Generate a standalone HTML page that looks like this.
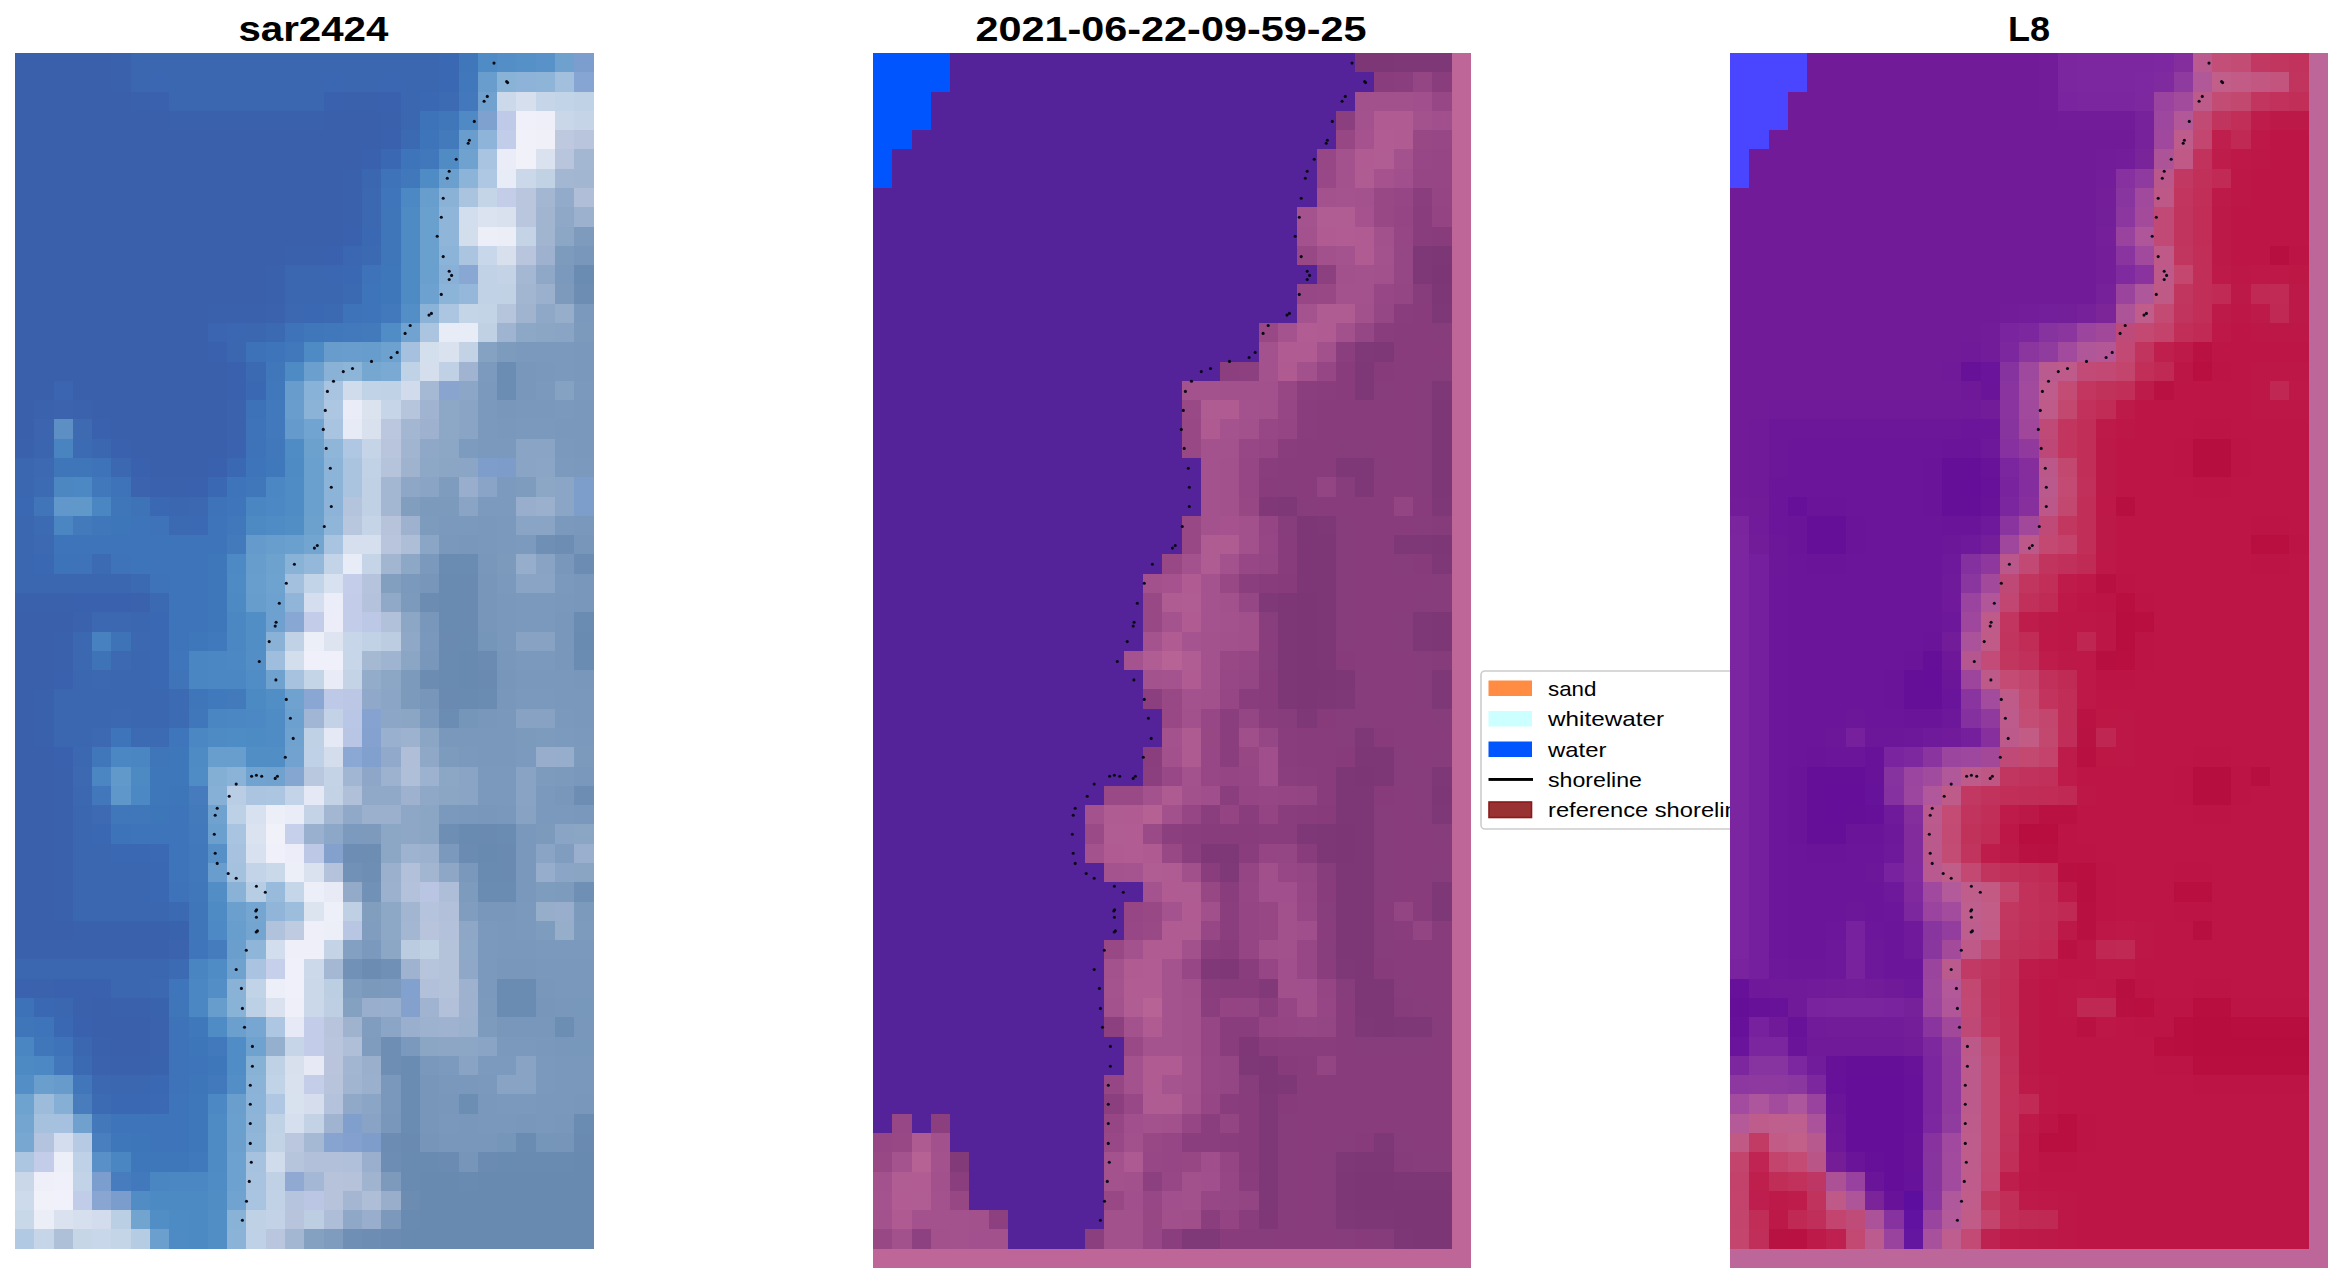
<!DOCTYPE html>
<html><head><meta charset="utf-8"><title>shoreline comparison</title>
<style>
html,body{margin:0;padding:0;background:#fff;}
body{width:2343px;height:1283px;position:relative;overflow:hidden;font-family:"Liberation Sans",sans-serif;}
</style></head><body>
<svg width="2343" height="1283" viewBox="0 0 2343 1283" style="position:absolute;left:0;top:0">
<g shape-rendering="crispEdges">
<!-- panel 1: sar2424 RGB -->
<rect x="15" y="53" width="96" height="19" fill="#3A60AC"/>
<rect x="111" y="53" width="20" height="19" fill="#3A61AC"/>
<rect x="131" y="53" width="19" height="19" fill="#3B66B0"/>
<rect x="150" y="53" width="289" height="19" fill="#3B67B1"/>
<rect x="439" y="53" width="20" height="19" fill="#3B68B2"/>
<rect x="459" y="53" width="19" height="19" fill="#4076BA"/>
<rect x="478" y="53" width="19" height="19" fill="#4F8BC4"/>
<rect x="497" y="53" width="19" height="19" fill="#538FC6"/>
<rect x="516" y="53" width="20" height="19" fill="#5590C7"/>
<rect x="536" y="53" width="19" height="19" fill="#5892C8"/>
<rect x="555" y="53" width="19" height="19" fill="#6FA1CF"/>
<rect x="574" y="53" width="20" height="19" fill="#7C9ECF"/>
<rect x="15" y="72" width="96" height="20" fill="#3A60AC"/>
<rect x="111" y="72" width="20" height="20" fill="#3A61AC"/>
<rect x="131" y="72" width="19" height="20" fill="#3B66B0"/>
<rect x="150" y="72" width="19" height="20" fill="#3B66B1"/>
<rect x="169" y="72" width="155" height="20" fill="#3B67B1"/>
<rect x="324" y="72" width="19" height="20" fill="#3B66B1"/>
<rect x="343" y="72" width="38" height="20" fill="#3B66B0"/>
<rect x="381" y="72" width="20" height="20" fill="#3B66B1"/>
<rect x="401" y="72" width="38" height="20" fill="#3B67B1"/>
<rect x="439" y="72" width="20" height="20" fill="#3B68B2"/>
<rect x="459" y="72" width="19" height="20" fill="#4177BB"/>
<rect x="478" y="72" width="19" height="20" fill="#689DCD"/>
<rect x="497" y="72" width="19" height="20" fill="#89B2D7"/>
<rect x="516" y="72" width="20" height="20" fill="#8DB4D8"/>
<rect x="536" y="72" width="19" height="20" fill="#8EB5D8"/>
<rect x="555" y="72" width="19" height="20" fill="#A2BFDD"/>
<rect x="574" y="72" width="20" height="20" fill="#86A5D2"/>
<rect x="15" y="92" width="116" height="19" fill="#3A60AC"/>
<rect x="131" y="92" width="19" height="19" fill="#3A61AC"/>
<rect x="150" y="92" width="19" height="19" fill="#3A61AD"/>
<rect x="169" y="92" width="155" height="19" fill="#3B66B0"/>
<rect x="324" y="92" width="19" height="19" fill="#3A61AD"/>
<rect x="343" y="92" width="38" height="19" fill="#3A61AC"/>
<rect x="381" y="92" width="20" height="19" fill="#3A61AD"/>
<rect x="401" y="92" width="19" height="19" fill="#3B67B1"/>
<rect x="420" y="92" width="19" height="19" fill="#3B68B2"/>
<rect x="439" y="92" width="20" height="19" fill="#3C6AB3"/>
<rect x="459" y="92" width="19" height="19" fill="#4379BC"/>
<rect x="478" y="92" width="19" height="19" fill="#70A1CF"/>
<rect x="497" y="92" width="19" height="19" fill="#CBD9EB"/>
<rect x="516" y="92" width="20" height="19" fill="#D5DFEE"/>
<rect x="536" y="92" width="19" height="19" fill="#C6D6E8"/>
<rect x="555" y="92" width="19" height="19" fill="#C2D4E7"/>
<rect x="574" y="92" width="20" height="19" fill="#C0D2E6"/>
<rect x="15" y="111" width="154" height="19" fill="#3A60AC"/>
<rect x="169" y="111" width="155" height="19" fill="#3A61AC"/>
<rect x="324" y="111" width="57" height="19" fill="#3A60AC"/>
<rect x="381" y="111" width="20" height="19" fill="#3A61AC"/>
<rect x="401" y="111" width="19" height="19" fill="#3B67B1"/>
<rect x="420" y="111" width="19" height="19" fill="#3D73B8"/>
<rect x="439" y="111" width="20" height="19" fill="#4076BA"/>
<rect x="459" y="111" width="19" height="19" fill="#508AC4"/>
<rect x="478" y="111" width="19" height="19" fill="#7FA1D0"/>
<rect x="497" y="111" width="19" height="19" fill="#BECAE8"/>
<rect x="516" y="111" width="20" height="19" fill="#EFF0F9"/>
<rect x="536" y="111" width="19" height="19" fill="#EEEFF8"/>
<rect x="555" y="111" width="19" height="19" fill="#C9D7E9"/>
<rect x="574" y="111" width="20" height="19" fill="#C5D4E7"/>
<rect x="15" y="130" width="366" height="19" fill="#3A60AC"/>
<rect x="381" y="130" width="20" height="19" fill="#3A61AD"/>
<rect x="401" y="130" width="19" height="19" fill="#3B69B2"/>
<rect x="420" y="130" width="19" height="19" fill="#3E74BA"/>
<rect x="439" y="130" width="20" height="19" fill="#427ABC"/>
<rect x="459" y="130" width="19" height="19" fill="#689DCD"/>
<rect x="478" y="130" width="19" height="19" fill="#8FB4D9"/>
<rect x="497" y="130" width="19" height="19" fill="#C2CDE9"/>
<rect x="516" y="130" width="20" height="19" fill="#F1F1FA"/>
<rect x="536" y="130" width="19" height="19" fill="#EFF0F8"/>
<rect x="555" y="130" width="19" height="19" fill="#BEC9E0"/>
<rect x="574" y="130" width="20" height="19" fill="#B8C5DC"/>
<rect x="15" y="149" width="347" height="20" fill="#3A60AC"/>
<rect x="362" y="149" width="19" height="20" fill="#3A61AD"/>
<rect x="381" y="149" width="20" height="20" fill="#3B68B2"/>
<rect x="401" y="149" width="19" height="20" fill="#3E74B9"/>
<rect x="420" y="149" width="19" height="20" fill="#4078BB"/>
<rect x="439" y="149" width="20" height="20" fill="#508BC4"/>
<rect x="459" y="149" width="19" height="20" fill="#6FA2CF"/>
<rect x="478" y="149" width="19" height="20" fill="#A9C4E0"/>
<rect x="497" y="149" width="19" height="20" fill="#EAEDF8"/>
<rect x="516" y="149" width="20" height="20" fill="#F0F1F9"/>
<rect x="536" y="149" width="19" height="20" fill="#DAE1EF"/>
<rect x="555" y="149" width="19" height="20" fill="#B9C5DD"/>
<rect x="574" y="149" width="20" height="20" fill="#A4B7D2"/>
<rect x="15" y="169" width="328" height="19" fill="#3A60AC"/>
<rect x="343" y="169" width="19" height="19" fill="#3A61AC"/>
<rect x="362" y="169" width="19" height="19" fill="#3B67B1"/>
<rect x="381" y="169" width="20" height="19" fill="#3E73B9"/>
<rect x="401" y="169" width="19" height="19" fill="#4078BB"/>
<rect x="420" y="169" width="19" height="19" fill="#4F8BC4"/>
<rect x="439" y="169" width="20" height="19" fill="#6BA0CE"/>
<rect x="459" y="169" width="19" height="19" fill="#8CB4D8"/>
<rect x="478" y="169" width="19" height="19" fill="#AEC7E2"/>
<rect x="497" y="169" width="19" height="19" fill="#E8ECF7"/>
<rect x="516" y="169" width="20" height="19" fill="#CBD8EA"/>
<rect x="536" y="169" width="19" height="19" fill="#C2D2E5"/>
<rect x="555" y="169" width="19" height="19" fill="#A4B7D2"/>
<rect x="574" y="169" width="20" height="19" fill="#A2B5D1"/>
<rect x="15" y="188" width="328" height="19" fill="#3A60AC"/>
<rect x="343" y="188" width="19" height="19" fill="#3A61AC"/>
<rect x="362" y="188" width="19" height="19" fill="#3B68B1"/>
<rect x="381" y="188" width="20" height="19" fill="#3F75BA"/>
<rect x="401" y="188" width="19" height="19" fill="#4C88C3"/>
<rect x="420" y="188" width="19" height="19" fill="#689ECD"/>
<rect x="439" y="188" width="20" height="19" fill="#8AB2D7"/>
<rect x="459" y="188" width="19" height="19" fill="#AAC4E0"/>
<rect x="478" y="188" width="19" height="19" fill="#C5D5E8"/>
<rect x="497" y="188" width="19" height="19" fill="#C3CDE8"/>
<rect x="516" y="188" width="20" height="19" fill="#BAC6DE"/>
<rect x="536" y="188" width="19" height="19" fill="#A3B7D2"/>
<rect x="555" y="188" width="19" height="19" fill="#93ABCA"/>
<rect x="574" y="188" width="20" height="19" fill="#B0BED8"/>
<rect x="15" y="207" width="328" height="20" fill="#3A60AC"/>
<rect x="343" y="207" width="19" height="20" fill="#3A61AC"/>
<rect x="362" y="207" width="19" height="20" fill="#3B68B1"/>
<rect x="381" y="207" width="20" height="20" fill="#3F76BA"/>
<rect x="401" y="207" width="19" height="20" fill="#4E8AC4"/>
<rect x="420" y="207" width="19" height="20" fill="#6AA0CE"/>
<rect x="439" y="207" width="20" height="20" fill="#8FB6D9"/>
<rect x="459" y="207" width="19" height="20" fill="#D2DEED"/>
<rect x="478" y="207" width="19" height="20" fill="#DCE3F0"/>
<rect x="497" y="207" width="19" height="20" fill="#D9E1EF"/>
<rect x="516" y="207" width="20" height="20" fill="#BAC6DE"/>
<rect x="536" y="207" width="19" height="20" fill="#A1B5D0"/>
<rect x="555" y="207" width="19" height="20" fill="#90A8C8"/>
<rect x="574" y="207" width="20" height="20" fill="#9CB1CE"/>
<rect x="15" y="227" width="328" height="19" fill="#3A60AC"/>
<rect x="343" y="227" width="19" height="19" fill="#3A61AD"/>
<rect x="362" y="227" width="19" height="19" fill="#3B68B2"/>
<rect x="381" y="227" width="20" height="19" fill="#3F76BA"/>
<rect x="401" y="227" width="19" height="19" fill="#4E8AC4"/>
<rect x="420" y="227" width="19" height="19" fill="#6AA0CE"/>
<rect x="439" y="227" width="20" height="19" fill="#8FB6D9"/>
<rect x="459" y="227" width="19" height="19" fill="#D3DEED"/>
<rect x="478" y="227" width="19" height="19" fill="#EDEFF8"/>
<rect x="497" y="227" width="19" height="19" fill="#ECEEF7"/>
<rect x="516" y="227" width="20" height="19" fill="#C4D3E6"/>
<rect x="536" y="227" width="19" height="19" fill="#A1B5D1"/>
<rect x="555" y="227" width="19" height="19" fill="#8CA6C6"/>
<rect x="574" y="227" width="20" height="19" fill="#7E9BBE"/>
<rect x="15" y="246" width="270" height="19" fill="#3A60AC"/>
<rect x="285" y="246" width="39" height="19" fill="#3A61AC"/>
<rect x="324" y="246" width="19" height="19" fill="#3A61AD"/>
<rect x="343" y="246" width="19" height="19" fill="#3B66B1"/>
<rect x="362" y="246" width="19" height="19" fill="#3B69B2"/>
<rect x="381" y="246" width="20" height="19" fill="#3F76BA"/>
<rect x="401" y="246" width="19" height="19" fill="#4E8AC4"/>
<rect x="420" y="246" width="19" height="19" fill="#6AA0CE"/>
<rect x="439" y="246" width="20" height="19" fill="#8CB3D8"/>
<rect x="459" y="246" width="19" height="19" fill="#ABC5E0"/>
<rect x="478" y="246" width="19" height="19" fill="#C8D7E9"/>
<rect x="497" y="246" width="19" height="19" fill="#D8E0EE"/>
<rect x="516" y="246" width="20" height="19" fill="#B8C5DD"/>
<rect x="536" y="246" width="19" height="19" fill="#9EB2CF"/>
<rect x="555" y="246" width="19" height="19" fill="#7D9BBD"/>
<rect x="574" y="246" width="20" height="19" fill="#7897BB"/>
<rect x="15" y="265" width="251" height="19" fill="#3A60AC"/>
<rect x="266" y="265" width="19" height="19" fill="#3A61AC"/>
<rect x="285" y="265" width="39" height="19" fill="#3B66B0"/>
<rect x="324" y="265" width="19" height="19" fill="#3B66B1"/>
<rect x="343" y="265" width="19" height="19" fill="#3B68B2"/>
<rect x="362" y="265" width="19" height="19" fill="#3E73B9"/>
<rect x="381" y="265" width="20" height="19" fill="#3F77BB"/>
<rect x="401" y="265" width="19" height="19" fill="#4E8AC4"/>
<rect x="420" y="265" width="19" height="19" fill="#6AA0CE"/>
<rect x="439" y="265" width="20" height="19" fill="#89B1D7"/>
<rect x="459" y="265" width="19" height="19" fill="#88A7D3"/>
<rect x="478" y="265" width="19" height="19" fill="#C1D2E6"/>
<rect x="497" y="265" width="19" height="19" fill="#C4D4E6"/>
<rect x="516" y="265" width="20" height="19" fill="#A5B8D3"/>
<rect x="536" y="265" width="19" height="19" fill="#8FA8C7"/>
<rect x="555" y="265" width="19" height="19" fill="#7B99BC"/>
<rect x="574" y="265" width="20" height="19" fill="#6B8CB2"/>
<rect x="15" y="284" width="251" height="20" fill="#3A60AC"/>
<rect x="266" y="284" width="19" height="20" fill="#3A61AC"/>
<rect x="285" y="284" width="19" height="20" fill="#3B66B0"/>
<rect x="304" y="284" width="39" height="20" fill="#3B67B1"/>
<rect x="343" y="284" width="19" height="20" fill="#3B69B2"/>
<rect x="362" y="284" width="19" height="20" fill="#3E74B9"/>
<rect x="381" y="284" width="20" height="20" fill="#3F77BB"/>
<rect x="401" y="284" width="19" height="20" fill="#4E8BC4"/>
<rect x="420" y="284" width="19" height="20" fill="#6DA1CF"/>
<rect x="439" y="284" width="20" height="20" fill="#8CB4D8"/>
<rect x="459" y="284" width="19" height="20" fill="#95B8DA"/>
<rect x="478" y="284" width="19" height="20" fill="#C1D2E6"/>
<rect x="497" y="284" width="19" height="20" fill="#C2D2E5"/>
<rect x="516" y="284" width="20" height="20" fill="#A2B6D2"/>
<rect x="536" y="284" width="19" height="20" fill="#9BB0CD"/>
<rect x="555" y="284" width="19" height="20" fill="#7D9ABD"/>
<rect x="574" y="284" width="20" height="20" fill="#6D8DB3"/>
<rect x="15" y="304" width="193" height="19" fill="#3A60AC"/>
<rect x="208" y="304" width="58" height="19" fill="#3A61AC"/>
<rect x="266" y="304" width="19" height="19" fill="#3A62AD"/>
<rect x="285" y="304" width="19" height="19" fill="#3B68B1"/>
<rect x="304" y="304" width="20" height="19" fill="#3B68B2"/>
<rect x="324" y="304" width="19" height="19" fill="#3B69B2"/>
<rect x="343" y="304" width="19" height="19" fill="#3E73B9"/>
<rect x="362" y="304" width="19" height="19" fill="#3E75BA"/>
<rect x="381" y="304" width="20" height="19" fill="#4179BC"/>
<rect x="401" y="304" width="19" height="19" fill="#538EC6"/>
<rect x="420" y="304" width="19" height="19" fill="#8AB3D7"/>
<rect x="439" y="304" width="20" height="19" fill="#ACC6E1"/>
<rect x="459" y="304" width="19" height="19" fill="#C4D5E8"/>
<rect x="478" y="304" width="19" height="19" fill="#C4D4E7"/>
<rect x="497" y="304" width="19" height="19" fill="#B6C4DC"/>
<rect x="516" y="304" width="20" height="19" fill="#A0B4D0"/>
<rect x="536" y="304" width="19" height="19" fill="#8FA8C7"/>
<rect x="555" y="304" width="19" height="19" fill="#97AECB"/>
<rect x="574" y="304" width="20" height="19" fill="#7B99BC"/>
<rect x="15" y="323" width="193" height="19" fill="#3A60AC"/>
<rect x="208" y="323" width="19" height="19" fill="#3B65B0"/>
<rect x="227" y="323" width="19" height="19" fill="#3B66B1"/>
<rect x="246" y="323" width="20" height="19" fill="#3B67B1"/>
<rect x="266" y="323" width="19" height="19" fill="#3B69B2"/>
<rect x="285" y="323" width="19" height="19" fill="#3E73B9"/>
<rect x="304" y="323" width="20" height="19" fill="#4076BA"/>
<rect x="324" y="323" width="19" height="19" fill="#4178BB"/>
<rect x="343" y="323" width="19" height="19" fill="#4279BC"/>
<rect x="362" y="323" width="19" height="19" fill="#437ABC"/>
<rect x="381" y="323" width="20" height="19" fill="#508CC5"/>
<rect x="401" y="323" width="19" height="19" fill="#70A3CF"/>
<rect x="420" y="323" width="19" height="19" fill="#ABC5E1"/>
<rect x="439" y="323" width="20" height="19" fill="#E7ECF6"/>
<rect x="459" y="323" width="19" height="19" fill="#E8ECF6"/>
<rect x="478" y="323" width="19" height="19" fill="#C0D1E4"/>
<rect x="497" y="323" width="19" height="19" fill="#9FB4D0"/>
<rect x="516" y="323" width="20" height="19" fill="#8DA7C6"/>
<rect x="536" y="323" width="19" height="19" fill="#8BA5C5"/>
<rect x="555" y="323" width="19" height="19" fill="#8AA4C5"/>
<rect x="574" y="323" width="20" height="19" fill="#7C9ABC"/>
<rect x="15" y="342" width="193" height="20" fill="#3A60AC"/>
<rect x="208" y="342" width="19" height="20" fill="#3A61AD"/>
<rect x="227" y="342" width="19" height="20" fill="#3B67B1"/>
<rect x="246" y="342" width="20" height="20" fill="#3D72B8"/>
<rect x="266" y="342" width="19" height="20" fill="#3E74B9"/>
<rect x="285" y="342" width="19" height="20" fill="#4078BB"/>
<rect x="304" y="342" width="20" height="20" fill="#4E8AC4"/>
<rect x="324" y="342" width="19" height="20" fill="#679CCC"/>
<rect x="343" y="342" width="19" height="20" fill="#689DCD"/>
<rect x="362" y="342" width="19" height="20" fill="#679DCC"/>
<rect x="381" y="342" width="20" height="20" fill="#6DA1CF"/>
<rect x="401" y="342" width="19" height="20" fill="#A5C1DF"/>
<rect x="420" y="342" width="19" height="20" fill="#D4DFED"/>
<rect x="439" y="342" width="20" height="20" fill="#DAE2EF"/>
<rect x="459" y="342" width="19" height="20" fill="#C3D3E5"/>
<rect x="478" y="342" width="19" height="20" fill="#85A2C2"/>
<rect x="497" y="342" width="19" height="20" fill="#7C9BBD"/>
<rect x="516" y="342" width="39" height="20" fill="#7B99BC"/>
<rect x="555" y="342" width="19" height="20" fill="#7A99BC"/>
<rect x="574" y="342" width="20" height="20" fill="#7A98BB"/>
<rect x="15" y="362" width="212" height="19" fill="#3A60AC"/>
<rect x="227" y="362" width="19" height="19" fill="#3A61AD"/>
<rect x="246" y="362" width="20" height="19" fill="#3B69B2"/>
<rect x="266" y="362" width="19" height="19" fill="#4076BA"/>
<rect x="285" y="362" width="19" height="19" fill="#4E8AC4"/>
<rect x="304" y="362" width="20" height="19" fill="#6BA0CE"/>
<rect x="324" y="362" width="19" height="19" fill="#8AB2D7"/>
<rect x="343" y="362" width="19" height="19" fill="#8DB5D8"/>
<rect x="362" y="362" width="19" height="19" fill="#75A7D1"/>
<rect x="381" y="362" width="20" height="19" fill="#7AA9D3"/>
<rect x="401" y="362" width="19" height="19" fill="#C0D2E6"/>
<rect x="420" y="362" width="19" height="19" fill="#D4DEEC"/>
<rect x="439" y="362" width="20" height="19" fill="#C1D1E5"/>
<rect x="459" y="362" width="19" height="19" fill="#A0B4D1"/>
<rect x="478" y="362" width="19" height="19" fill="#7C9ABD"/>
<rect x="497" y="362" width="19" height="19" fill="#6C8DB3"/>
<rect x="516" y="362" width="20" height="19" fill="#7897BA"/>
<rect x="536" y="362" width="19" height="19" fill="#7998BB"/>
<rect x="555" y="362" width="19" height="19" fill="#7A99BC"/>
<rect x="574" y="362" width="20" height="19" fill="#7A98BB"/>
<rect x="15" y="381" width="39" height="19" fill="#3A60AC"/>
<rect x="54" y="381" width="19" height="19" fill="#3B65B0"/>
<rect x="73" y="381" width="154" height="19" fill="#3A60AC"/>
<rect x="227" y="381" width="19" height="19" fill="#3A61AD"/>
<rect x="246" y="381" width="20" height="19" fill="#3B68B2"/>
<rect x="266" y="381" width="19" height="19" fill="#4178BB"/>
<rect x="285" y="381" width="19" height="19" fill="#679CCC"/>
<rect x="304" y="381" width="20" height="19" fill="#88B2D7"/>
<rect x="324" y="381" width="19" height="19" fill="#A8C4E0"/>
<rect x="343" y="381" width="19" height="19" fill="#D0DCEC"/>
<rect x="362" y="381" width="19" height="19" fill="#C1D3E7"/>
<rect x="381" y="381" width="20" height="19" fill="#C0D3E6"/>
<rect x="401" y="381" width="19" height="19" fill="#D1DBEB"/>
<rect x="420" y="381" width="19" height="19" fill="#A6B9D4"/>
<rect x="439" y="381" width="20" height="19" fill="#88A4CF"/>
<rect x="459" y="381" width="19" height="19" fill="#8CA6C7"/>
<rect x="478" y="381" width="19" height="19" fill="#7A99BC"/>
<rect x="497" y="381" width="19" height="19" fill="#6C8DB3"/>
<rect x="516" y="381" width="20" height="19" fill="#7897BA"/>
<rect x="536" y="381" width="19" height="19" fill="#7A99BC"/>
<rect x="555" y="381" width="19" height="19" fill="#86A2C3"/>
<rect x="574" y="381" width="20" height="19" fill="#7A99BC"/>
<rect x="15" y="400" width="19" height="19" fill="#3A60AC"/>
<rect x="34" y="400" width="20" height="19" fill="#3B62AD"/>
<rect x="54" y="400" width="19" height="19" fill="#3C64AE"/>
<rect x="73" y="400" width="19" height="19" fill="#3B62AD"/>
<rect x="92" y="400" width="135" height="19" fill="#3A60AC"/>
<rect x="227" y="400" width="19" height="19" fill="#3A62AD"/>
<rect x="246" y="400" width="20" height="19" fill="#3D72B8"/>
<rect x="266" y="400" width="19" height="19" fill="#4279BC"/>
<rect x="285" y="400" width="19" height="19" fill="#689DCD"/>
<rect x="304" y="400" width="20" height="19" fill="#8AB3D7"/>
<rect x="324" y="400" width="19" height="19" fill="#ADC6E1"/>
<rect x="343" y="400" width="19" height="19" fill="#EAEDF7"/>
<rect x="362" y="400" width="19" height="19" fill="#DBE3EF"/>
<rect x="381" y="400" width="20" height="19" fill="#C6D5E7"/>
<rect x="401" y="400" width="19" height="19" fill="#B7C5DC"/>
<rect x="420" y="400" width="19" height="19" fill="#A0B4D1"/>
<rect x="439" y="400" width="20" height="19" fill="#8DA7C7"/>
<rect x="459" y="400" width="19" height="19" fill="#8AA4C5"/>
<rect x="478" y="400" width="19" height="19" fill="#7A99BC"/>
<rect x="497" y="400" width="19" height="19" fill="#7897BA"/>
<rect x="516" y="400" width="39" height="19" fill="#7998BB"/>
<rect x="555" y="400" width="19" height="19" fill="#7A99BC"/>
<rect x="574" y="400" width="20" height="19" fill="#7A98BB"/>
<rect x="15" y="419" width="19" height="20" fill="#3A60AC"/>
<rect x="34" y="419" width="20" height="20" fill="#3D64AE"/>
<rect x="54" y="419" width="19" height="20" fill="#5D8FC5"/>
<rect x="73" y="419" width="19" height="20" fill="#3E6AB2"/>
<rect x="92" y="419" width="19" height="20" fill="#3A61AD"/>
<rect x="111" y="419" width="116" height="20" fill="#3A60AC"/>
<rect x="227" y="419" width="19" height="20" fill="#3A62AD"/>
<rect x="246" y="419" width="20" height="20" fill="#3E73B9"/>
<rect x="266" y="419" width="19" height="20" fill="#4279BC"/>
<rect x="285" y="419" width="19" height="20" fill="#659BCC"/>
<rect x="304" y="419" width="20" height="20" fill="#71A4D0"/>
<rect x="324" y="419" width="19" height="20" fill="#A9C4E0"/>
<rect x="343" y="419" width="19" height="20" fill="#E7EBF6"/>
<rect x="362" y="419" width="19" height="20" fill="#D9E1EE"/>
<rect x="381" y="419" width="20" height="20" fill="#BAC7DE"/>
<rect x="401" y="419" width="19" height="20" fill="#A3B6D2"/>
<rect x="420" y="419" width="19" height="20" fill="#9EB2CF"/>
<rect x="439" y="419" width="20" height="20" fill="#8DA7C6"/>
<rect x="459" y="419" width="19" height="20" fill="#89A4C4"/>
<rect x="478" y="419" width="19" height="20" fill="#7A99BC"/>
<rect x="497" y="419" width="19" height="20" fill="#7998BB"/>
<rect x="516" y="419" width="39" height="20" fill="#7A99BC"/>
<rect x="555" y="419" width="39" height="20" fill="#7998BB"/>
<rect x="15" y="439" width="19" height="19" fill="#3A61AC"/>
<rect x="34" y="439" width="20" height="19" fill="#3C65AF"/>
<rect x="54" y="439" width="19" height="19" fill="#4983C0"/>
<rect x="73" y="439" width="19" height="19" fill="#3D6BB3"/>
<rect x="92" y="439" width="19" height="19" fill="#3B67B1"/>
<rect x="111" y="439" width="20" height="19" fill="#3A61AD"/>
<rect x="131" y="439" width="96" height="19" fill="#3A60AC"/>
<rect x="227" y="439" width="19" height="19" fill="#3A62AE"/>
<rect x="246" y="439" width="20" height="19" fill="#3E73B9"/>
<rect x="266" y="439" width="19" height="19" fill="#4078BB"/>
<rect x="285" y="439" width="19" height="19" fill="#4F8BC4"/>
<rect x="304" y="439" width="20" height="19" fill="#6CA1CE"/>
<rect x="324" y="439" width="19" height="19" fill="#8FB6D9"/>
<rect x="343" y="439" width="19" height="19" fill="#AFC7E2"/>
<rect x="362" y="439" width="19" height="19" fill="#C5D4E7"/>
<rect x="381" y="439" width="20" height="19" fill="#B8C5DC"/>
<rect x="401" y="439" width="19" height="19" fill="#A1B5D0"/>
<rect x="420" y="439" width="19" height="19" fill="#8FA8C8"/>
<rect x="439" y="439" width="20" height="19" fill="#8CA6C6"/>
<rect x="459" y="439" width="19" height="19" fill="#7D9BBE"/>
<rect x="478" y="439" width="19" height="19" fill="#7A99BD"/>
<rect x="497" y="439" width="19" height="19" fill="#7B99BD"/>
<rect x="516" y="439" width="20" height="19" fill="#89A4C5"/>
<rect x="536" y="439" width="19" height="19" fill="#89A4C4"/>
<rect x="555" y="439" width="19" height="19" fill="#7A99BC"/>
<rect x="574" y="439" width="20" height="19" fill="#7998BB"/>
<rect x="15" y="458" width="19" height="19" fill="#3B66B0"/>
<rect x="34" y="458" width="20" height="19" fill="#3C69B2"/>
<rect x="54" y="458" width="38" height="19" fill="#3F76BA"/>
<rect x="92" y="458" width="19" height="19" fill="#3E73B9"/>
<rect x="111" y="458" width="20" height="19" fill="#3B68B1"/>
<rect x="131" y="458" width="19" height="19" fill="#3A61AD"/>
<rect x="150" y="458" width="58" height="19" fill="#3A60AC"/>
<rect x="208" y="458" width="19" height="19" fill="#3A61AD"/>
<rect x="227" y="458" width="19" height="19" fill="#3B68B2"/>
<rect x="246" y="458" width="20" height="19" fill="#3E74B9"/>
<rect x="266" y="458" width="19" height="19" fill="#4078BC"/>
<rect x="285" y="458" width="19" height="19" fill="#4E8BC4"/>
<rect x="304" y="458" width="20" height="19" fill="#6AA0CE"/>
<rect x="324" y="458" width="19" height="19" fill="#8CB4D8"/>
<rect x="343" y="458" width="19" height="19" fill="#AAC4E0"/>
<rect x="362" y="458" width="19" height="19" fill="#C1D2E6"/>
<rect x="381" y="458" width="20" height="19" fill="#B5C3DB"/>
<rect x="401" y="458" width="19" height="19" fill="#9FB3CF"/>
<rect x="420" y="458" width="19" height="19" fill="#8DA7C6"/>
<rect x="439" y="458" width="20" height="19" fill="#8BA5C5"/>
<rect x="459" y="458" width="19" height="19" fill="#8AA5C6"/>
<rect x="478" y="458" width="19" height="19" fill="#7E9DCB"/>
<rect x="497" y="458" width="19" height="19" fill="#7D9CCA"/>
<rect x="516" y="458" width="20" height="19" fill="#89A4C5"/>
<rect x="536" y="458" width="19" height="19" fill="#8AA5C5"/>
<rect x="555" y="458" width="19" height="19" fill="#7C9ABD"/>
<rect x="574" y="458" width="20" height="19" fill="#7A99BD"/>
<rect x="15" y="477" width="19" height="20" fill="#3B67B1"/>
<rect x="34" y="477" width="20" height="20" fill="#3D6BB3"/>
<rect x="54" y="477" width="19" height="20" fill="#4C87C2"/>
<rect x="73" y="477" width="19" height="20" fill="#4C88C3"/>
<rect x="92" y="477" width="19" height="20" fill="#4078BB"/>
<rect x="111" y="477" width="20" height="20" fill="#3E73B9"/>
<rect x="131" y="477" width="19" height="20" fill="#3B63AE"/>
<rect x="150" y="477" width="19" height="20" fill="#3A61AD"/>
<rect x="169" y="477" width="20" height="20" fill="#3A61AC"/>
<rect x="189" y="477" width="19" height="20" fill="#3A61AD"/>
<rect x="208" y="477" width="19" height="20" fill="#3B68B2"/>
<rect x="227" y="477" width="19" height="20" fill="#3E74B9"/>
<rect x="246" y="477" width="20" height="20" fill="#4077BB"/>
<rect x="266" y="477" width="19" height="20" fill="#4A87C3"/>
<rect x="285" y="477" width="19" height="20" fill="#4F8CC5"/>
<rect x="304" y="477" width="20" height="20" fill="#6AA0CE"/>
<rect x="324" y="477" width="19" height="20" fill="#8CB4D8"/>
<rect x="343" y="477" width="19" height="20" fill="#AAC4E0"/>
<rect x="362" y="477" width="19" height="20" fill="#C0D1E5"/>
<rect x="381" y="477" width="20" height="20" fill="#A3B7D2"/>
<rect x="401" y="477" width="19" height="20" fill="#8EA7C7"/>
<rect x="420" y="477" width="19" height="20" fill="#8AA4C5"/>
<rect x="439" y="477" width="20" height="20" fill="#7E9CBE"/>
<rect x="459" y="477" width="19" height="20" fill="#98AECC"/>
<rect x="478" y="477" width="19" height="20" fill="#89A4C6"/>
<rect x="497" y="477" width="19" height="20" fill="#7C9ABE"/>
<rect x="516" y="477" width="20" height="20" fill="#7E9CBE"/>
<rect x="536" y="477" width="19" height="20" fill="#8CA6C6"/>
<rect x="555" y="477" width="19" height="20" fill="#8AA5C6"/>
<rect x="574" y="477" width="20" height="20" fill="#7D9DCB"/>
<rect x="15" y="497" width="19" height="19" fill="#3B68B2"/>
<rect x="34" y="497" width="20" height="19" fill="#4075BA"/>
<rect x="54" y="497" width="19" height="19" fill="#6197CA"/>
<rect x="73" y="497" width="19" height="19" fill="#6198CA"/>
<rect x="92" y="497" width="19" height="19" fill="#4A86C2"/>
<rect x="111" y="497" width="20" height="19" fill="#3F76BA"/>
<rect x="131" y="497" width="19" height="19" fill="#3E73B8"/>
<rect x="150" y="497" width="19" height="19" fill="#3B68B2"/>
<rect x="169" y="497" width="20" height="19" fill="#3B67B1"/>
<rect x="189" y="497" width="19" height="19" fill="#3B68B1"/>
<rect x="208" y="497" width="19" height="19" fill="#3E73B9"/>
<rect x="227" y="497" width="19" height="19" fill="#3F76BB"/>
<rect x="246" y="497" width="20" height="19" fill="#4A87C2"/>
<rect x="266" y="497" width="19" height="19" fill="#4C89C4"/>
<rect x="285" y="497" width="19" height="19" fill="#4F8CC5"/>
<rect x="304" y="497" width="20" height="19" fill="#6AA0CE"/>
<rect x="324" y="497" width="19" height="19" fill="#8DB4D8"/>
<rect x="343" y="497" width="19" height="19" fill="#B4C4DD"/>
<rect x="362" y="497" width="19" height="19" fill="#C1D1E5"/>
<rect x="381" y="497" width="20" height="19" fill="#A3B6D2"/>
<rect x="401" y="497" width="19" height="19" fill="#819EBF"/>
<rect x="420" y="497" width="39" height="19" fill="#7B9ABC"/>
<rect x="459" y="497" width="19" height="19" fill="#89A4C4"/>
<rect x="478" y="497" width="38" height="19" fill="#7C9ABD"/>
<rect x="516" y="497" width="20" height="19" fill="#98AECC"/>
<rect x="536" y="497" width="19" height="19" fill="#9AB0CD"/>
<rect x="555" y="497" width="19" height="19" fill="#8AA5C6"/>
<rect x="574" y="497" width="20" height="19" fill="#7D9DCB"/>
<rect x="15" y="516" width="19" height="19" fill="#3B67B1"/>
<rect x="34" y="516" width="20" height="19" fill="#3D6BB3"/>
<rect x="54" y="516" width="19" height="19" fill="#4B86C2"/>
<rect x="73" y="516" width="19" height="19" fill="#427ABC"/>
<rect x="92" y="516" width="19" height="19" fill="#4077BB"/>
<rect x="111" y="516" width="20" height="19" fill="#3E76BA"/>
<rect x="131" y="516" width="19" height="19" fill="#3E75BA"/>
<rect x="150" y="516" width="19" height="19" fill="#3E73B9"/>
<rect x="169" y="516" width="20" height="19" fill="#3B69B2"/>
<rect x="189" y="516" width="19" height="19" fill="#3C69B3"/>
<rect x="208" y="516" width="19" height="19" fill="#3E74B9"/>
<rect x="227" y="516" width="19" height="19" fill="#4078BB"/>
<rect x="246" y="516" width="20" height="19" fill="#4D8AC4"/>
<rect x="266" y="516" width="19" height="19" fill="#4F8CC5"/>
<rect x="285" y="516" width="19" height="19" fill="#518EC6"/>
<rect x="304" y="516" width="20" height="19" fill="#6CA1CE"/>
<rect x="324" y="516" width="19" height="19" fill="#8FB5D8"/>
<rect x="343" y="516" width="19" height="19" fill="#B8C7DE"/>
<rect x="362" y="516" width="19" height="19" fill="#C5D4E6"/>
<rect x="381" y="516" width="20" height="19" fill="#B6C3DB"/>
<rect x="401" y="516" width="19" height="19" fill="#9EB2CF"/>
<rect x="420" y="516" width="19" height="19" fill="#7D9BBD"/>
<rect x="439" y="516" width="39" height="19" fill="#7A99BC"/>
<rect x="478" y="516" width="19" height="19" fill="#7998BB"/>
<rect x="497" y="516" width="19" height="19" fill="#7B99BC"/>
<rect x="516" y="516" width="20" height="19" fill="#8AA4C5"/>
<rect x="536" y="516" width="19" height="19" fill="#89A4C4"/>
<rect x="555" y="516" width="19" height="19" fill="#7B99BC"/>
<rect x="574" y="516" width="20" height="19" fill="#7998BC"/>
<rect x="15" y="535" width="19" height="19" fill="#3B67B1"/>
<rect x="34" y="535" width="20" height="19" fill="#3C69B2"/>
<rect x="54" y="535" width="38" height="19" fill="#3E75BA"/>
<rect x="92" y="535" width="19" height="19" fill="#3E74BA"/>
<rect x="111" y="535" width="58" height="19" fill="#3E75BA"/>
<rect x="169" y="535" width="39" height="19" fill="#3E74B9"/>
<rect x="208" y="535" width="19" height="19" fill="#3E75BA"/>
<rect x="227" y="535" width="19" height="19" fill="#427ABC"/>
<rect x="246" y="535" width="20" height="19" fill="#649BCC"/>
<rect x="266" y="535" width="19" height="19" fill="#689ECD"/>
<rect x="285" y="535" width="19" height="19" fill="#6AA0CE"/>
<rect x="304" y="535" width="20" height="19" fill="#72A5D0"/>
<rect x="324" y="535" width="19" height="19" fill="#A9C4E0"/>
<rect x="343" y="535" width="19" height="19" fill="#D6DFEE"/>
<rect x="362" y="535" width="19" height="19" fill="#D6DFED"/>
<rect x="381" y="535" width="20" height="19" fill="#B8C5DC"/>
<rect x="401" y="535" width="19" height="19" fill="#AFBED7"/>
<rect x="420" y="535" width="19" height="19" fill="#8AA5C5"/>
<rect x="439" y="535" width="20" height="19" fill="#7998BB"/>
<rect x="459" y="535" width="19" height="19" fill="#7897BA"/>
<rect x="478" y="535" width="19" height="19" fill="#7998BB"/>
<rect x="497" y="535" width="19" height="19" fill="#7A99BC"/>
<rect x="516" y="535" width="20" height="19" fill="#7C9ABD"/>
<rect x="536" y="535" width="19" height="19" fill="#708FB5"/>
<rect x="555" y="535" width="19" height="19" fill="#6D8DB3"/>
<rect x="574" y="535" width="20" height="19" fill="#7796BA"/>
<rect x="15" y="554" width="19" height="20" fill="#3B67B1"/>
<rect x="34" y="554" width="20" height="20" fill="#3B68B2"/>
<rect x="54" y="554" width="19" height="20" fill="#3D73B8"/>
<rect x="73" y="554" width="19" height="20" fill="#3E73B9"/>
<rect x="92" y="554" width="19" height="20" fill="#3C6AB3"/>
<rect x="111" y="554" width="20" height="20" fill="#3E73B9"/>
<rect x="131" y="554" width="19" height="20" fill="#3E74B9"/>
<rect x="150" y="554" width="58" height="20" fill="#3E75BA"/>
<rect x="208" y="554" width="19" height="20" fill="#3F77BB"/>
<rect x="227" y="554" width="19" height="20" fill="#4D89C4"/>
<rect x="246" y="554" width="20" height="20" fill="#679DCD"/>
<rect x="266" y="554" width="19" height="20" fill="#6DA2CF"/>
<rect x="285" y="554" width="19" height="20" fill="#89B2D7"/>
<rect x="304" y="554" width="20" height="20" fill="#93B8DA"/>
<rect x="324" y="554" width="19" height="20" fill="#C3D4E8"/>
<rect x="343" y="554" width="19" height="20" fill="#E8ECF6"/>
<rect x="362" y="554" width="19" height="20" fill="#C5D4E6"/>
<rect x="381" y="554" width="20" height="20" fill="#A2B6D1"/>
<rect x="401" y="554" width="19" height="20" fill="#8DA7C6"/>
<rect x="420" y="554" width="19" height="20" fill="#7B99BC"/>
<rect x="439" y="554" width="39" height="20" fill="#6B8CB2"/>
<rect x="478" y="554" width="19" height="20" fill="#7897BA"/>
<rect x="497" y="554" width="19" height="20" fill="#7B9ABC"/>
<rect x="516" y="554" width="20" height="20" fill="#96ADCB"/>
<rect x="536" y="554" width="19" height="20" fill="#88A3C4"/>
<rect x="555" y="554" width="19" height="20" fill="#7897BA"/>
<rect x="574" y="554" width="20" height="20" fill="#6C8CB3"/>
<rect x="15" y="574" width="19" height="19" fill="#3B66B0"/>
<rect x="34" y="574" width="97" height="19" fill="#3B67B1"/>
<rect x="131" y="574" width="19" height="19" fill="#3B69B2"/>
<rect x="150" y="574" width="19" height="19" fill="#3E73B9"/>
<rect x="169" y="574" width="39" height="19" fill="#3E75BA"/>
<rect x="208" y="574" width="19" height="19" fill="#3F77BB"/>
<rect x="227" y="574" width="19" height="19" fill="#4E8AC4"/>
<rect x="246" y="574" width="20" height="19" fill="#679ECD"/>
<rect x="266" y="574" width="19" height="19" fill="#6FA3CF"/>
<rect x="285" y="574" width="19" height="19" fill="#A3C0DE"/>
<rect x="304" y="574" width="20" height="19" fill="#C2D4E7"/>
<rect x="324" y="574" width="19" height="19" fill="#D8E1EF"/>
<rect x="343" y="574" width="19" height="19" fill="#C4CDE9"/>
<rect x="362" y="574" width="19" height="19" fill="#B6C3DC"/>
<rect x="381" y="574" width="20" height="19" fill="#839FC0"/>
<rect x="401" y="574" width="19" height="19" fill="#7B99BC"/>
<rect x="420" y="574" width="19" height="19" fill="#7796BA"/>
<rect x="439" y="574" width="20" height="19" fill="#698AB1"/>
<rect x="459" y="574" width="19" height="19" fill="#6A8AB1"/>
<rect x="478" y="574" width="19" height="19" fill="#7796BA"/>
<rect x="497" y="574" width="19" height="19" fill="#7B99BC"/>
<rect x="516" y="574" width="20" height="19" fill="#8AA4C5"/>
<rect x="536" y="574" width="19" height="19" fill="#89A4C4"/>
<rect x="555" y="574" width="19" height="19" fill="#7A99BC"/>
<rect x="574" y="574" width="20" height="19" fill="#7897BA"/>
<rect x="15" y="593" width="58" height="19" fill="#3A61AC"/>
<rect x="73" y="593" width="58" height="19" fill="#3A61AD"/>
<rect x="131" y="593" width="19" height="19" fill="#3A62AD"/>
<rect x="150" y="593" width="19" height="19" fill="#3B69B2"/>
<rect x="169" y="593" width="20" height="19" fill="#3E74B9"/>
<rect x="189" y="593" width="19" height="19" fill="#3E75BA"/>
<rect x="208" y="593" width="19" height="19" fill="#3F77BB"/>
<rect x="227" y="593" width="19" height="19" fill="#4D8AC4"/>
<rect x="246" y="593" width="20" height="19" fill="#669DCC"/>
<rect x="266" y="593" width="19" height="19" fill="#6DA1CF"/>
<rect x="285" y="593" width="19" height="19" fill="#90B5D9"/>
<rect x="304" y="593" width="20" height="19" fill="#D4DEEE"/>
<rect x="324" y="593" width="19" height="19" fill="#EBEDF8"/>
<rect x="343" y="593" width="19" height="19" fill="#C3CCE9"/>
<rect x="362" y="593" width="19" height="19" fill="#B5C2DC"/>
<rect x="381" y="593" width="20" height="19" fill="#90A9C8"/>
<rect x="401" y="593" width="19" height="19" fill="#7C9ABC"/>
<rect x="420" y="593" width="19" height="19" fill="#6C8CB2"/>
<rect x="439" y="593" width="20" height="19" fill="#698AB1"/>
<rect x="459" y="593" width="19" height="19" fill="#6A8AB1"/>
<rect x="478" y="593" width="19" height="19" fill="#7796BA"/>
<rect x="497" y="593" width="19" height="19" fill="#7998BB"/>
<rect x="516" y="593" width="39" height="19" fill="#7A99BC"/>
<rect x="555" y="593" width="19" height="19" fill="#7998BB"/>
<rect x="574" y="593" width="20" height="19" fill="#7897BA"/>
<rect x="15" y="612" width="58" height="20" fill="#3A60AC"/>
<rect x="73" y="612" width="19" height="20" fill="#3B62AD"/>
<rect x="92" y="612" width="19" height="20" fill="#3C68B1"/>
<rect x="111" y="612" width="20" height="20" fill="#3B68B1"/>
<rect x="131" y="612" width="19" height="20" fill="#3B67B1"/>
<rect x="150" y="612" width="19" height="20" fill="#3B68B2"/>
<rect x="169" y="612" width="20" height="20" fill="#3E74B9"/>
<rect x="189" y="612" width="19" height="20" fill="#3E75BA"/>
<rect x="208" y="612" width="19" height="20" fill="#3F77BB"/>
<rect x="227" y="612" width="19" height="20" fill="#4B88C3"/>
<rect x="246" y="612" width="20" height="20" fill="#518EC6"/>
<rect x="266" y="612" width="19" height="20" fill="#6EA1CF"/>
<rect x="285" y="612" width="19" height="20" fill="#88A7D3"/>
<rect x="304" y="612" width="20" height="20" fill="#C3CDE9"/>
<rect x="324" y="612" width="19" height="20" fill="#ECEDF8"/>
<rect x="343" y="612" width="19" height="20" fill="#C3CDE9"/>
<rect x="362" y="612" width="19" height="20" fill="#BDC8E6"/>
<rect x="381" y="612" width="20" height="20" fill="#B2C1DA"/>
<rect x="401" y="612" width="19" height="20" fill="#8CA6C6"/>
<rect x="420" y="612" width="19" height="20" fill="#7897BA"/>
<rect x="439" y="612" width="20" height="20" fill="#698AB1"/>
<rect x="459" y="612" width="19" height="20" fill="#6A8AB1"/>
<rect x="478" y="612" width="19" height="20" fill="#7796BA"/>
<rect x="497" y="612" width="19" height="20" fill="#7998BB"/>
<rect x="516" y="612" width="39" height="20" fill="#7A99BC"/>
<rect x="555" y="612" width="19" height="20" fill="#7897BA"/>
<rect x="574" y="612" width="20" height="20" fill="#6B8CB2"/>
<rect x="15" y="632" width="39" height="19" fill="#3A60AC"/>
<rect x="54" y="632" width="19" height="19" fill="#3A61AC"/>
<rect x="73" y="632" width="19" height="19" fill="#3C68B1"/>
<rect x="92" y="632" width="19" height="19" fill="#4781BF"/>
<rect x="111" y="632" width="20" height="19" fill="#3E73B8"/>
<rect x="131" y="632" width="19" height="19" fill="#3B68B1"/>
<rect x="150" y="632" width="19" height="19" fill="#3B68B2"/>
<rect x="169" y="632" width="20" height="19" fill="#3E74B9"/>
<rect x="189" y="632" width="19" height="19" fill="#3F77BB"/>
<rect x="208" y="632" width="19" height="19" fill="#4079BC"/>
<rect x="227" y="632" width="19" height="19" fill="#4B88C3"/>
<rect x="246" y="632" width="20" height="19" fill="#528EC6"/>
<rect x="266" y="632" width="19" height="19" fill="#8AB2D7"/>
<rect x="285" y="632" width="19" height="19" fill="#C1D2E7"/>
<rect x="304" y="632" width="20" height="19" fill="#ECEEF8"/>
<rect x="324" y="632" width="19" height="19" fill="#DEE5F1"/>
<rect x="343" y="632" width="19" height="19" fill="#C8D6E9"/>
<rect x="362" y="632" width="19" height="19" fill="#C2D2E6"/>
<rect x="381" y="632" width="20" height="19" fill="#BCCDE2"/>
<rect x="401" y="632" width="19" height="19" fill="#8FA8C7"/>
<rect x="420" y="632" width="19" height="19" fill="#7998BB"/>
<rect x="439" y="632" width="20" height="19" fill="#6A8AB1"/>
<rect x="459" y="632" width="19" height="19" fill="#698AB1"/>
<rect x="478" y="632" width="19" height="19" fill="#7696B9"/>
<rect x="497" y="632" width="19" height="19" fill="#7A98BB"/>
<rect x="516" y="632" width="39" height="19" fill="#87A2C3"/>
<rect x="555" y="632" width="19" height="19" fill="#7897BA"/>
<rect x="574" y="632" width="20" height="19" fill="#6A8BB1"/>
<rect x="15" y="651" width="39" height="19" fill="#3A60AC"/>
<rect x="54" y="651" width="19" height="19" fill="#3A61AC"/>
<rect x="73" y="651" width="19" height="19" fill="#3B68B1"/>
<rect x="92" y="651" width="19" height="19" fill="#3E73B8"/>
<rect x="111" y="651" width="20" height="19" fill="#3C69B2"/>
<rect x="131" y="651" width="19" height="19" fill="#3B67B1"/>
<rect x="150" y="651" width="19" height="19" fill="#3B68B2"/>
<rect x="169" y="651" width="20" height="19" fill="#3F75BA"/>
<rect x="189" y="651" width="19" height="19" fill="#4A86C2"/>
<rect x="208" y="651" width="19" height="19" fill="#4B88C3"/>
<rect x="227" y="651" width="19" height="19" fill="#4C89C4"/>
<rect x="246" y="651" width="20" height="19" fill="#538EC6"/>
<rect x="266" y="651" width="19" height="19" fill="#9FBEDD"/>
<rect x="285" y="651" width="19" height="19" fill="#D3DEED"/>
<rect x="304" y="651" width="39" height="19" fill="#EFF0F9"/>
<rect x="343" y="651" width="19" height="19" fill="#C7D6E8"/>
<rect x="362" y="651" width="19" height="19" fill="#A5B9D3"/>
<rect x="381" y="651" width="20" height="19" fill="#9FB4D0"/>
<rect x="401" y="651" width="19" height="19" fill="#8BA5C5"/>
<rect x="420" y="651" width="19" height="19" fill="#7897BA"/>
<rect x="439" y="651" width="20" height="19" fill="#698AB1"/>
<rect x="459" y="651" width="19" height="19" fill="#6889B0"/>
<rect x="478" y="651" width="19" height="19" fill="#6B8BB2"/>
<rect x="497" y="651" width="19" height="19" fill="#7897BA"/>
<rect x="516" y="651" width="39" height="19" fill="#7A99BC"/>
<rect x="555" y="651" width="19" height="19" fill="#7897BA"/>
<rect x="574" y="651" width="20" height="19" fill="#6B8CB2"/>
<rect x="15" y="670" width="39" height="19" fill="#3A60AC"/>
<rect x="54" y="670" width="19" height="19" fill="#3A61AD"/>
<rect x="73" y="670" width="19" height="19" fill="#3B67B1"/>
<rect x="92" y="670" width="19" height="19" fill="#3B68B1"/>
<rect x="111" y="670" width="39" height="19" fill="#3B67B1"/>
<rect x="150" y="670" width="19" height="19" fill="#3B68B2"/>
<rect x="169" y="670" width="20" height="19" fill="#3F74B9"/>
<rect x="189" y="670" width="19" height="19" fill="#4986C2"/>
<rect x="208" y="670" width="38" height="19" fill="#4B88C3"/>
<rect x="246" y="670" width="20" height="19" fill="#508CC5"/>
<rect x="266" y="670" width="19" height="19" fill="#6FA2CF"/>
<rect x="285" y="670" width="19" height="19" fill="#A6C2DF"/>
<rect x="304" y="670" width="20" height="19" fill="#C5D5E8"/>
<rect x="324" y="670" width="19" height="19" fill="#E9ECF7"/>
<rect x="343" y="670" width="19" height="19" fill="#C4D3E6"/>
<rect x="362" y="670" width="19" height="19" fill="#93ACCA"/>
<rect x="381" y="670" width="20" height="19" fill="#8CA6C6"/>
<rect x="401" y="670" width="19" height="19" fill="#7C9ABC"/>
<rect x="420" y="670" width="19" height="19" fill="#6C8CB2"/>
<rect x="439" y="670" width="20" height="19" fill="#698AB1"/>
<rect x="459" y="670" width="19" height="19" fill="#6889B0"/>
<rect x="478" y="670" width="19" height="19" fill="#6A8AB1"/>
<rect x="497" y="670" width="19" height="19" fill="#7796BA"/>
<rect x="516" y="670" width="58" height="19" fill="#7998BB"/>
<rect x="574" y="670" width="20" height="19" fill="#7897BA"/>
<rect x="15" y="689" width="19" height="20" fill="#3A60AC"/>
<rect x="34" y="689" width="20" height="20" fill="#3A61AC"/>
<rect x="54" y="689" width="19" height="20" fill="#3B66B0"/>
<rect x="73" y="689" width="96" height="20" fill="#3B67B1"/>
<rect x="169" y="689" width="20" height="20" fill="#3C6AB3"/>
<rect x="189" y="689" width="19" height="20" fill="#3F76BA"/>
<rect x="208" y="689" width="19" height="20" fill="#4079BC"/>
<rect x="227" y="689" width="19" height="20" fill="#427ABC"/>
<rect x="246" y="689" width="20" height="20" fill="#4C8AC4"/>
<rect x="266" y="689" width="19" height="20" fill="#528EC6"/>
<rect x="285" y="689" width="19" height="20" fill="#70A2CF"/>
<rect x="304" y="689" width="20" height="20" fill="#8AA7D3"/>
<rect x="324" y="689" width="19" height="20" fill="#BEC9E7"/>
<rect x="343" y="689" width="19" height="20" fill="#BBC7E5"/>
<rect x="362" y="689" width="19" height="20" fill="#90A9CA"/>
<rect x="381" y="689" width="20" height="20" fill="#8AA5C5"/>
<rect x="401" y="689" width="19" height="20" fill="#7B9ABC"/>
<rect x="420" y="689" width="19" height="20" fill="#7796BA"/>
<rect x="439" y="689" width="20" height="20" fill="#6A8AB1"/>
<rect x="459" y="689" width="19" height="20" fill="#698AB1"/>
<rect x="478" y="689" width="19" height="20" fill="#6B8CB2"/>
<rect x="497" y="689" width="19" height="20" fill="#7897BA"/>
<rect x="516" y="689" width="39" height="20" fill="#7A99BC"/>
<rect x="555" y="689" width="39" height="20" fill="#7998BB"/>
<rect x="15" y="709" width="19" height="19" fill="#3A60AC"/>
<rect x="34" y="709" width="20" height="19" fill="#3A61AC"/>
<rect x="54" y="709" width="19" height="19" fill="#3B66B0"/>
<rect x="73" y="709" width="38" height="19" fill="#3B67B1"/>
<rect x="111" y="709" width="20" height="19" fill="#3B68B1"/>
<rect x="131" y="709" width="38" height="19" fill="#3B67B1"/>
<rect x="169" y="709" width="20" height="19" fill="#3C6AB3"/>
<rect x="189" y="709" width="19" height="19" fill="#4077BB"/>
<rect x="208" y="709" width="19" height="19" fill="#4A87C2"/>
<rect x="227" y="709" width="19" height="19" fill="#4B88C3"/>
<rect x="246" y="709" width="20" height="19" fill="#4C89C4"/>
<rect x="266" y="709" width="19" height="19" fill="#4F8CC5"/>
<rect x="285" y="709" width="19" height="19" fill="#6CA0CE"/>
<rect x="304" y="709" width="20" height="19" fill="#A0B6D4"/>
<rect x="324" y="709" width="19" height="19" fill="#C3D2E7"/>
<rect x="343" y="709" width="19" height="19" fill="#BAC6E6"/>
<rect x="362" y="709" width="19" height="19" fill="#86A2D0"/>
<rect x="381" y="709" width="20" height="19" fill="#8CA6C7"/>
<rect x="401" y="709" width="19" height="19" fill="#8BA5C5"/>
<rect x="420" y="709" width="19" height="19" fill="#7B99BC"/>
<rect x="439" y="709" width="20" height="19" fill="#6C8DB3"/>
<rect x="459" y="709" width="19" height="19" fill="#7696B9"/>
<rect x="478" y="709" width="19" height="19" fill="#7897BA"/>
<rect x="497" y="709" width="19" height="19" fill="#7A98BB"/>
<rect x="516" y="709" width="39" height="19" fill="#87A2C3"/>
<rect x="555" y="709" width="19" height="19" fill="#7A99BC"/>
<rect x="574" y="709" width="20" height="19" fill="#7998BB"/>
<rect x="15" y="728" width="19" height="19" fill="#3A60AC"/>
<rect x="34" y="728" width="20" height="19" fill="#3A61AC"/>
<rect x="54" y="728" width="19" height="19" fill="#3B66B0"/>
<rect x="73" y="728" width="19" height="19" fill="#3B67B1"/>
<rect x="92" y="728" width="19" height="19" fill="#3C69B2"/>
<rect x="111" y="728" width="20" height="19" fill="#3E74B9"/>
<rect x="131" y="728" width="19" height="19" fill="#3C6BB3"/>
<rect x="150" y="728" width="19" height="19" fill="#3C6AB3"/>
<rect x="169" y="728" width="20" height="19" fill="#3F75BA"/>
<rect x="189" y="728" width="19" height="19" fill="#4B87C3"/>
<rect x="208" y="728" width="19" height="19" fill="#4E8BC4"/>
<rect x="227" y="728" width="19" height="19" fill="#4E8CC5"/>
<rect x="246" y="728" width="20" height="19" fill="#4D8BC4"/>
<rect x="266" y="728" width="19" height="19" fill="#4F8CC5"/>
<rect x="285" y="728" width="19" height="19" fill="#6FA2CF"/>
<rect x="304" y="728" width="20" height="19" fill="#BED1E5"/>
<rect x="324" y="728" width="19" height="19" fill="#E5E9F5"/>
<rect x="343" y="728" width="19" height="19" fill="#B8C5E5"/>
<rect x="362" y="728" width="19" height="19" fill="#84A1D0"/>
<rect x="381" y="728" width="20" height="19" fill="#9AB0CF"/>
<rect x="401" y="728" width="19" height="19" fill="#9DB2CE"/>
<rect x="420" y="728" width="19" height="19" fill="#8BA5C5"/>
<rect x="439" y="728" width="20" height="19" fill="#7A98BB"/>
<rect x="459" y="728" width="57" height="19" fill="#7998BB"/>
<rect x="516" y="728" width="20" height="19" fill="#7B9ABC"/>
<rect x="536" y="728" width="19" height="19" fill="#7D9BBD"/>
<rect x="555" y="728" width="19" height="19" fill="#7C9ABD"/>
<rect x="574" y="728" width="20" height="19" fill="#7A99BC"/>
<rect x="15" y="747" width="39" height="20" fill="#3A60AC"/>
<rect x="54" y="747" width="19" height="20" fill="#3A61AD"/>
<rect x="73" y="747" width="19" height="20" fill="#3C68B2"/>
<rect x="92" y="747" width="19" height="20" fill="#4076BA"/>
<rect x="111" y="747" width="20" height="20" fill="#4B87C3"/>
<rect x="131" y="747" width="19" height="20" fill="#4A86C2"/>
<rect x="150" y="747" width="19" height="20" fill="#3F76BA"/>
<rect x="169" y="747" width="20" height="20" fill="#3F77BB"/>
<rect x="189" y="747" width="19" height="20" fill="#4E8AC4"/>
<rect x="208" y="747" width="19" height="20" fill="#679ECD"/>
<rect x="227" y="747" width="19" height="20" fill="#689ECD"/>
<rect x="246" y="747" width="20" height="20" fill="#518EC6"/>
<rect x="266" y="747" width="19" height="20" fill="#528EC6"/>
<rect x="285" y="747" width="19" height="20" fill="#72A3D0"/>
<rect x="304" y="747" width="20" height="20" fill="#BFD1E6"/>
<rect x="324" y="747" width="19" height="20" fill="#D3DDEC"/>
<rect x="343" y="747" width="19" height="20" fill="#8BA7D3"/>
<rect x="362" y="747" width="19" height="20" fill="#82A0CE"/>
<rect x="381" y="747" width="20" height="20" fill="#91A9CA"/>
<rect x="401" y="747" width="19" height="20" fill="#B0BED8"/>
<rect x="420" y="747" width="19" height="20" fill="#8FA8C8"/>
<rect x="439" y="747" width="20" height="20" fill="#7D9BBD"/>
<rect x="459" y="747" width="19" height="20" fill="#7A99BC"/>
<rect x="478" y="747" width="38" height="20" fill="#7998BB"/>
<rect x="516" y="747" width="20" height="20" fill="#7C9ABD"/>
<rect x="536" y="747" width="19" height="20" fill="#97ADCB"/>
<rect x="555" y="747" width="19" height="20" fill="#96ADCB"/>
<rect x="574" y="747" width="20" height="20" fill="#7C9ABC"/>
<rect x="15" y="767" width="39" height="19" fill="#3A60AC"/>
<rect x="54" y="767" width="19" height="19" fill="#3A61AC"/>
<rect x="73" y="767" width="19" height="19" fill="#3C69B2"/>
<rect x="92" y="767" width="19" height="19" fill="#4B86C2"/>
<rect x="111" y="767" width="20" height="19" fill="#6299CB"/>
<rect x="131" y="767" width="19" height="19" fill="#4D8AC4"/>
<rect x="150" y="767" width="39" height="19" fill="#3F77BB"/>
<rect x="189" y="767" width="19" height="19" fill="#4F8BC4"/>
<rect x="208" y="767" width="19" height="19" fill="#84AFD5"/>
<rect x="227" y="767" width="19" height="19" fill="#8AB3D7"/>
<rect x="246" y="767" width="20" height="19" fill="#71A3D0"/>
<rect x="266" y="767" width="19" height="19" fill="#70A2CF"/>
<rect x="285" y="767" width="19" height="19" fill="#86A6D2"/>
<rect x="304" y="767" width="20" height="19" fill="#B9C7DF"/>
<rect x="324" y="767" width="19" height="19" fill="#C4D3E6"/>
<rect x="343" y="767" width="19" height="19" fill="#A1B6D2"/>
<rect x="362" y="767" width="19" height="19" fill="#8EA7C8"/>
<rect x="381" y="767" width="20" height="19" fill="#9DB2CF"/>
<rect x="401" y="767" width="19" height="19" fill="#B0BFD8"/>
<rect x="420" y="767" width="19" height="19" fill="#9DB2CF"/>
<rect x="439" y="767" width="20" height="19" fill="#8CA6C6"/>
<rect x="459" y="767" width="19" height="19" fill="#89A4C4"/>
<rect x="478" y="767" width="38" height="19" fill="#7A99BC"/>
<rect x="516" y="767" width="20" height="19" fill="#88A3C4"/>
<rect x="536" y="767" width="19" height="19" fill="#7D9BBD"/>
<rect x="555" y="767" width="19" height="19" fill="#7C9ABC"/>
<rect x="574" y="767" width="20" height="19" fill="#7998BB"/>
<rect x="15" y="786" width="39" height="19" fill="#3A60AC"/>
<rect x="54" y="786" width="19" height="19" fill="#3A61AC"/>
<rect x="73" y="786" width="19" height="19" fill="#3B68B1"/>
<rect x="92" y="786" width="19" height="19" fill="#4277BB"/>
<rect x="111" y="786" width="20" height="19" fill="#6097CA"/>
<rect x="131" y="786" width="19" height="19" fill="#4C88C3"/>
<rect x="150" y="786" width="19" height="19" fill="#3F77BB"/>
<rect x="169" y="786" width="20" height="19" fill="#3E76BA"/>
<rect x="189" y="786" width="19" height="19" fill="#467CBD"/>
<rect x="208" y="786" width="19" height="19" fill="#87B0D6"/>
<rect x="227" y="786" width="19" height="19" fill="#B9CEE4"/>
<rect x="246" y="786" width="20" height="19" fill="#ABC5E1"/>
<rect x="266" y="786" width="19" height="19" fill="#ACC6E1"/>
<rect x="285" y="786" width="19" height="19" fill="#C4D4E8"/>
<rect x="304" y="786" width="20" height="19" fill="#E5E9F5"/>
<rect x="324" y="786" width="19" height="19" fill="#C3D2E5"/>
<rect x="343" y="786" width="19" height="19" fill="#B1C0D9"/>
<rect x="362" y="786" width="39" height="19" fill="#91A9C8"/>
<rect x="401" y="786" width="19" height="19" fill="#9EB2CF"/>
<rect x="420" y="786" width="19" height="19" fill="#8FA8C7"/>
<rect x="439" y="786" width="20" height="19" fill="#8BA5C5"/>
<rect x="459" y="786" width="19" height="19" fill="#89A4C4"/>
<rect x="478" y="786" width="19" height="19" fill="#7A99BC"/>
<rect x="497" y="786" width="19" height="19" fill="#7B99BC"/>
<rect x="516" y="786" width="20" height="19" fill="#88A3C4"/>
<rect x="536" y="786" width="19" height="19" fill="#7B99BC"/>
<rect x="555" y="786" width="19" height="19" fill="#7897BA"/>
<rect x="574" y="786" width="20" height="19" fill="#6D8DB3"/>
<rect x="15" y="805" width="39" height="19" fill="#3A60AC"/>
<rect x="54" y="805" width="19" height="19" fill="#3A61AC"/>
<rect x="73" y="805" width="19" height="19" fill="#3B67B1"/>
<rect x="92" y="805" width="19" height="19" fill="#3D6AB3"/>
<rect x="111" y="805" width="39" height="19" fill="#4077BB"/>
<rect x="150" y="805" width="19" height="19" fill="#3E76BA"/>
<rect x="169" y="805" width="20" height="19" fill="#3E75BA"/>
<rect x="189" y="805" width="19" height="19" fill="#437ABC"/>
<rect x="208" y="805" width="19" height="19" fill="#70A2CF"/>
<rect x="227" y="805" width="19" height="19" fill="#BDD1E6"/>
<rect x="246" y="805" width="20" height="19" fill="#D8E1EF"/>
<rect x="266" y="805" width="19" height="19" fill="#ECEEF8"/>
<rect x="285" y="805" width="19" height="19" fill="#EAECF7"/>
<rect x="304" y="805" width="20" height="19" fill="#C4D3E6"/>
<rect x="324" y="805" width="19" height="19" fill="#A3B7D2"/>
<rect x="343" y="805" width="19" height="19" fill="#90A9C8"/>
<rect x="362" y="805" width="39" height="19" fill="#9BB0CD"/>
<rect x="401" y="805" width="19" height="19" fill="#8EA7C7"/>
<rect x="420" y="805" width="19" height="19" fill="#8BA5C5"/>
<rect x="439" y="805" width="20" height="19" fill="#7B99BC"/>
<rect x="459" y="805" width="19" height="19" fill="#7998BB"/>
<rect x="478" y="805" width="19" height="19" fill="#7897BA"/>
<rect x="497" y="805" width="19" height="19" fill="#7998BB"/>
<rect x="516" y="805" width="20" height="19" fill="#87A2C3"/>
<rect x="536" y="805" width="19" height="19" fill="#7B99BC"/>
<rect x="555" y="805" width="19" height="19" fill="#7A99BC"/>
<rect x="574" y="805" width="20" height="19" fill="#7A98BB"/>
<rect x="15" y="824" width="39" height="20" fill="#3A60AC"/>
<rect x="54" y="824" width="19" height="20" fill="#3A61AC"/>
<rect x="73" y="824" width="19" height="20" fill="#3B66B0"/>
<rect x="92" y="824" width="19" height="20" fill="#3B68B2"/>
<rect x="111" y="824" width="20" height="20" fill="#3D73B8"/>
<rect x="131" y="824" width="38" height="20" fill="#3E74B9"/>
<rect x="169" y="824" width="20" height="20" fill="#3E75BA"/>
<rect x="189" y="824" width="19" height="20" fill="#4279BC"/>
<rect x="208" y="824" width="19" height="20" fill="#6B9FCE"/>
<rect x="227" y="824" width="19" height="20" fill="#A9C4E0"/>
<rect x="246" y="824" width="20" height="20" fill="#DBE3F0"/>
<rect x="266" y="824" width="19" height="20" fill="#F1F1FA"/>
<rect x="285" y="824" width="19" height="20" fill="#C7D0EA"/>
<rect x="304" y="824" width="20" height="20" fill="#99B0CE"/>
<rect x="324" y="824" width="19" height="20" fill="#8DA7C8"/>
<rect x="343" y="824" width="19" height="20" fill="#7C9ABD"/>
<rect x="362" y="824" width="19" height="20" fill="#7D9ABD"/>
<rect x="381" y="824" width="20" height="20" fill="#8CA6C6"/>
<rect x="401" y="824" width="19" height="20" fill="#8EA7C7"/>
<rect x="420" y="824" width="19" height="20" fill="#8BA5C5"/>
<rect x="439" y="824" width="20" height="20" fill="#6E8EB4"/>
<rect x="459" y="824" width="19" height="20" fill="#6A8BB1"/>
<rect x="478" y="824" width="19" height="20" fill="#6A8AB1"/>
<rect x="497" y="824" width="19" height="20" fill="#6B8CB2"/>
<rect x="516" y="824" width="20" height="20" fill="#7998BB"/>
<rect x="536" y="824" width="19" height="20" fill="#7B9ABC"/>
<rect x="555" y="824" width="19" height="20" fill="#89A4C4"/>
<rect x="574" y="824" width="20" height="20" fill="#8BA5C5"/>
<rect x="15" y="844" width="39" height="19" fill="#3A60AC"/>
<rect x="54" y="844" width="19" height="19" fill="#3A61AC"/>
<rect x="73" y="844" width="19" height="19" fill="#3B66B0"/>
<rect x="92" y="844" width="19" height="19" fill="#3B67B1"/>
<rect x="111" y="844" width="39" height="19" fill="#3B68B2"/>
<rect x="150" y="844" width="19" height="19" fill="#3C69B3"/>
<rect x="169" y="844" width="20" height="19" fill="#3E74B9"/>
<rect x="189" y="844" width="19" height="19" fill="#4178BC"/>
<rect x="208" y="844" width="19" height="19" fill="#5790C7"/>
<rect x="227" y="844" width="19" height="19" fill="#A7C2DF"/>
<rect x="246" y="844" width="20" height="19" fill="#D8E1EF"/>
<rect x="266" y="844" width="19" height="19" fill="#EFF0F9"/>
<rect x="285" y="844" width="19" height="19" fill="#ECEDF8"/>
<rect x="304" y="844" width="20" height="19" fill="#BDC8E6"/>
<rect x="324" y="844" width="19" height="19" fill="#84A1CE"/>
<rect x="343" y="844" width="19" height="19" fill="#6D8DB4"/>
<rect x="362" y="844" width="19" height="19" fill="#6D8DB3"/>
<rect x="381" y="844" width="20" height="19" fill="#8CA6C6"/>
<rect x="401" y="844" width="19" height="19" fill="#9EB3CF"/>
<rect x="420" y="844" width="19" height="19" fill="#9BB1CD"/>
<rect x="439" y="844" width="20" height="19" fill="#7B99BC"/>
<rect x="459" y="844" width="19" height="19" fill="#6B8BB2"/>
<rect x="478" y="844" width="19" height="19" fill="#6889B0"/>
<rect x="497" y="844" width="19" height="19" fill="#6A8AB1"/>
<rect x="516" y="844" width="20" height="19" fill="#7998BB"/>
<rect x="536" y="844" width="19" height="19" fill="#89A4C4"/>
<rect x="555" y="844" width="19" height="19" fill="#809DBF"/>
<rect x="574" y="844" width="20" height="19" fill="#99AFCD"/>
<rect x="15" y="863" width="39" height="19" fill="#3A60AC"/>
<rect x="54" y="863" width="19" height="19" fill="#3A61AC"/>
<rect x="73" y="863" width="19" height="19" fill="#3B66B0"/>
<rect x="92" y="863" width="58" height="19" fill="#3B67B1"/>
<rect x="150" y="863" width="19" height="19" fill="#3B68B2"/>
<rect x="169" y="863" width="20" height="19" fill="#3E74B9"/>
<rect x="189" y="863" width="19" height="19" fill="#4178BC"/>
<rect x="208" y="863" width="19" height="19" fill="#689DCD"/>
<rect x="227" y="863" width="19" height="19" fill="#A4C1DE"/>
<rect x="246" y="863" width="20" height="19" fill="#C3D4E8"/>
<rect x="266" y="863" width="19" height="19" fill="#CAD9EA"/>
<rect x="285" y="863" width="19" height="19" fill="#ECEEF8"/>
<rect x="304" y="863" width="20" height="19" fill="#DAE1EF"/>
<rect x="324" y="863" width="19" height="19" fill="#B5C2DB"/>
<rect x="343" y="863" width="19" height="19" fill="#7291B6"/>
<rect x="362" y="863" width="19" height="19" fill="#6E8EB4"/>
<rect x="381" y="863" width="20" height="19" fill="#9BB0CD"/>
<rect x="401" y="863" width="19" height="19" fill="#B2C0D9"/>
<rect x="420" y="863" width="19" height="19" fill="#A2B5D1"/>
<rect x="439" y="863" width="20" height="19" fill="#8EA7C7"/>
<rect x="459" y="863" width="19" height="19" fill="#7998BB"/>
<rect x="478" y="863" width="19" height="19" fill="#698AB1"/>
<rect x="497" y="863" width="19" height="19" fill="#6A8AB1"/>
<rect x="516" y="863" width="20" height="19" fill="#7A98BB"/>
<rect x="536" y="863" width="19" height="19" fill="#96ADCB"/>
<rect x="555" y="863" width="19" height="19" fill="#8AA5C5"/>
<rect x="574" y="863" width="20" height="19" fill="#8AA4C4"/>
<rect x="15" y="882" width="39" height="20" fill="#3A60AC"/>
<rect x="54" y="882" width="19" height="20" fill="#3A61AC"/>
<rect x="73" y="882" width="19" height="20" fill="#3B66B0"/>
<rect x="92" y="882" width="58" height="20" fill="#3B67B1"/>
<rect x="150" y="882" width="19" height="20" fill="#3B68B2"/>
<rect x="169" y="882" width="20" height="20" fill="#3E73B9"/>
<rect x="189" y="882" width="19" height="20" fill="#4077BB"/>
<rect x="208" y="882" width="19" height="20" fill="#528DC5"/>
<rect x="227" y="882" width="19" height="20" fill="#8AB2D7"/>
<rect x="246" y="882" width="20" height="20" fill="#B7CDE4"/>
<rect x="266" y="882" width="19" height="20" fill="#98BBDB"/>
<rect x="285" y="882" width="19" height="20" fill="#C5D6E8"/>
<rect x="304" y="882" width="20" height="20" fill="#EDEFF8"/>
<rect x="324" y="882" width="19" height="20" fill="#E8EAF5"/>
<rect x="343" y="882" width="19" height="20" fill="#93ABC9"/>
<rect x="362" y="882" width="19" height="20" fill="#7291B6"/>
<rect x="381" y="882" width="20" height="20" fill="#9CB1CD"/>
<rect x="401" y="882" width="19" height="20" fill="#B4C1DA"/>
<rect x="420" y="882" width="19" height="20" fill="#B9C5E3"/>
<rect x="439" y="882" width="20" height="20" fill="#AFBED8"/>
<rect x="459" y="882" width="19" height="20" fill="#7D9BBD"/>
<rect x="478" y="882" width="38" height="20" fill="#6B8CB2"/>
<rect x="516" y="882" width="20" height="20" fill="#7A98BB"/>
<rect x="536" y="882" width="19" height="20" fill="#7E9CBE"/>
<rect x="555" y="882" width="19" height="20" fill="#7D9BBD"/>
<rect x="574" y="882" width="20" height="20" fill="#708FB5"/>
<rect x="15" y="902" width="39" height="19" fill="#3A60AC"/>
<rect x="54" y="902" width="19" height="19" fill="#3A61AC"/>
<rect x="73" y="902" width="77" height="19" fill="#3B66B0"/>
<rect x="150" y="902" width="19" height="19" fill="#3B67B1"/>
<rect x="169" y="902" width="20" height="19" fill="#3B69B2"/>
<rect x="189" y="902" width="19" height="19" fill="#3F76BA"/>
<rect x="208" y="902" width="19" height="19" fill="#4E8BC4"/>
<rect x="227" y="902" width="19" height="19" fill="#6BA0CE"/>
<rect x="246" y="902" width="20" height="19" fill="#74A6D1"/>
<rect x="266" y="902" width="19" height="19" fill="#90B5D8"/>
<rect x="285" y="902" width="19" height="19" fill="#9CBDDC"/>
<rect x="304" y="902" width="20" height="19" fill="#DCE4F0"/>
<rect x="324" y="902" width="19" height="19" fill="#EEF0F9"/>
<rect x="343" y="902" width="19" height="19" fill="#BFCFE4"/>
<rect x="362" y="902" width="19" height="19" fill="#819EBF"/>
<rect x="381" y="902" width="20" height="19" fill="#8DA7C6"/>
<rect x="401" y="902" width="19" height="19" fill="#A2B5D1"/>
<rect x="420" y="902" width="19" height="19" fill="#B6C3DC"/>
<rect x="439" y="902" width="20" height="19" fill="#B2C0D9"/>
<rect x="459" y="902" width="19" height="19" fill="#809DBF"/>
<rect x="478" y="902" width="38" height="19" fill="#7897BA"/>
<rect x="516" y="902" width="20" height="19" fill="#7B99BC"/>
<rect x="536" y="902" width="19" height="19" fill="#97AECB"/>
<rect x="555" y="902" width="19" height="19" fill="#98AECC"/>
<rect x="574" y="902" width="20" height="19" fill="#7C9ABC"/>
<rect x="15" y="921" width="58" height="19" fill="#3A60AC"/>
<rect x="73" y="921" width="96" height="19" fill="#3A61AC"/>
<rect x="169" y="921" width="20" height="19" fill="#3A63AE"/>
<rect x="189" y="921" width="19" height="19" fill="#3F75B9"/>
<rect x="208" y="921" width="19" height="19" fill="#4D89C4"/>
<rect x="227" y="921" width="19" height="19" fill="#689ECD"/>
<rect x="246" y="921" width="20" height="19" fill="#73A5D0"/>
<rect x="266" y="921" width="19" height="19" fill="#B1C3DC"/>
<rect x="285" y="921" width="19" height="19" fill="#BECBE1"/>
<rect x="304" y="921" width="20" height="19" fill="#EEEFF8"/>
<rect x="324" y="921" width="19" height="19" fill="#ECEEF8"/>
<rect x="343" y="921" width="19" height="19" fill="#B8C5E3"/>
<rect x="362" y="921" width="19" height="19" fill="#809DBF"/>
<rect x="381" y="921" width="20" height="19" fill="#8DA7C6"/>
<rect x="401" y="921" width="19" height="19" fill="#A3B6D2"/>
<rect x="420" y="921" width="19" height="19" fill="#B7C4DC"/>
<rect x="439" y="921" width="20" height="19" fill="#B3C1DA"/>
<rect x="459" y="921" width="19" height="19" fill="#8EA7C7"/>
<rect x="478" y="921" width="19" height="19" fill="#7A99BC"/>
<rect x="497" y="921" width="19" height="19" fill="#7998BB"/>
<rect x="516" y="921" width="20" height="19" fill="#7A99BC"/>
<rect x="536" y="921" width="19" height="19" fill="#7E9CBE"/>
<rect x="555" y="921" width="19" height="19" fill="#97AECB"/>
<rect x="574" y="921" width="20" height="19" fill="#7D9BBD"/>
<rect x="15" y="940" width="154" height="19" fill="#3A61AC"/>
<rect x="169" y="940" width="20" height="19" fill="#3B63AE"/>
<rect x="189" y="940" width="19" height="19" fill="#3F75BA"/>
<rect x="208" y="940" width="19" height="19" fill="#447CBD"/>
<rect x="227" y="940" width="19" height="19" fill="#6A9FCD"/>
<rect x="246" y="940" width="20" height="19" fill="#8FB5D9"/>
<rect x="266" y="940" width="19" height="19" fill="#D2DDED"/>
<rect x="285" y="940" width="39" height="19" fill="#EEEFF8"/>
<rect x="324" y="940" width="19" height="19" fill="#C4D3E6"/>
<rect x="343" y="940" width="19" height="19" fill="#839FC1"/>
<rect x="362" y="940" width="19" height="19" fill="#7A99BC"/>
<rect x="381" y="940" width="20" height="19" fill="#8CA6C6"/>
<rect x="401" y="940" width="19" height="19" fill="#BBCCE1"/>
<rect x="420" y="940" width="19" height="19" fill="#C1D1E4"/>
<rect x="439" y="940" width="20" height="19" fill="#B4C2DA"/>
<rect x="459" y="940" width="19" height="19" fill="#8EA8C7"/>
<rect x="478" y="940" width="19" height="19" fill="#7B99BC"/>
<rect x="497" y="940" width="39" height="19" fill="#7998BB"/>
<rect x="536" y="940" width="19" height="19" fill="#7A99BC"/>
<rect x="555" y="940" width="19" height="19" fill="#7B99BC"/>
<rect x="574" y="940" width="20" height="19" fill="#7A99BC"/>
<rect x="15" y="959" width="135" height="20" fill="#3B66B0"/>
<rect x="150" y="959" width="19" height="20" fill="#3B67B1"/>
<rect x="169" y="959" width="20" height="20" fill="#3C6AB3"/>
<rect x="189" y="959" width="19" height="20" fill="#4985C1"/>
<rect x="208" y="959" width="19" height="20" fill="#4F8BC4"/>
<rect x="227" y="959" width="19" height="20" fill="#6FA2CF"/>
<rect x="246" y="959" width="20" height="20" fill="#A9C3E0"/>
<rect x="266" y="959" width="19" height="20" fill="#C6D0EB"/>
<rect x="285" y="959" width="19" height="20" fill="#EFF0F9"/>
<rect x="304" y="959" width="20" height="20" fill="#CBD9EA"/>
<rect x="324" y="959" width="19" height="20" fill="#A4B8D3"/>
<rect x="343" y="959" width="19" height="20" fill="#7291B6"/>
<rect x="362" y="959" width="19" height="20" fill="#6C8CB2"/>
<rect x="381" y="959" width="20" height="20" fill="#7190B6"/>
<rect x="401" y="959" width="19" height="20" fill="#9FB3D0"/>
<rect x="420" y="959" width="19" height="20" fill="#B6C4DC"/>
<rect x="439" y="959" width="20" height="20" fill="#B4C2DA"/>
<rect x="459" y="959" width="19" height="20" fill="#90A8C8"/>
<rect x="478" y="959" width="19" height="20" fill="#7B99BC"/>
<rect x="497" y="959" width="39" height="20" fill="#7897BA"/>
<rect x="536" y="959" width="58" height="20" fill="#7998BB"/>
<rect x="15" y="979" width="19" height="19" fill="#3A62AE"/>
<rect x="34" y="979" width="20" height="19" fill="#3A62AD"/>
<rect x="54" y="979" width="57" height="19" fill="#3A61AD"/>
<rect x="111" y="979" width="39" height="19" fill="#3B66B0"/>
<rect x="150" y="979" width="19" height="19" fill="#3B68B1"/>
<rect x="169" y="979" width="20" height="19" fill="#3F75BA"/>
<rect x="189" y="979" width="19" height="19" fill="#4B88C3"/>
<rect x="208" y="979" width="19" height="19" fill="#538FC6"/>
<rect x="227" y="979" width="19" height="19" fill="#8AB2D7"/>
<rect x="246" y="979" width="20" height="19" fill="#C1D3E7"/>
<rect x="266" y="979" width="19" height="19" fill="#ECEEF8"/>
<rect x="285" y="979" width="19" height="19" fill="#EFF0F9"/>
<rect x="304" y="979" width="20" height="19" fill="#CAD8E9"/>
<rect x="324" y="979" width="19" height="19" fill="#BCCEE2"/>
<rect x="343" y="979" width="19" height="19" fill="#7F9DBF"/>
<rect x="362" y="979" width="19" height="19" fill="#7A99BB"/>
<rect x="381" y="979" width="20" height="19" fill="#7C9ABE"/>
<rect x="401" y="979" width="19" height="19" fill="#83A1CE"/>
<rect x="420" y="979" width="19" height="19" fill="#B2C0DA"/>
<rect x="439" y="979" width="20" height="19" fill="#B4C2DA"/>
<rect x="459" y="979" width="19" height="19" fill="#9EB2CF"/>
<rect x="478" y="979" width="19" height="19" fill="#7B99BC"/>
<rect x="497" y="979" width="39" height="19" fill="#6B8CB2"/>
<rect x="536" y="979" width="19" height="19" fill="#7897BA"/>
<rect x="555" y="979" width="39" height="19" fill="#7998BB"/>
<rect x="15" y="998" width="19" height="19" fill="#3D72B8"/>
<rect x="34" y="998" width="20" height="19" fill="#3B68B2"/>
<rect x="54" y="998" width="19" height="19" fill="#3B66B0"/>
<rect x="73" y="998" width="19" height="19" fill="#3A61AC"/>
<rect x="92" y="998" width="19" height="19" fill="#3A60AC"/>
<rect x="111" y="998" width="39" height="19" fill="#3A61AC"/>
<rect x="150" y="998" width="19" height="19" fill="#3A63AE"/>
<rect x="169" y="998" width="20" height="19" fill="#3F75B9"/>
<rect x="189" y="998" width="19" height="19" fill="#4B88C3"/>
<rect x="208" y="998" width="19" height="19" fill="#669DCC"/>
<rect x="227" y="998" width="19" height="19" fill="#89B2D7"/>
<rect x="246" y="998" width="20" height="19" fill="#BCD0E6"/>
<rect x="266" y="998" width="19" height="19" fill="#DAE2F0"/>
<rect x="285" y="998" width="19" height="19" fill="#EEEFF9"/>
<rect x="304" y="998" width="20" height="19" fill="#CAD8EA"/>
<rect x="324" y="998" width="19" height="19" fill="#BECFE3"/>
<rect x="343" y="998" width="19" height="19" fill="#84A1C1"/>
<rect x="362" y="998" width="19" height="19" fill="#98AECC"/>
<rect x="381" y="998" width="20" height="19" fill="#98AFCD"/>
<rect x="401" y="998" width="19" height="19" fill="#84A1CE"/>
<rect x="420" y="998" width="19" height="19" fill="#A0B4D1"/>
<rect x="439" y="998" width="20" height="19" fill="#B3C0D9"/>
<rect x="459" y="998" width="19" height="19" fill="#9EB2CF"/>
<rect x="478" y="998" width="19" height="19" fill="#7C9ABC"/>
<rect x="497" y="998" width="39" height="19" fill="#6B8CB2"/>
<rect x="536" y="998" width="19" height="19" fill="#7796BA"/>
<rect x="555" y="998" width="19" height="19" fill="#7897BA"/>
<rect x="574" y="998" width="20" height="19" fill="#7898BB"/>
<rect x="15" y="1017" width="19" height="20" fill="#3F76BA"/>
<rect x="34" y="1017" width="20" height="20" fill="#3E74B9"/>
<rect x="54" y="1017" width="19" height="20" fill="#3B68B2"/>
<rect x="73" y="1017" width="19" height="20" fill="#3A61AD"/>
<rect x="92" y="1017" width="58" height="20" fill="#3A60AC"/>
<rect x="150" y="1017" width="19" height="20" fill="#3A62AD"/>
<rect x="169" y="1017" width="20" height="20" fill="#3E73B9"/>
<rect x="189" y="1017" width="19" height="20" fill="#4078BC"/>
<rect x="208" y="1017" width="19" height="20" fill="#4F8BC4"/>
<rect x="227" y="1017" width="19" height="20" fill="#6A9FCE"/>
<rect x="246" y="1017" width="20" height="20" fill="#76A6D1"/>
<rect x="266" y="1017" width="19" height="20" fill="#ADC6E1"/>
<rect x="285" y="1017" width="19" height="20" fill="#E7EAF6"/>
<rect x="304" y="1017" width="20" height="20" fill="#C3CCE9"/>
<rect x="324" y="1017" width="19" height="20" fill="#B7C4DC"/>
<rect x="343" y="1017" width="19" height="20" fill="#9FB3CF"/>
<rect x="362" y="1017" width="19" height="20" fill="#809DBF"/>
<rect x="381" y="1017" width="20" height="20" fill="#8AA5C5"/>
<rect x="401" y="1017" width="19" height="20" fill="#99AFCD"/>
<rect x="420" y="1017" width="19" height="20" fill="#9DB2CF"/>
<rect x="439" y="1017" width="20" height="20" fill="#9FB3D0"/>
<rect x="459" y="1017" width="19" height="20" fill="#9CB1CE"/>
<rect x="478" y="1017" width="19" height="20" fill="#7D9BBD"/>
<rect x="497" y="1017" width="58" height="20" fill="#7897BA"/>
<rect x="555" y="1017" width="19" height="20" fill="#6D8EB3"/>
<rect x="574" y="1017" width="20" height="20" fill="#7897BA"/>
<rect x="15" y="1037" width="19" height="19" fill="#4A86C2"/>
<rect x="34" y="1037" width="20" height="19" fill="#4077BB"/>
<rect x="54" y="1037" width="19" height="19" fill="#3E73B9"/>
<rect x="73" y="1037" width="19" height="19" fill="#3B67B1"/>
<rect x="92" y="1037" width="19" height="19" fill="#3A61AC"/>
<rect x="111" y="1037" width="39" height="19" fill="#3A60AC"/>
<rect x="150" y="1037" width="19" height="19" fill="#3A62AD"/>
<rect x="169" y="1037" width="20" height="19" fill="#3E73B9"/>
<rect x="189" y="1037" width="19" height="19" fill="#3E76BA"/>
<rect x="208" y="1037" width="19" height="19" fill="#4179BC"/>
<rect x="227" y="1037" width="19" height="19" fill="#508CC5"/>
<rect x="246" y="1037" width="20" height="19" fill="#6FA2CE"/>
<rect x="266" y="1037" width="19" height="19" fill="#95B0CE"/>
<rect x="285" y="1037" width="19" height="19" fill="#C7D5E8"/>
<rect x="304" y="1037" width="20" height="19" fill="#C3CCE8"/>
<rect x="324" y="1037" width="19" height="19" fill="#B9C5DD"/>
<rect x="343" y="1037" width="19" height="19" fill="#B0BFD8"/>
<rect x="362" y="1037" width="19" height="19" fill="#7F9CBE"/>
<rect x="381" y="1037" width="20" height="19" fill="#6F8EB4"/>
<rect x="401" y="1037" width="19" height="19" fill="#7B99BC"/>
<rect x="420" y="1037" width="19" height="19" fill="#8BA5C5"/>
<rect x="439" y="1037" width="20" height="19" fill="#8DA6C6"/>
<rect x="459" y="1037" width="19" height="19" fill="#8CA6C6"/>
<rect x="478" y="1037" width="19" height="19" fill="#89A4C4"/>
<rect x="497" y="1037" width="39" height="19" fill="#7A99BC"/>
<rect x="536" y="1037" width="19" height="19" fill="#7998BB"/>
<rect x="555" y="1037" width="19" height="19" fill="#7897BA"/>
<rect x="574" y="1037" width="20" height="19" fill="#7898BB"/>
<rect x="15" y="1056" width="19" height="19" fill="#4D8AC4"/>
<rect x="34" y="1056" width="20" height="19" fill="#4C89C4"/>
<rect x="54" y="1056" width="19" height="19" fill="#4278BB"/>
<rect x="73" y="1056" width="19" height="19" fill="#3C6AB2"/>
<rect x="92" y="1056" width="19" height="19" fill="#3A62AD"/>
<rect x="111" y="1056" width="39" height="19" fill="#3A61AC"/>
<rect x="150" y="1056" width="19" height="19" fill="#3A63AE"/>
<rect x="169" y="1056" width="20" height="19" fill="#3E73B9"/>
<rect x="189" y="1056" width="19" height="19" fill="#3E75BA"/>
<rect x="208" y="1056" width="19" height="19" fill="#3F77BB"/>
<rect x="227" y="1056" width="19" height="19" fill="#508CC5"/>
<rect x="246" y="1056" width="20" height="19" fill="#88B1D6"/>
<rect x="266" y="1056" width="19" height="19" fill="#BED1E5"/>
<rect x="285" y="1056" width="19" height="19" fill="#D8E0EE"/>
<rect x="304" y="1056" width="20" height="19" fill="#E7EAF5"/>
<rect x="324" y="1056" width="19" height="19" fill="#BAC5DD"/>
<rect x="343" y="1056" width="19" height="19" fill="#A3B6D1"/>
<rect x="362" y="1056" width="19" height="19" fill="#99AFCC"/>
<rect x="381" y="1056" width="20" height="19" fill="#6E8EB4"/>
<rect x="401" y="1056" width="19" height="19" fill="#6B8CB2"/>
<rect x="420" y="1056" width="19" height="19" fill="#7998BB"/>
<rect x="439" y="1056" width="20" height="19" fill="#7C9ABD"/>
<rect x="459" y="1056" width="19" height="19" fill="#88A3C4"/>
<rect x="478" y="1056" width="38" height="19" fill="#7C9ABD"/>
<rect x="516" y="1056" width="20" height="19" fill="#88A3C4"/>
<rect x="536" y="1056" width="19" height="19" fill="#7A99BC"/>
<rect x="555" y="1056" width="39" height="19" fill="#7998BB"/>
<rect x="15" y="1075" width="19" height="19" fill="#538FC6"/>
<rect x="34" y="1075" width="20" height="19" fill="#699ECD"/>
<rect x="54" y="1075" width="19" height="19" fill="#669BCB"/>
<rect x="73" y="1075" width="19" height="19" fill="#4276BA"/>
<rect x="92" y="1075" width="19" height="19" fill="#3B68B1"/>
<rect x="111" y="1075" width="39" height="19" fill="#3B66B0"/>
<rect x="150" y="1075" width="19" height="19" fill="#3B68B2"/>
<rect x="169" y="1075" width="20" height="19" fill="#3E73B9"/>
<rect x="189" y="1075" width="19" height="19" fill="#3E76BA"/>
<rect x="208" y="1075" width="19" height="19" fill="#4179BC"/>
<rect x="227" y="1075" width="19" height="19" fill="#538EC6"/>
<rect x="246" y="1075" width="20" height="19" fill="#8BB3D8"/>
<rect x="266" y="1075" width="19" height="19" fill="#C1D3E7"/>
<rect x="285" y="1075" width="19" height="19" fill="#D9E1EF"/>
<rect x="304" y="1075" width="20" height="19" fill="#C5CEE9"/>
<rect x="324" y="1075" width="19" height="19" fill="#B8C4DC"/>
<rect x="343" y="1075" width="19" height="19" fill="#A1B5D0"/>
<rect x="362" y="1075" width="19" height="19" fill="#9AB0CD"/>
<rect x="381" y="1075" width="20" height="19" fill="#7A98BB"/>
<rect x="401" y="1075" width="19" height="19" fill="#6B8CB2"/>
<rect x="420" y="1075" width="19" height="19" fill="#7796BA"/>
<rect x="439" y="1075" width="39" height="19" fill="#7998BB"/>
<rect x="478" y="1075" width="19" height="19" fill="#7A99BC"/>
<rect x="497" y="1075" width="39" height="19" fill="#88A3C4"/>
<rect x="536" y="1075" width="19" height="19" fill="#7A99BC"/>
<rect x="555" y="1075" width="39" height="19" fill="#7998BB"/>
<rect x="15" y="1094" width="19" height="20" fill="#6EA2CF"/>
<rect x="34" y="1094" width="20" height="20" fill="#9DBCDC"/>
<rect x="54" y="1094" width="19" height="20" fill="#86AFD6"/>
<rect x="73" y="1094" width="19" height="20" fill="#487CBD"/>
<rect x="92" y="1094" width="19" height="20" fill="#3D6BB3"/>
<rect x="111" y="1094" width="39" height="20" fill="#3B68B2"/>
<rect x="150" y="1094" width="19" height="20" fill="#3C69B3"/>
<rect x="169" y="1094" width="20" height="20" fill="#3E74B9"/>
<rect x="189" y="1094" width="19" height="20" fill="#3F77BB"/>
<rect x="208" y="1094" width="19" height="20" fill="#4C88C3"/>
<rect x="227" y="1094" width="19" height="20" fill="#699ECD"/>
<rect x="246" y="1094" width="20" height="20" fill="#8CB4D8"/>
<rect x="266" y="1094" width="19" height="20" fill="#AFC7E2"/>
<rect x="285" y="1094" width="19" height="20" fill="#D8E1EE"/>
<rect x="304" y="1094" width="20" height="20" fill="#D6DEED"/>
<rect x="324" y="1094" width="19" height="20" fill="#B5C2DB"/>
<rect x="343" y="1094" width="19" height="20" fill="#90A9C9"/>
<rect x="362" y="1094" width="19" height="20" fill="#8BA5C6"/>
<rect x="381" y="1094" width="20" height="20" fill="#7A98BB"/>
<rect x="401" y="1094" width="19" height="20" fill="#6B8CB2"/>
<rect x="420" y="1094" width="19" height="20" fill="#7796BA"/>
<rect x="439" y="1094" width="20" height="20" fill="#7897BA"/>
<rect x="459" y="1094" width="19" height="20" fill="#6D8EB3"/>
<rect x="478" y="1094" width="19" height="20" fill="#7998BB"/>
<rect x="497" y="1094" width="39" height="20" fill="#7A99BC"/>
<rect x="536" y="1094" width="38" height="20" fill="#7998BB"/>
<rect x="574" y="1094" width="20" height="20" fill="#7897BA"/>
<rect x="15" y="1114" width="19" height="19" fill="#73A5D0"/>
<rect x="34" y="1114" width="20" height="19" fill="#A5C1DE"/>
<rect x="54" y="1114" width="19" height="19" fill="#A6C1DF"/>
<rect x="73" y="1114" width="19" height="19" fill="#6FA0CE"/>
<rect x="92" y="1114" width="19" height="19" fill="#4379BB"/>
<rect x="111" y="1114" width="58" height="19" fill="#3E74B9"/>
<rect x="169" y="1114" width="20" height="19" fill="#3E75BA"/>
<rect x="189" y="1114" width="19" height="19" fill="#3F77BB"/>
<rect x="208" y="1114" width="19" height="19" fill="#4E8AC4"/>
<rect x="227" y="1114" width="19" height="19" fill="#6AA0CE"/>
<rect x="246" y="1114" width="20" height="19" fill="#8EB5D8"/>
<rect x="266" y="1114" width="19" height="19" fill="#C0D2E6"/>
<rect x="285" y="1114" width="19" height="19" fill="#D5DFED"/>
<rect x="304" y="1114" width="20" height="19" fill="#C3D2E5"/>
<rect x="324" y="1114" width="19" height="19" fill="#A0B4D2"/>
<rect x="343" y="1114" width="19" height="19" fill="#819FCD"/>
<rect x="362" y="1114" width="19" height="19" fill="#88A3C6"/>
<rect x="381" y="1114" width="20" height="19" fill="#7897BB"/>
<rect x="401" y="1114" width="19" height="19" fill="#6B8CB2"/>
<rect x="420" y="1114" width="19" height="19" fill="#7796BA"/>
<rect x="439" y="1114" width="20" height="19" fill="#7998BB"/>
<rect x="459" y="1114" width="19" height="19" fill="#7897BA"/>
<rect x="478" y="1114" width="38" height="19" fill="#7998BB"/>
<rect x="516" y="1114" width="20" height="19" fill="#7897BA"/>
<rect x="536" y="1114" width="19" height="19" fill="#7998BB"/>
<rect x="555" y="1114" width="19" height="19" fill="#7897BA"/>
<rect x="574" y="1114" width="20" height="19" fill="#6B8CB2"/>
<rect x="15" y="1133" width="19" height="19" fill="#78A7D2"/>
<rect x="34" y="1133" width="20" height="19" fill="#B4C4DE"/>
<rect x="54" y="1133" width="19" height="19" fill="#D3DDED"/>
<rect x="73" y="1133" width="19" height="19" fill="#B6CBE3"/>
<rect x="92" y="1133" width="19" height="19" fill="#4A7FBF"/>
<rect x="111" y="1133" width="20" height="19" fill="#3F77BB"/>
<rect x="131" y="1133" width="19" height="19" fill="#3E76BA"/>
<rect x="150" y="1133" width="39" height="19" fill="#3E75BA"/>
<rect x="189" y="1133" width="19" height="19" fill="#3F77BB"/>
<rect x="208" y="1133" width="19" height="19" fill="#4E8AC4"/>
<rect x="227" y="1133" width="19" height="19" fill="#6BA0CE"/>
<rect x="246" y="1133" width="20" height="19" fill="#90B7D9"/>
<rect x="266" y="1133" width="19" height="19" fill="#C2D3E6"/>
<rect x="285" y="1133" width="19" height="19" fill="#BBC7DE"/>
<rect x="304" y="1133" width="20" height="19" fill="#A5B8D4"/>
<rect x="324" y="1133" width="19" height="19" fill="#87A4D0"/>
<rect x="343" y="1133" width="19" height="19" fill="#83A0CF"/>
<rect x="362" y="1133" width="19" height="19" fill="#7F9DCB"/>
<rect x="381" y="1133" width="20" height="19" fill="#6C8CB3"/>
<rect x="401" y="1133" width="19" height="19" fill="#6A8AB1"/>
<rect x="420" y="1133" width="19" height="19" fill="#7695B9"/>
<rect x="439" y="1133" width="58" height="19" fill="#7897BA"/>
<rect x="497" y="1133" width="19" height="19" fill="#7696B9"/>
<rect x="516" y="1133" width="20" height="19" fill="#6B8CB2"/>
<rect x="536" y="1133" width="19" height="19" fill="#7696B9"/>
<rect x="555" y="1133" width="19" height="19" fill="#7695B9"/>
<rect x="574" y="1133" width="20" height="19" fill="#6A8AB1"/>
<rect x="15" y="1152" width="19" height="20" fill="#ACC5E1"/>
<rect x="34" y="1152" width="20" height="20" fill="#C3CDE9"/>
<rect x="54" y="1152" width="19" height="20" fill="#ECEEF8"/>
<rect x="73" y="1152" width="19" height="20" fill="#BFD1E6"/>
<rect x="92" y="1152" width="19" height="20" fill="#5990C7"/>
<rect x="111" y="1152" width="20" height="20" fill="#4A86C2"/>
<rect x="131" y="1152" width="58" height="20" fill="#3F77BB"/>
<rect x="189" y="1152" width="19" height="20" fill="#4079BC"/>
<rect x="208" y="1152" width="19" height="20" fill="#4E8BC4"/>
<rect x="227" y="1152" width="19" height="20" fill="#6DA1CF"/>
<rect x="246" y="1152" width="20" height="20" fill="#A6C2DF"/>
<rect x="266" y="1152" width="19" height="20" fill="#D0DBEB"/>
<rect x="285" y="1152" width="19" height="20" fill="#B6C4DC"/>
<rect x="304" y="1152" width="20" height="20" fill="#B3C0DA"/>
<rect x="324" y="1152" width="19" height="20" fill="#B2C0DA"/>
<rect x="343" y="1152" width="19" height="20" fill="#B0BFDA"/>
<rect x="362" y="1152" width="19" height="20" fill="#9AAFCE"/>
<rect x="381" y="1152" width="20" height="20" fill="#6E8DB4"/>
<rect x="401" y="1152" width="38" height="20" fill="#698AB1"/>
<rect x="439" y="1152" width="20" height="20" fill="#6B8BB2"/>
<rect x="459" y="1152" width="19" height="20" fill="#7695B9"/>
<rect x="478" y="1152" width="19" height="20" fill="#6B8BB2"/>
<rect x="497" y="1152" width="77" height="20" fill="#698AB1"/>
<rect x="574" y="1152" width="20" height="20" fill="#698AB0"/>
<rect x="15" y="1172" width="19" height="19" fill="#C9D7E9"/>
<rect x="34" y="1172" width="20" height="19" fill="#EEEFF9"/>
<rect x="54" y="1172" width="19" height="19" fill="#F0F0FA"/>
<rect x="73" y="1172" width="19" height="19" fill="#C2D2E7"/>
<rect x="92" y="1172" width="19" height="19" fill="#7C9ECF"/>
<rect x="111" y="1172" width="20" height="19" fill="#477CBE"/>
<rect x="131" y="1172" width="19" height="19" fill="#4279BC"/>
<rect x="150" y="1172" width="19" height="19" fill="#4A87C2"/>
<rect x="169" y="1172" width="39" height="19" fill="#4B88C3"/>
<rect x="208" y="1172" width="19" height="19" fill="#4F8CC5"/>
<rect x="227" y="1172" width="19" height="19" fill="#6DA1CF"/>
<rect x="246" y="1172" width="20" height="19" fill="#A7C3DF"/>
<rect x="266" y="1172" width="19" height="19" fill="#C0D1E6"/>
<rect x="285" y="1172" width="19" height="19" fill="#8FA9D3"/>
<rect x="304" y="1172" width="20" height="19" fill="#A4B7D4"/>
<rect x="324" y="1172" width="19" height="19" fill="#B6C3DB"/>
<rect x="343" y="1172" width="19" height="19" fill="#B5C2DA"/>
<rect x="362" y="1172" width="19" height="19" fill="#A0B4D0"/>
<rect x="381" y="1172" width="20" height="19" fill="#7D9ABD"/>
<rect x="401" y="1172" width="19" height="19" fill="#6A8BB1"/>
<rect x="420" y="1172" width="39" height="19" fill="#6889B0"/>
<rect x="459" y="1172" width="19" height="19" fill="#698AB1"/>
<rect x="478" y="1172" width="116" height="19" fill="#6889B0"/>
<rect x="15" y="1191" width="19" height="19" fill="#CCDAEB"/>
<rect x="34" y="1191" width="20" height="19" fill="#F1F1FA"/>
<rect x="54" y="1191" width="19" height="19" fill="#F0F1FA"/>
<rect x="73" y="1191" width="19" height="19" fill="#C1CCE8"/>
<rect x="92" y="1191" width="19" height="19" fill="#89A6D3"/>
<rect x="111" y="1191" width="20" height="19" fill="#7B9DCE"/>
<rect x="131" y="1191" width="19" height="19" fill="#528CC5"/>
<rect x="150" y="1191" width="58" height="19" fill="#4C8AC4"/>
<rect x="208" y="1191" width="19" height="19" fill="#508DC5"/>
<rect x="227" y="1191" width="19" height="19" fill="#70A3D0"/>
<rect x="246" y="1191" width="20" height="19" fill="#A9C4E0"/>
<rect x="266" y="1191" width="19" height="19" fill="#C1D2E6"/>
<rect x="285" y="1191" width="19" height="19" fill="#B6C4DD"/>
<rect x="304" y="1191" width="20" height="19" fill="#BAC6E4"/>
<rect x="324" y="1191" width="19" height="19" fill="#B6C3DB"/>
<rect x="343" y="1191" width="19" height="19" fill="#A4B6D2"/>
<rect x="362" y="1191" width="19" height="19" fill="#AFBED7"/>
<rect x="381" y="1191" width="20" height="19" fill="#98AECB"/>
<rect x="401" y="1191" width="19" height="19" fill="#6C8CB2"/>
<rect x="420" y="1191" width="174" height="19" fill="#6889B0"/>
<rect x="15" y="1210" width="19" height="19" fill="#C9D8E9"/>
<rect x="34" y="1210" width="20" height="19" fill="#EBEDF7"/>
<rect x="54" y="1210" width="19" height="19" fill="#DBE2EF"/>
<rect x="73" y="1210" width="19" height="19" fill="#D6DFEE"/>
<rect x="92" y="1210" width="19" height="19" fill="#D2DCEC"/>
<rect x="111" y="1210" width="20" height="19" fill="#BACEE4"/>
<rect x="131" y="1210" width="19" height="19" fill="#72A4D0"/>
<rect x="150" y="1210" width="19" height="19" fill="#528EC6"/>
<rect x="169" y="1210" width="20" height="19" fill="#4D8BC4"/>
<rect x="189" y="1210" width="19" height="19" fill="#4C8AC4"/>
<rect x="208" y="1210" width="19" height="19" fill="#528EC6"/>
<rect x="227" y="1210" width="19" height="19" fill="#89B2D7"/>
<rect x="246" y="1210" width="20" height="19" fill="#BED1E5"/>
<rect x="266" y="1210" width="19" height="19" fill="#C3D2E6"/>
<rect x="285" y="1210" width="19" height="19" fill="#B7C4DC"/>
<rect x="304" y="1210" width="20" height="19" fill="#BDCDE2"/>
<rect x="324" y="1210" width="19" height="19" fill="#AFBED8"/>
<rect x="343" y="1210" width="19" height="19" fill="#8FA8C7"/>
<rect x="362" y="1210" width="19" height="19" fill="#99AECC"/>
<rect x="381" y="1210" width="20" height="19" fill="#7C99BC"/>
<rect x="401" y="1210" width="19" height="19" fill="#6A8BB1"/>
<rect x="420" y="1210" width="174" height="19" fill="#6889B0"/>
<rect x="15" y="1229" width="19" height="20" fill="#B2C9E3"/>
<rect x="34" y="1229" width="20" height="20" fill="#C6D5E7"/>
<rect x="54" y="1229" width="19" height="20" fill="#AEC0D8"/>
<rect x="73" y="1229" width="19" height="20" fill="#C7D6E7"/>
<rect x="92" y="1229" width="19" height="20" fill="#C8D7E9"/>
<rect x="111" y="1229" width="20" height="20" fill="#C4D5E7"/>
<rect x="131" y="1229" width="19" height="20" fill="#B6CCE3"/>
<rect x="150" y="1229" width="19" height="20" fill="#6BA0CE"/>
<rect x="169" y="1229" width="20" height="20" fill="#4E8BC5"/>
<rect x="189" y="1229" width="19" height="20" fill="#4C8AC4"/>
<rect x="208" y="1229" width="19" height="20" fill="#528EC6"/>
<rect x="227" y="1229" width="19" height="20" fill="#8BB3D8"/>
<rect x="246" y="1229" width="20" height="20" fill="#BFD1E6"/>
<rect x="266" y="1229" width="19" height="20" fill="#B9C6DD"/>
<rect x="285" y="1229" width="19" height="20" fill="#A3B7D2"/>
<rect x="304" y="1229" width="20" height="20" fill="#85A1C2"/>
<rect x="324" y="1229" width="19" height="20" fill="#7F9CBE"/>
<rect x="343" y="1229" width="19" height="20" fill="#708FB5"/>
<rect x="362" y="1229" width="19" height="20" fill="#6E8DB3"/>
<rect x="381" y="1229" width="20" height="20" fill="#6B8BB2"/>
<rect x="401" y="1229" width="19" height="20" fill="#698AB0"/>
<rect x="420" y="1229" width="174" height="20" fill="#6889B0"/>
<!-- panel 2: classified -->
<rect x="873" y="53" width="77" height="19" fill="#0055FF"/>
<rect x="950" y="53" width="405" height="19" fill="#54239A"/>
<rect x="1355" y="53" width="39" height="19" fill="#7D3676"/>
<rect x="1394" y="53" width="58" height="19" fill="#7E3777"/>
<rect x="1452" y="53" width="19" height="19" fill="#BF6699"/>
<rect x="873" y="72" width="77" height="20" fill="#0055FF"/>
<rect x="950" y="72" width="424" height="20" fill="#54239A"/>
<rect x="1374" y="72" width="20" height="20" fill="#893D7D"/>
<rect x="1394" y="72" width="19" height="20" fill="#8A3E7D"/>
<rect x="1413" y="72" width="19" height="20" fill="#944583"/>
<rect x="1432" y="72" width="20" height="20" fill="#893D7D"/>
<rect x="1452" y="72" width="19" height="20" fill="#BF6699"/>
<rect x="873" y="92" width="58" height="19" fill="#0055FF"/>
<rect x="931" y="92" width="424" height="19" fill="#54239A"/>
<rect x="1355" y="92" width="58" height="19" fill="#A3518D"/>
<rect x="1413" y="92" width="19" height="19" fill="#A2508D"/>
<rect x="1432" y="92" width="20" height="19" fill="#974785"/>
<rect x="1452" y="92" width="19" height="19" fill="#BF6699"/>
<rect x="873" y="111" width="58" height="19" fill="#0055FF"/>
<rect x="931" y="111" width="405" height="19" fill="#54239A"/>
<rect x="1336" y="111" width="19" height="19" fill="#8C3F7F"/>
<rect x="1355" y="111" width="19" height="19" fill="#A3528D"/>
<rect x="1374" y="111" width="39" height="19" fill="#B05C93"/>
<rect x="1413" y="111" width="19" height="19" fill="#A4528E"/>
<rect x="1432" y="111" width="20" height="19" fill="#A2508D"/>
<rect x="1452" y="111" width="19" height="19" fill="#BF6699"/>
<rect x="873" y="130" width="39" height="19" fill="#0055FF"/>
<rect x="912" y="130" width="424" height="19" fill="#54239A"/>
<rect x="1336" y="130" width="19" height="19" fill="#984785"/>
<rect x="1355" y="130" width="19" height="19" fill="#A5528E"/>
<rect x="1374" y="130" width="20" height="19" fill="#B15D94"/>
<rect x="1394" y="130" width="19" height="19" fill="#B05C93"/>
<rect x="1413" y="130" width="19" height="19" fill="#994886"/>
<rect x="1432" y="130" width="20" height="19" fill="#974785"/>
<rect x="1452" y="130" width="19" height="19" fill="#BF6699"/>
<rect x="873" y="149" width="19" height="20" fill="#0055FF"/>
<rect x="892" y="149" width="425" height="20" fill="#54239A"/>
<rect x="1317" y="149" width="19" height="20" fill="#974785"/>
<rect x="1336" y="149" width="19" height="20" fill="#A3528D"/>
<rect x="1355" y="149" width="19" height="20" fill="#B05C93"/>
<rect x="1374" y="149" width="20" height="20" fill="#B05D93"/>
<rect x="1394" y="149" width="19" height="20" fill="#A4528E"/>
<rect x="1413" y="149" width="19" height="20" fill="#974785"/>
<rect x="1432" y="149" width="20" height="20" fill="#964684"/>
<rect x="1452" y="149" width="19" height="20" fill="#BF6699"/>
<rect x="873" y="169" width="19" height="19" fill="#0055FF"/>
<rect x="892" y="169" width="425" height="19" fill="#54239A"/>
<rect x="1317" y="169" width="19" height="19" fill="#984886"/>
<rect x="1336" y="169" width="19" height="19" fill="#A4528E"/>
<rect x="1355" y="169" width="19" height="19" fill="#AF5C93"/>
<rect x="1374" y="169" width="20" height="19" fill="#A5528E"/>
<rect x="1394" y="169" width="19" height="19" fill="#A2508D"/>
<rect x="1413" y="169" width="39" height="19" fill="#964684"/>
<rect x="1452" y="169" width="19" height="19" fill="#BF6699"/>
<rect x="873" y="188" width="444" height="19" fill="#54239A"/>
<rect x="1317" y="188" width="19" height="19" fill="#A4528E"/>
<rect x="1336" y="188" width="19" height="19" fill="#A5538E"/>
<rect x="1355" y="188" width="19" height="19" fill="#A4528E"/>
<rect x="1374" y="188" width="20" height="19" fill="#984885"/>
<rect x="1394" y="188" width="19" height="19" fill="#964684"/>
<rect x="1413" y="188" width="19" height="19" fill="#8B3E7E"/>
<rect x="1432" y="188" width="20" height="19" fill="#954583"/>
<rect x="1452" y="188" width="19" height="19" fill="#BF6699"/>
<rect x="873" y="207" width="424" height="20" fill="#54239A"/>
<rect x="1297" y="207" width="20" height="20" fill="#A5538F"/>
<rect x="1317" y="207" width="38" height="20" fill="#B05D93"/>
<rect x="1355" y="207" width="19" height="20" fill="#A5528E"/>
<rect x="1374" y="207" width="20" height="20" fill="#984885"/>
<rect x="1394" y="207" width="19" height="20" fill="#954584"/>
<rect x="1413" y="207" width="19" height="20" fill="#8A3D7D"/>
<rect x="1432" y="207" width="20" height="20" fill="#944483"/>
<rect x="1452" y="207" width="19" height="20" fill="#BF6699"/>
<rect x="873" y="227" width="424" height="19" fill="#54239A"/>
<rect x="1297" y="227" width="20" height="19" fill="#A4528E"/>
<rect x="1317" y="227" width="19" height="19" fill="#B05C93"/>
<rect x="1336" y="227" width="19" height="19" fill="#B15D94"/>
<rect x="1355" y="227" width="19" height="19" fill="#B05C93"/>
<rect x="1374" y="227" width="20" height="19" fill="#A3518D"/>
<rect x="1394" y="227" width="19" height="19" fill="#964684"/>
<rect x="1413" y="227" width="19" height="19" fill="#893D7C"/>
<rect x="1432" y="227" width="20" height="19" fill="#883C7C"/>
<rect x="1452" y="227" width="19" height="19" fill="#BF6699"/>
<rect x="873" y="246" width="424" height="19" fill="#54239A"/>
<rect x="1297" y="246" width="20" height="19" fill="#984885"/>
<rect x="1317" y="246" width="19" height="19" fill="#A3518D"/>
<rect x="1336" y="246" width="19" height="19" fill="#A5538E"/>
<rect x="1355" y="246" width="19" height="19" fill="#B05C93"/>
<rect x="1374" y="246" width="20" height="19" fill="#A4528E"/>
<rect x="1394" y="246" width="19" height="19" fill="#954684"/>
<rect x="1413" y="246" width="19" height="19" fill="#7F3877"/>
<rect x="1432" y="246" width="20" height="19" fill="#7D3676"/>
<rect x="1452" y="246" width="19" height="19" fill="#BF6699"/>
<rect x="873" y="265" width="444" height="19" fill="#54239A"/>
<rect x="1317" y="265" width="19" height="19" fill="#8D407F"/>
<rect x="1336" y="265" width="19" height="19" fill="#A3518D"/>
<rect x="1355" y="265" width="19" height="19" fill="#A4528E"/>
<rect x="1374" y="265" width="20" height="19" fill="#A3518D"/>
<rect x="1394" y="265" width="19" height="19" fill="#954684"/>
<rect x="1413" y="265" width="19" height="19" fill="#7E3777"/>
<rect x="1432" y="265" width="20" height="19" fill="#7C3676"/>
<rect x="1452" y="265" width="19" height="19" fill="#BF6699"/>
<rect x="873" y="284" width="424" height="20" fill="#54239A"/>
<rect x="1297" y="284" width="20" height="20" fill="#974785"/>
<rect x="1317" y="284" width="19" height="20" fill="#984885"/>
<rect x="1336" y="284" width="19" height="20" fill="#A4528E"/>
<rect x="1355" y="284" width="19" height="20" fill="#A3528E"/>
<rect x="1374" y="284" width="20" height="20" fill="#974785"/>
<rect x="1394" y="284" width="19" height="20" fill="#944583"/>
<rect x="1413" y="284" width="19" height="20" fill="#873C7C"/>
<rect x="1432" y="284" width="20" height="20" fill="#7D3676"/>
<rect x="1452" y="284" width="19" height="20" fill="#BF6699"/>
<rect x="873" y="304" width="424" height="19" fill="#54239A"/>
<rect x="1297" y="304" width="20" height="19" fill="#A5538E"/>
<rect x="1317" y="304" width="38" height="19" fill="#AF5C93"/>
<rect x="1355" y="304" width="19" height="19" fill="#A3518D"/>
<rect x="1374" y="304" width="20" height="19" fill="#954684"/>
<rect x="1394" y="304" width="19" height="19" fill="#893D7D"/>
<rect x="1413" y="304" width="19" height="19" fill="#883C7C"/>
<rect x="1432" y="304" width="20" height="19" fill="#7E3777"/>
<rect x="1452" y="304" width="19" height="19" fill="#BF6699"/>
<rect x="873" y="323" width="386" height="19" fill="#54239A"/>
<rect x="1259" y="323" width="19" height="19" fill="#994886"/>
<rect x="1278" y="323" width="19" height="19" fill="#A5538E"/>
<rect x="1297" y="323" width="20" height="19" fill="#B15D93"/>
<rect x="1317" y="323" width="19" height="19" fill="#B05C93"/>
<rect x="1336" y="323" width="19" height="19" fill="#A3518D"/>
<rect x="1355" y="323" width="19" height="19" fill="#954684"/>
<rect x="1374" y="323" width="20" height="19" fill="#893D7D"/>
<rect x="1394" y="323" width="38" height="19" fill="#883C7C"/>
<rect x="1432" y="323" width="20" height="19" fill="#873C7C"/>
<rect x="1452" y="323" width="19" height="19" fill="#BF6699"/>
<rect x="873" y="342" width="386" height="20" fill="#54239A"/>
<rect x="1259" y="342" width="19" height="20" fill="#A4528E"/>
<rect x="1278" y="342" width="39" height="20" fill="#B05C93"/>
<rect x="1317" y="342" width="19" height="20" fill="#A3518D"/>
<rect x="1336" y="342" width="19" height="20" fill="#8B3E7E"/>
<rect x="1355" y="342" width="19" height="20" fill="#7F3878"/>
<rect x="1374" y="342" width="20" height="20" fill="#7E3777"/>
<rect x="1394" y="342" width="58" height="20" fill="#883C7C"/>
<rect x="1452" y="342" width="19" height="20" fill="#BF6699"/>
<rect x="873" y="362" width="347" height="19" fill="#54239A"/>
<rect x="1220" y="362" width="19" height="19" fill="#8B3F7E"/>
<rect x="1239" y="362" width="20" height="19" fill="#8D407F"/>
<rect x="1259" y="362" width="19" height="19" fill="#A3528D"/>
<rect x="1278" y="362" width="19" height="19" fill="#AF5B92"/>
<rect x="1297" y="362" width="20" height="19" fill="#A3518D"/>
<rect x="1317" y="362" width="19" height="19" fill="#964684"/>
<rect x="1336" y="362" width="19" height="19" fill="#883C7C"/>
<rect x="1355" y="362" width="19" height="19" fill="#7E3777"/>
<rect x="1374" y="362" width="20" height="19" fill="#873B7B"/>
<rect x="1394" y="362" width="38" height="19" fill="#883C7C"/>
<rect x="1432" y="362" width="20" height="19" fill="#873C7C"/>
<rect x="1452" y="362" width="19" height="19" fill="#BF6699"/>
<rect x="873" y="381" width="309" height="19" fill="#54239A"/>
<rect x="1182" y="381" width="38" height="19" fill="#A4528E"/>
<rect x="1220" y="381" width="58" height="19" fill="#A3518D"/>
<rect x="1278" y="381" width="19" height="19" fill="#984785"/>
<rect x="1297" y="381" width="20" height="19" fill="#8B3E7E"/>
<rect x="1317" y="381" width="19" height="19" fill="#893D7D"/>
<rect x="1336" y="381" width="19" height="19" fill="#883C7C"/>
<rect x="1355" y="381" width="19" height="19" fill="#7E3777"/>
<rect x="1374" y="381" width="20" height="19" fill="#873C7C"/>
<rect x="1394" y="381" width="19" height="19" fill="#883C7C"/>
<rect x="1413" y="381" width="19" height="19" fill="#873C7C"/>
<rect x="1432" y="381" width="20" height="19" fill="#7E3777"/>
<rect x="1452" y="381" width="19" height="19" fill="#BF6699"/>
<rect x="873" y="400" width="309" height="19" fill="#54239A"/>
<rect x="1182" y="400" width="19" height="19" fill="#994986"/>
<rect x="1201" y="400" width="19" height="19" fill="#AF5C93"/>
<rect x="1220" y="400" width="19" height="19" fill="#B05C93"/>
<rect x="1239" y="400" width="20" height="19" fill="#A4528E"/>
<rect x="1259" y="400" width="19" height="19" fill="#A2518D"/>
<rect x="1278" y="400" width="19" height="19" fill="#964684"/>
<rect x="1297" y="400" width="20" height="19" fill="#893D7D"/>
<rect x="1317" y="400" width="96" height="19" fill="#883C7C"/>
<rect x="1413" y="400" width="19" height="19" fill="#873C7C"/>
<rect x="1432" y="400" width="20" height="19" fill="#7D3777"/>
<rect x="1452" y="400" width="19" height="19" fill="#BF6699"/>
<rect x="873" y="419" width="309" height="20" fill="#54239A"/>
<rect x="1182" y="419" width="19" height="20" fill="#984885"/>
<rect x="1201" y="419" width="19" height="20" fill="#AF5B92"/>
<rect x="1220" y="419" width="19" height="20" fill="#A5538E"/>
<rect x="1239" y="419" width="20" height="20" fill="#A3518D"/>
<rect x="1259" y="419" width="19" height="20" fill="#974785"/>
<rect x="1278" y="419" width="19" height="20" fill="#954583"/>
<rect x="1297" y="419" width="20" height="20" fill="#893D7C"/>
<rect x="1317" y="419" width="96" height="20" fill="#883C7C"/>
<rect x="1413" y="419" width="19" height="20" fill="#873C7C"/>
<rect x="1432" y="419" width="20" height="20" fill="#7D3777"/>
<rect x="1452" y="419" width="19" height="20" fill="#BF6699"/>
<rect x="873" y="439" width="309" height="19" fill="#54239A"/>
<rect x="1182" y="439" width="19" height="19" fill="#984885"/>
<rect x="1201" y="439" width="19" height="19" fill="#A4528E"/>
<rect x="1220" y="439" width="19" height="19" fill="#A3528E"/>
<rect x="1239" y="439" width="20" height="19" fill="#974785"/>
<rect x="1259" y="439" width="19" height="19" fill="#954583"/>
<rect x="1278" y="439" width="19" height="19" fill="#893D7D"/>
<rect x="1297" y="439" width="39" height="19" fill="#883C7C"/>
<rect x="1336" y="439" width="38" height="19" fill="#873C7C"/>
<rect x="1374" y="439" width="39" height="19" fill="#883C7C"/>
<rect x="1413" y="439" width="19" height="19" fill="#873C7C"/>
<rect x="1432" y="439" width="20" height="19" fill="#7D3777"/>
<rect x="1452" y="439" width="19" height="19" fill="#BF6699"/>
<rect x="873" y="458" width="328" height="19" fill="#54239A"/>
<rect x="1201" y="458" width="19" height="19" fill="#A4528E"/>
<rect x="1220" y="458" width="19" height="19" fill="#A3518D"/>
<rect x="1239" y="458" width="20" height="19" fill="#964684"/>
<rect x="1259" y="458" width="19" height="19" fill="#8A3D7D"/>
<rect x="1278" y="458" width="58" height="19" fill="#883C7C"/>
<rect x="1336" y="458" width="38" height="19" fill="#7E3777"/>
<rect x="1374" y="458" width="20" height="19" fill="#873C7C"/>
<rect x="1394" y="458" width="19" height="19" fill="#883C7C"/>
<rect x="1413" y="458" width="19" height="19" fill="#873C7C"/>
<rect x="1432" y="458" width="20" height="19" fill="#7D3777"/>
<rect x="1452" y="458" width="19" height="19" fill="#BF6699"/>
<rect x="873" y="477" width="328" height="20" fill="#54239A"/>
<rect x="1201" y="477" width="19" height="20" fill="#A4528E"/>
<rect x="1220" y="477" width="19" height="20" fill="#A3518D"/>
<rect x="1239" y="477" width="20" height="20" fill="#964684"/>
<rect x="1259" y="477" width="19" height="20" fill="#883C7C"/>
<rect x="1278" y="477" width="19" height="20" fill="#873C7C"/>
<rect x="1297" y="477" width="20" height="20" fill="#883C7C"/>
<rect x="1317" y="477" width="19" height="20" fill="#934482"/>
<rect x="1336" y="477" width="19" height="20" fill="#873C7C"/>
<rect x="1355" y="477" width="19" height="20" fill="#7E3777"/>
<rect x="1374" y="477" width="20" height="20" fill="#883C7C"/>
<rect x="1394" y="477" width="19" height="20" fill="#893C7C"/>
<rect x="1413" y="477" width="19" height="20" fill="#873C7C"/>
<rect x="1432" y="477" width="20" height="20" fill="#7D3777"/>
<rect x="1452" y="477" width="19" height="20" fill="#BF6699"/>
<rect x="873" y="497" width="328" height="19" fill="#54239A"/>
<rect x="1201" y="497" width="19" height="19" fill="#A4528E"/>
<rect x="1220" y="497" width="19" height="19" fill="#A3518D"/>
<rect x="1239" y="497" width="20" height="19" fill="#964784"/>
<rect x="1259" y="497" width="19" height="19" fill="#803878"/>
<rect x="1278" y="497" width="19" height="19" fill="#7E3777"/>
<rect x="1297" y="497" width="20" height="19" fill="#873C7C"/>
<rect x="1317" y="497" width="77" height="19" fill="#883C7C"/>
<rect x="1394" y="497" width="19" height="19" fill="#934482"/>
<rect x="1413" y="497" width="19" height="19" fill="#883C7C"/>
<rect x="1432" y="497" width="20" height="19" fill="#7E3777"/>
<rect x="1452" y="497" width="19" height="19" fill="#BF6699"/>
<rect x="873" y="516" width="309" height="19" fill="#54239A"/>
<rect x="1182" y="516" width="19" height="19" fill="#984885"/>
<rect x="1201" y="516" width="19" height="19" fill="#A4528E"/>
<rect x="1220" y="516" width="19" height="19" fill="#A5528E"/>
<rect x="1239" y="516" width="20" height="19" fill="#A2518D"/>
<rect x="1259" y="516" width="19" height="19" fill="#954583"/>
<rect x="1278" y="516" width="19" height="19" fill="#873C7C"/>
<rect x="1297" y="516" width="20" height="19" fill="#7D3777"/>
<rect x="1317" y="516" width="19" height="19" fill="#7E3777"/>
<rect x="1336" y="516" width="19" height="19" fill="#873C7C"/>
<rect x="1355" y="516" width="58" height="19" fill="#883C7C"/>
<rect x="1413" y="516" width="19" height="19" fill="#873C7C"/>
<rect x="1432" y="516" width="20" height="19" fill="#863B7B"/>
<rect x="1452" y="516" width="19" height="19" fill="#BF6699"/>
<rect x="873" y="535" width="309" height="19" fill="#54239A"/>
<rect x="1182" y="535" width="19" height="19" fill="#994886"/>
<rect x="1201" y="535" width="38" height="19" fill="#AF5C93"/>
<rect x="1239" y="535" width="20" height="19" fill="#A3518D"/>
<rect x="1259" y="535" width="19" height="19" fill="#964684"/>
<rect x="1278" y="535" width="19" height="19" fill="#883C7C"/>
<rect x="1297" y="535" width="39" height="19" fill="#7D3676"/>
<rect x="1336" y="535" width="19" height="19" fill="#873C7C"/>
<rect x="1355" y="535" width="39" height="19" fill="#883C7C"/>
<rect x="1394" y="535" width="38" height="19" fill="#7E3777"/>
<rect x="1432" y="535" width="20" height="19" fill="#7D3777"/>
<rect x="1452" y="535" width="19" height="19" fill="#BF6699"/>
<rect x="873" y="554" width="289" height="20" fill="#54239A"/>
<rect x="1162" y="554" width="20" height="20" fill="#994886"/>
<rect x="1182" y="554" width="19" height="20" fill="#A4528E"/>
<rect x="1201" y="554" width="19" height="20" fill="#AF5C93"/>
<rect x="1220" y="554" width="19" height="20" fill="#A4528D"/>
<rect x="1239" y="554" width="20" height="20" fill="#974785"/>
<rect x="1259" y="554" width="19" height="20" fill="#944583"/>
<rect x="1278" y="554" width="19" height="20" fill="#883C7C"/>
<rect x="1297" y="554" width="39" height="20" fill="#7D3676"/>
<rect x="1336" y="554" width="19" height="20" fill="#873C7C"/>
<rect x="1355" y="554" width="39" height="20" fill="#883C7C"/>
<rect x="1394" y="554" width="19" height="20" fill="#873C7C"/>
<rect x="1413" y="554" width="19" height="20" fill="#873B7B"/>
<rect x="1432" y="554" width="20" height="20" fill="#7E3777"/>
<rect x="1452" y="554" width="19" height="20" fill="#BF6699"/>
<rect x="873" y="574" width="270" height="19" fill="#54239A"/>
<rect x="1143" y="574" width="19" height="19" fill="#A3518D"/>
<rect x="1162" y="574" width="20" height="19" fill="#A5528E"/>
<rect x="1182" y="574" width="19" height="19" fill="#B05C93"/>
<rect x="1201" y="574" width="19" height="19" fill="#A5538E"/>
<rect x="1220" y="574" width="19" height="19" fill="#984885"/>
<rect x="1239" y="574" width="20" height="19" fill="#8B3E7E"/>
<rect x="1259" y="574" width="19" height="19" fill="#883C7C"/>
<rect x="1278" y="574" width="19" height="19" fill="#873B7B"/>
<rect x="1297" y="574" width="39" height="19" fill="#7D3676"/>
<rect x="1336" y="574" width="19" height="19" fill="#873C7C"/>
<rect x="1355" y="574" width="77" height="19" fill="#883C7C"/>
<rect x="1432" y="574" width="20" height="19" fill="#873C7C"/>
<rect x="1452" y="574" width="19" height="19" fill="#BF6699"/>
<rect x="873" y="593" width="270" height="19" fill="#54239A"/>
<rect x="1143" y="593" width="19" height="19" fill="#994886"/>
<rect x="1162" y="593" width="20" height="19" fill="#AF5C93"/>
<rect x="1182" y="593" width="19" height="19" fill="#B05D93"/>
<rect x="1201" y="593" width="19" height="19" fill="#A5538E"/>
<rect x="1220" y="593" width="19" height="19" fill="#A2518D"/>
<rect x="1239" y="593" width="20" height="19" fill="#954684"/>
<rect x="1259" y="593" width="19" height="19" fill="#7F3878"/>
<rect x="1278" y="593" width="19" height="19" fill="#7D3676"/>
<rect x="1297" y="593" width="20" height="19" fill="#7C3676"/>
<rect x="1317" y="593" width="19" height="19" fill="#7D3676"/>
<rect x="1336" y="593" width="19" height="19" fill="#873C7C"/>
<rect x="1355" y="593" width="58" height="19" fill="#883C7C"/>
<rect x="1413" y="593" width="39" height="19" fill="#873C7C"/>
<rect x="1452" y="593" width="19" height="19" fill="#BF6699"/>
<rect x="873" y="612" width="270" height="20" fill="#54239A"/>
<rect x="1143" y="612" width="19" height="20" fill="#994886"/>
<rect x="1162" y="612" width="20" height="20" fill="#A5538E"/>
<rect x="1182" y="612" width="19" height="20" fill="#B05C93"/>
<rect x="1201" y="612" width="19" height="20" fill="#A5538E"/>
<rect x="1220" y="612" width="19" height="20" fill="#A4528E"/>
<rect x="1239" y="612" width="20" height="20" fill="#A1508C"/>
<rect x="1259" y="612" width="19" height="20" fill="#883D7C"/>
<rect x="1278" y="612" width="19" height="20" fill="#7D3676"/>
<rect x="1297" y="612" width="20" height="20" fill="#7C3676"/>
<rect x="1317" y="612" width="19" height="20" fill="#7D3676"/>
<rect x="1336" y="612" width="19" height="20" fill="#873C7C"/>
<rect x="1355" y="612" width="39" height="20" fill="#883C7C"/>
<rect x="1394" y="612" width="19" height="20" fill="#873C7C"/>
<rect x="1413" y="612" width="19" height="20" fill="#7E3777"/>
<rect x="1432" y="612" width="20" height="20" fill="#7D3676"/>
<rect x="1452" y="612" width="19" height="20" fill="#BF6699"/>
<rect x="873" y="632" width="270" height="19" fill="#54239A"/>
<rect x="1143" y="632" width="19" height="19" fill="#A5538E"/>
<rect x="1162" y="632" width="20" height="19" fill="#B05C93"/>
<rect x="1182" y="632" width="19" height="19" fill="#A6548F"/>
<rect x="1201" y="632" width="19" height="19" fill="#A4528E"/>
<rect x="1220" y="632" width="19" height="19" fill="#A3518D"/>
<rect x="1239" y="632" width="20" height="19" fill="#A1508C"/>
<rect x="1259" y="632" width="19" height="19" fill="#893D7D"/>
<rect x="1278" y="632" width="19" height="19" fill="#7D3676"/>
<rect x="1297" y="632" width="20" height="19" fill="#7C3676"/>
<rect x="1317" y="632" width="19" height="19" fill="#7D3676"/>
<rect x="1336" y="632" width="19" height="19" fill="#873C7C"/>
<rect x="1355" y="632" width="39" height="19" fill="#883C7C"/>
<rect x="1394" y="632" width="19" height="19" fill="#873C7C"/>
<rect x="1413" y="632" width="19" height="19" fill="#7E3777"/>
<rect x="1432" y="632" width="20" height="19" fill="#7D3676"/>
<rect x="1452" y="632" width="19" height="19" fill="#BF6699"/>
<rect x="873" y="651" width="251" height="19" fill="#54239A"/>
<rect x="1124" y="651" width="19" height="19" fill="#A5538E"/>
<rect x="1143" y="651" width="19" height="19" fill="#B05D93"/>
<rect x="1162" y="651" width="20" height="19" fill="#B76395"/>
<rect x="1182" y="651" width="19" height="19" fill="#B05D93"/>
<rect x="1201" y="651" width="19" height="19" fill="#A4528E"/>
<rect x="1220" y="651" width="19" height="19" fill="#984885"/>
<rect x="1239" y="651" width="20" height="19" fill="#964684"/>
<rect x="1259" y="651" width="19" height="19" fill="#883D7C"/>
<rect x="1278" y="651" width="19" height="19" fill="#7D3676"/>
<rect x="1297" y="651" width="20" height="19" fill="#7C3676"/>
<rect x="1317" y="651" width="19" height="19" fill="#7D3676"/>
<rect x="1336" y="651" width="19" height="19" fill="#873B7B"/>
<rect x="1355" y="651" width="58" height="19" fill="#883C7C"/>
<rect x="1413" y="651" width="19" height="19" fill="#873C7C"/>
<rect x="1432" y="651" width="20" height="19" fill="#863B7B"/>
<rect x="1452" y="651" width="19" height="19" fill="#BF6699"/>
<rect x="873" y="670" width="270" height="19" fill="#54239A"/>
<rect x="1143" y="670" width="19" height="19" fill="#A4528D"/>
<rect x="1162" y="670" width="20" height="19" fill="#A5538E"/>
<rect x="1182" y="670" width="19" height="19" fill="#B05C93"/>
<rect x="1201" y="670" width="19" height="19" fill="#A4528E"/>
<rect x="1220" y="670" width="19" height="19" fill="#974785"/>
<rect x="1239" y="670" width="20" height="19" fill="#944583"/>
<rect x="1259" y="670" width="19" height="19" fill="#883C7C"/>
<rect x="1278" y="670" width="19" height="19" fill="#7D3676"/>
<rect x="1297" y="670" width="39" height="19" fill="#7C3676"/>
<rect x="1336" y="670" width="19" height="19" fill="#7D3777"/>
<rect x="1355" y="670" width="19" height="19" fill="#873C7C"/>
<rect x="1374" y="670" width="39" height="19" fill="#883C7C"/>
<rect x="1413" y="670" width="19" height="19" fill="#873C7C"/>
<rect x="1432" y="670" width="20" height="19" fill="#7E3777"/>
<rect x="1452" y="670" width="19" height="19" fill="#BF6699"/>
<rect x="873" y="689" width="270" height="20" fill="#54239A"/>
<rect x="1143" y="689" width="19" height="20" fill="#8C3F7E"/>
<rect x="1162" y="689" width="20" height="20" fill="#984885"/>
<rect x="1182" y="689" width="19" height="20" fill="#A3528D"/>
<rect x="1201" y="689" width="19" height="20" fill="#A2518D"/>
<rect x="1220" y="689" width="19" height="20" fill="#964684"/>
<rect x="1239" y="689" width="20" height="20" fill="#8A3D7D"/>
<rect x="1259" y="689" width="19" height="20" fill="#883C7C"/>
<rect x="1278" y="689" width="19" height="20" fill="#7D3777"/>
<rect x="1297" y="689" width="20" height="20" fill="#7C3676"/>
<rect x="1317" y="689" width="19" height="20" fill="#7D3676"/>
<rect x="1336" y="689" width="19" height="20" fill="#7E3777"/>
<rect x="1355" y="689" width="19" height="20" fill="#873C7C"/>
<rect x="1374" y="689" width="39" height="20" fill="#883C7C"/>
<rect x="1413" y="689" width="19" height="20" fill="#873C7C"/>
<rect x="1432" y="689" width="20" height="20" fill="#7E3777"/>
<rect x="1452" y="689" width="19" height="20" fill="#BF6699"/>
<rect x="873" y="709" width="289" height="19" fill="#54239A"/>
<rect x="1162" y="709" width="20" height="19" fill="#984885"/>
<rect x="1182" y="709" width="19" height="19" fill="#A3518D"/>
<rect x="1201" y="709" width="19" height="19" fill="#974785"/>
<rect x="1220" y="709" width="19" height="19" fill="#8B3E7E"/>
<rect x="1239" y="709" width="20" height="19" fill="#944583"/>
<rect x="1259" y="709" width="19" height="19" fill="#893D7D"/>
<rect x="1278" y="709" width="19" height="19" fill="#873C7C"/>
<rect x="1297" y="709" width="20" height="19" fill="#7E3777"/>
<rect x="1317" y="709" width="19" height="19" fill="#873B7B"/>
<rect x="1336" y="709" width="38" height="19" fill="#873C7C"/>
<rect x="1374" y="709" width="58" height="19" fill="#883C7C"/>
<rect x="1432" y="709" width="20" height="19" fill="#873C7C"/>
<rect x="1452" y="709" width="19" height="19" fill="#BF6699"/>
<rect x="873" y="728" width="289" height="19" fill="#54239A"/>
<rect x="1162" y="728" width="20" height="19" fill="#A4528E"/>
<rect x="1182" y="728" width="19" height="19" fill="#AE5B92"/>
<rect x="1201" y="728" width="19" height="19" fill="#974784"/>
<rect x="1220" y="728" width="19" height="19" fill="#8B3E7E"/>
<rect x="1239" y="728" width="20" height="19" fill="#A04F8B"/>
<rect x="1259" y="728" width="19" height="19" fill="#954684"/>
<rect x="1278" y="728" width="19" height="19" fill="#893D7D"/>
<rect x="1297" y="728" width="39" height="19" fill="#883C7C"/>
<rect x="1336" y="728" width="19" height="19" fill="#873C7C"/>
<rect x="1355" y="728" width="19" height="19" fill="#7E3777"/>
<rect x="1374" y="728" width="20" height="19" fill="#873B7B"/>
<rect x="1394" y="728" width="58" height="19" fill="#883C7C"/>
<rect x="1452" y="728" width="19" height="19" fill="#BF6699"/>
<rect x="873" y="747" width="270" height="20" fill="#54239A"/>
<rect x="1143" y="747" width="19" height="20" fill="#8B3E7E"/>
<rect x="1162" y="747" width="20" height="20" fill="#A3518D"/>
<rect x="1182" y="747" width="19" height="20" fill="#AE5B92"/>
<rect x="1201" y="747" width="19" height="20" fill="#974785"/>
<rect x="1220" y="747" width="19" height="20" fill="#8B3E7E"/>
<rect x="1239" y="747" width="20" height="20" fill="#974784"/>
<rect x="1259" y="747" width="19" height="20" fill="#A14F8C"/>
<rect x="1278" y="747" width="19" height="20" fill="#8A3D7D"/>
<rect x="1297" y="747" width="39" height="20" fill="#883C7C"/>
<rect x="1336" y="747" width="19" height="20" fill="#873B7B"/>
<rect x="1355" y="747" width="19" height="20" fill="#7D3676"/>
<rect x="1374" y="747" width="20" height="20" fill="#7D3777"/>
<rect x="1394" y="747" width="19" height="20" fill="#873C7C"/>
<rect x="1413" y="747" width="19" height="20" fill="#883C7C"/>
<rect x="1432" y="747" width="20" height="20" fill="#873C7C"/>
<rect x="1452" y="747" width="19" height="20" fill="#BF6699"/>
<rect x="873" y="767" width="270" height="19" fill="#54239A"/>
<rect x="1143" y="767" width="19" height="19" fill="#8C3F7E"/>
<rect x="1162" y="767" width="20" height="19" fill="#984886"/>
<rect x="1182" y="767" width="19" height="19" fill="#A3528D"/>
<rect x="1201" y="767" width="19" height="19" fill="#974785"/>
<rect x="1220" y="767" width="19" height="19" fill="#954584"/>
<rect x="1239" y="767" width="20" height="19" fill="#964684"/>
<rect x="1259" y="767" width="19" height="19" fill="#A14F8C"/>
<rect x="1278" y="767" width="19" height="19" fill="#8B3E7E"/>
<rect x="1297" y="767" width="20" height="19" fill="#893D7C"/>
<rect x="1317" y="767" width="19" height="19" fill="#883C7C"/>
<rect x="1336" y="767" width="19" height="19" fill="#7D3777"/>
<rect x="1355" y="767" width="19" height="19" fill="#7C3676"/>
<rect x="1374" y="767" width="20" height="19" fill="#7D3777"/>
<rect x="1394" y="767" width="38" height="19" fill="#873C7C"/>
<rect x="1432" y="767" width="20" height="19" fill="#7E3777"/>
<rect x="1452" y="767" width="19" height="19" fill="#BF6699"/>
<rect x="873" y="786" width="231" height="19" fill="#54239A"/>
<rect x="1104" y="786" width="39" height="19" fill="#994986"/>
<rect x="1143" y="786" width="19" height="19" fill="#A4528D"/>
<rect x="1162" y="786" width="20" height="19" fill="#AE5B92"/>
<rect x="1182" y="786" width="19" height="19" fill="#A3518D"/>
<rect x="1201" y="786" width="19" height="19" fill="#A14F8C"/>
<rect x="1220" y="786" width="19" height="19" fill="#8B3E7E"/>
<rect x="1239" y="786" width="20" height="19" fill="#954584"/>
<rect x="1259" y="786" width="19" height="19" fill="#964684"/>
<rect x="1278" y="786" width="19" height="19" fill="#954583"/>
<rect x="1297" y="786" width="20" height="19" fill="#934482"/>
<rect x="1317" y="786" width="19" height="19" fill="#883C7C"/>
<rect x="1336" y="786" width="38" height="19" fill="#7D3676"/>
<rect x="1374" y="786" width="20" height="19" fill="#873B7B"/>
<rect x="1394" y="786" width="19" height="19" fill="#883C7C"/>
<rect x="1413" y="786" width="19" height="19" fill="#873C7C"/>
<rect x="1432" y="786" width="20" height="19" fill="#7D3777"/>
<rect x="1452" y="786" width="19" height="19" fill="#BF6699"/>
<rect x="873" y="805" width="212" height="19" fill="#54239A"/>
<rect x="1085" y="805" width="19" height="19" fill="#A4528E"/>
<rect x="1104" y="805" width="20" height="19" fill="#AF5C92"/>
<rect x="1124" y="805" width="19" height="19" fill="#B05C93"/>
<rect x="1143" y="805" width="19" height="19" fill="#B56194"/>
<rect x="1162" y="805" width="20" height="19" fill="#A3518D"/>
<rect x="1182" y="805" width="19" height="19" fill="#964684"/>
<rect x="1201" y="805" width="19" height="19" fill="#8B3E7E"/>
<rect x="1220" y="805" width="19" height="19" fill="#944483"/>
<rect x="1239" y="805" width="20" height="19" fill="#8A3D7D"/>
<rect x="1259" y="805" width="19" height="19" fill="#944483"/>
<rect x="1278" y="805" width="19" height="19" fill="#893D7D"/>
<rect x="1297" y="805" width="20" height="19" fill="#883C7C"/>
<rect x="1317" y="805" width="19" height="19" fill="#873B7B"/>
<rect x="1336" y="805" width="38" height="19" fill="#7D3676"/>
<rect x="1374" y="805" width="20" height="19" fill="#873C7C"/>
<rect x="1394" y="805" width="19" height="19" fill="#883C7C"/>
<rect x="1413" y="805" width="19" height="19" fill="#873C7C"/>
<rect x="1432" y="805" width="20" height="19" fill="#7E3777"/>
<rect x="1452" y="805" width="19" height="19" fill="#BF6699"/>
<rect x="873" y="824" width="212" height="20" fill="#54239A"/>
<rect x="1085" y="824" width="19" height="20" fill="#9A4A87"/>
<rect x="1104" y="824" width="20" height="20" fill="#B05D93"/>
<rect x="1124" y="824" width="19" height="20" fill="#B15D93"/>
<rect x="1143" y="824" width="19" height="20" fill="#9A4A86"/>
<rect x="1162" y="824" width="20" height="20" fill="#8C3F7E"/>
<rect x="1182" y="824" width="19" height="20" fill="#893D7D"/>
<rect x="1201" y="824" width="38" height="20" fill="#883C7C"/>
<rect x="1239" y="824" width="20" height="20" fill="#893C7C"/>
<rect x="1259" y="824" width="19" height="20" fill="#893D7D"/>
<rect x="1278" y="824" width="19" height="20" fill="#893D7C"/>
<rect x="1297" y="824" width="20" height="20" fill="#7E3777"/>
<rect x="1317" y="824" width="19" height="20" fill="#7D3676"/>
<rect x="1336" y="824" width="19" height="20" fill="#7C3676"/>
<rect x="1355" y="824" width="19" height="20" fill="#7D3676"/>
<rect x="1374" y="824" width="20" height="20" fill="#873C7C"/>
<rect x="1394" y="824" width="38" height="20" fill="#883C7C"/>
<rect x="1432" y="824" width="20" height="20" fill="#873C7C"/>
<rect x="1452" y="824" width="19" height="20" fill="#BF6699"/>
<rect x="873" y="844" width="212" height="19" fill="#54239A"/>
<rect x="1085" y="844" width="19" height="19" fill="#A4528E"/>
<rect x="1104" y="844" width="20" height="19" fill="#B05C93"/>
<rect x="1124" y="844" width="19" height="19" fill="#B15D93"/>
<rect x="1143" y="844" width="19" height="19" fill="#AF5B92"/>
<rect x="1162" y="844" width="20" height="19" fill="#984885"/>
<rect x="1182" y="844" width="19" height="19" fill="#8A3E7D"/>
<rect x="1201" y="844" width="19" height="19" fill="#7F3777"/>
<rect x="1220" y="844" width="19" height="19" fill="#7E3777"/>
<rect x="1239" y="844" width="20" height="19" fill="#893D7D"/>
<rect x="1259" y="844" width="19" height="19" fill="#954583"/>
<rect x="1278" y="844" width="19" height="19" fill="#944583"/>
<rect x="1297" y="844" width="20" height="19" fill="#883C7C"/>
<rect x="1317" y="844" width="19" height="19" fill="#7D3777"/>
<rect x="1336" y="844" width="19" height="19" fill="#7C3676"/>
<rect x="1355" y="844" width="19" height="19" fill="#7D3676"/>
<rect x="1374" y="844" width="20" height="19" fill="#873C7C"/>
<rect x="1394" y="844" width="58" height="19" fill="#883C7C"/>
<rect x="1452" y="844" width="19" height="19" fill="#BF6699"/>
<rect x="873" y="863" width="231" height="19" fill="#54239A"/>
<rect x="1104" y="863" width="20" height="19" fill="#A5538F"/>
<rect x="1124" y="863" width="19" height="19" fill="#A6548F"/>
<rect x="1143" y="863" width="19" height="19" fill="#B05D93"/>
<rect x="1162" y="863" width="20" height="19" fill="#AF5C93"/>
<rect x="1182" y="863" width="19" height="19" fill="#A2508C"/>
<rect x="1201" y="863" width="19" height="19" fill="#893D7D"/>
<rect x="1220" y="863" width="19" height="19" fill="#7F3878"/>
<rect x="1239" y="863" width="20" height="19" fill="#954583"/>
<rect x="1259" y="863" width="19" height="19" fill="#A1508C"/>
<rect x="1278" y="863" width="19" height="19" fill="#974785"/>
<rect x="1297" y="863" width="20" height="19" fill="#944583"/>
<rect x="1317" y="863" width="19" height="19" fill="#873C7C"/>
<rect x="1336" y="863" width="38" height="19" fill="#7D3676"/>
<rect x="1374" y="863" width="20" height="19" fill="#873C7C"/>
<rect x="1394" y="863" width="38" height="19" fill="#883C7C"/>
<rect x="1432" y="863" width="20" height="19" fill="#873C7C"/>
<rect x="1452" y="863" width="19" height="19" fill="#BF6699"/>
<rect x="873" y="882" width="270" height="20" fill="#54239A"/>
<rect x="1143" y="882" width="19" height="20" fill="#A5538E"/>
<rect x="1162" y="882" width="20" height="20" fill="#B05C93"/>
<rect x="1182" y="882" width="19" height="20" fill="#AF5C92"/>
<rect x="1201" y="882" width="19" height="20" fill="#974784"/>
<rect x="1220" y="882" width="19" height="20" fill="#8A3D7D"/>
<rect x="1239" y="882" width="20" height="20" fill="#964684"/>
<rect x="1259" y="882" width="38" height="20" fill="#A2508D"/>
<rect x="1297" y="882" width="20" height="20" fill="#964684"/>
<rect x="1317" y="882" width="19" height="20" fill="#883C7C"/>
<rect x="1336" y="882" width="38" height="20" fill="#7D3676"/>
<rect x="1374" y="882" width="20" height="20" fill="#873C7C"/>
<rect x="1394" y="882" width="19" height="20" fill="#893C7C"/>
<rect x="1413" y="882" width="19" height="20" fill="#883C7C"/>
<rect x="1432" y="882" width="20" height="20" fill="#7E3777"/>
<rect x="1452" y="882" width="19" height="20" fill="#BF6699"/>
<rect x="873" y="902" width="251" height="19" fill="#54239A"/>
<rect x="1124" y="902" width="19" height="19" fill="#964684"/>
<rect x="1143" y="902" width="19" height="19" fill="#984885"/>
<rect x="1162" y="902" width="20" height="19" fill="#A5538E"/>
<rect x="1182" y="902" width="19" height="19" fill="#B05C93"/>
<rect x="1201" y="902" width="19" height="19" fill="#A2508C"/>
<rect x="1220" y="902" width="19" height="19" fill="#8B3E7E"/>
<rect x="1239" y="902" width="20" height="19" fill="#954584"/>
<rect x="1259" y="902" width="19" height="19" fill="#984785"/>
<rect x="1278" y="902" width="19" height="19" fill="#A2518D"/>
<rect x="1297" y="902" width="20" height="19" fill="#974785"/>
<rect x="1317" y="902" width="19" height="19" fill="#883D7C"/>
<rect x="1336" y="902" width="38" height="19" fill="#7D3676"/>
<rect x="1374" y="902" width="20" height="19" fill="#883C7C"/>
<rect x="1394" y="902" width="19" height="19" fill="#934482"/>
<rect x="1413" y="902" width="19" height="19" fill="#883C7C"/>
<rect x="1432" y="902" width="20" height="19" fill="#7E3777"/>
<rect x="1452" y="902" width="19" height="19" fill="#BF6699"/>
<rect x="873" y="921" width="251" height="19" fill="#54239A"/>
<rect x="1124" y="921" width="19" height="19" fill="#974785"/>
<rect x="1143" y="921" width="19" height="19" fill="#994986"/>
<rect x="1162" y="921" width="20" height="19" fill="#B05C93"/>
<rect x="1182" y="921" width="19" height="19" fill="#AF5C92"/>
<rect x="1201" y="921" width="19" height="19" fill="#974785"/>
<rect x="1220" y="921" width="19" height="19" fill="#8A3E7D"/>
<rect x="1239" y="921" width="20" height="19" fill="#954584"/>
<rect x="1259" y="921" width="19" height="19" fill="#984785"/>
<rect x="1278" y="921" width="19" height="19" fill="#A3518D"/>
<rect x="1297" y="921" width="20" height="19" fill="#A14F8C"/>
<rect x="1317" y="921" width="19" height="19" fill="#893D7D"/>
<rect x="1336" y="921" width="38" height="19" fill="#7D3676"/>
<rect x="1374" y="921" width="20" height="19" fill="#873C7C"/>
<rect x="1394" y="921" width="19" height="19" fill="#893D7D"/>
<rect x="1413" y="921" width="19" height="19" fill="#934482"/>
<rect x="1432" y="921" width="20" height="19" fill="#883C7C"/>
<rect x="1452" y="921" width="19" height="19" fill="#BF6699"/>
<rect x="873" y="940" width="231" height="19" fill="#54239A"/>
<rect x="1104" y="940" width="20" height="19" fill="#994886"/>
<rect x="1124" y="940" width="19" height="19" fill="#A4528E"/>
<rect x="1143" y="940" width="39" height="19" fill="#B05C93"/>
<rect x="1182" y="940" width="19" height="19" fill="#A3518D"/>
<rect x="1201" y="940" width="19" height="19" fill="#8A3E7D"/>
<rect x="1220" y="940" width="19" height="19" fill="#883C7C"/>
<rect x="1239" y="940" width="20" height="19" fill="#954583"/>
<rect x="1259" y="940" width="19" height="19" fill="#A2508C"/>
<rect x="1278" y="940" width="19" height="19" fill="#A3518D"/>
<rect x="1297" y="940" width="20" height="19" fill="#974785"/>
<rect x="1317" y="940" width="19" height="19" fill="#883D7C"/>
<rect x="1336" y="940" width="38" height="19" fill="#7D3676"/>
<rect x="1374" y="940" width="20" height="19" fill="#873C7C"/>
<rect x="1394" y="940" width="19" height="19" fill="#883C7C"/>
<rect x="1413" y="940" width="19" height="19" fill="#893C7C"/>
<rect x="1432" y="940" width="20" height="19" fill="#883C7C"/>
<rect x="1452" y="940" width="19" height="19" fill="#BF6699"/>
<rect x="873" y="959" width="231" height="20" fill="#54239A"/>
<rect x="1104" y="959" width="20" height="20" fill="#A4528E"/>
<rect x="1124" y="959" width="19" height="20" fill="#B05C93"/>
<rect x="1143" y="959" width="19" height="20" fill="#B15D94"/>
<rect x="1162" y="959" width="20" height="20" fill="#A5538E"/>
<rect x="1182" y="959" width="19" height="20" fill="#974785"/>
<rect x="1201" y="959" width="19" height="20" fill="#803878"/>
<rect x="1220" y="959" width="19" height="20" fill="#7F3777"/>
<rect x="1239" y="959" width="20" height="20" fill="#893D7D"/>
<rect x="1259" y="959" width="19" height="20" fill="#964684"/>
<rect x="1278" y="959" width="19" height="20" fill="#A2508D"/>
<rect x="1297" y="959" width="20" height="20" fill="#974785"/>
<rect x="1317" y="959" width="19" height="20" fill="#893D7D"/>
<rect x="1336" y="959" width="19" height="20" fill="#7E3777"/>
<rect x="1355" y="959" width="19" height="20" fill="#7D3676"/>
<rect x="1374" y="959" width="20" height="20" fill="#873B7B"/>
<rect x="1394" y="959" width="58" height="20" fill="#883C7C"/>
<rect x="1452" y="959" width="19" height="20" fill="#BF6699"/>
<rect x="873" y="979" width="231" height="19" fill="#54239A"/>
<rect x="1104" y="979" width="20" height="19" fill="#A5538F"/>
<rect x="1124" y="979" width="38" height="19" fill="#B15D94"/>
<rect x="1162" y="979" width="20" height="19" fill="#A5538E"/>
<rect x="1182" y="979" width="19" height="19" fill="#A1508C"/>
<rect x="1201" y="979" width="19" height="19" fill="#893D7D"/>
<rect x="1220" y="979" width="39" height="19" fill="#883C7C"/>
<rect x="1259" y="979" width="19" height="19" fill="#813979"/>
<rect x="1278" y="979" width="19" height="19" fill="#A1508C"/>
<rect x="1297" y="979" width="20" height="19" fill="#A2508D"/>
<rect x="1317" y="979" width="19" height="19" fill="#954584"/>
<rect x="1336" y="979" width="19" height="19" fill="#873C7C"/>
<rect x="1355" y="979" width="19" height="19" fill="#7D3676"/>
<rect x="1374" y="979" width="20" height="19" fill="#7D3777"/>
<rect x="1394" y="979" width="19" height="19" fill="#873C7C"/>
<rect x="1413" y="979" width="39" height="19" fill="#883C7C"/>
<rect x="1452" y="979" width="19" height="19" fill="#BF6699"/>
<rect x="873" y="998" width="231" height="19" fill="#54239A"/>
<rect x="1104" y="998" width="20" height="19" fill="#A4528E"/>
<rect x="1124" y="998" width="19" height="19" fill="#B05D93"/>
<rect x="1143" y="998" width="19" height="19" fill="#B76395"/>
<rect x="1162" y="998" width="20" height="19" fill="#A5538F"/>
<rect x="1182" y="998" width="19" height="19" fill="#A2518D"/>
<rect x="1201" y="998" width="19" height="19" fill="#8B3E7E"/>
<rect x="1220" y="998" width="19" height="19" fill="#944483"/>
<rect x="1239" y="998" width="20" height="19" fill="#934483"/>
<rect x="1259" y="998" width="19" height="19" fill="#8A3E7D"/>
<rect x="1278" y="998" width="19" height="19" fill="#964684"/>
<rect x="1297" y="998" width="20" height="19" fill="#A2508C"/>
<rect x="1317" y="998" width="19" height="19" fill="#964684"/>
<rect x="1336" y="998" width="19" height="19" fill="#883C7C"/>
<rect x="1355" y="998" width="39" height="19" fill="#7D3676"/>
<rect x="1394" y="998" width="19" height="19" fill="#863B7B"/>
<rect x="1413" y="998" width="19" height="19" fill="#873C7C"/>
<rect x="1432" y="998" width="20" height="19" fill="#883C7C"/>
<rect x="1452" y="998" width="19" height="19" fill="#BF6699"/>
<rect x="873" y="1017" width="231" height="20" fill="#54239A"/>
<rect x="1104" y="1017" width="20" height="20" fill="#8D407F"/>
<rect x="1124" y="1017" width="19" height="20" fill="#A4528E"/>
<rect x="1143" y="1017" width="19" height="20" fill="#B05C93"/>
<rect x="1162" y="1017" width="20" height="20" fill="#A5538E"/>
<rect x="1182" y="1017" width="19" height="20" fill="#A3518D"/>
<rect x="1201" y="1017" width="19" height="20" fill="#964684"/>
<rect x="1220" y="1017" width="39" height="20" fill="#893D7D"/>
<rect x="1259" y="1017" width="19" height="20" fill="#944483"/>
<rect x="1278" y="1017" width="19" height="20" fill="#954583"/>
<rect x="1297" y="1017" width="20" height="20" fill="#954684"/>
<rect x="1317" y="1017" width="19" height="20" fill="#944583"/>
<rect x="1336" y="1017" width="19" height="20" fill="#883C7C"/>
<rect x="1355" y="1017" width="19" height="20" fill="#7E3777"/>
<rect x="1374" y="1017" width="20" height="20" fill="#7D3777"/>
<rect x="1394" y="1017" width="38" height="20" fill="#7E3777"/>
<rect x="1432" y="1017" width="20" height="20" fill="#873C7C"/>
<rect x="1452" y="1017" width="19" height="20" fill="#BF6699"/>
<rect x="873" y="1037" width="251" height="19" fill="#54239A"/>
<rect x="1124" y="1037" width="19" height="19" fill="#994986"/>
<rect x="1143" y="1037" width="39" height="19" fill="#A5538E"/>
<rect x="1182" y="1037" width="19" height="19" fill="#A3518D"/>
<rect x="1201" y="1037" width="19" height="19" fill="#964684"/>
<rect x="1220" y="1037" width="19" height="19" fill="#893D7D"/>
<rect x="1239" y="1037" width="20" height="19" fill="#7F3777"/>
<rect x="1259" y="1037" width="19" height="19" fill="#883C7C"/>
<rect x="1278" y="1037" width="19" height="19" fill="#893D7C"/>
<rect x="1297" y="1037" width="39" height="19" fill="#893D7D"/>
<rect x="1336" y="1037" width="19" height="19" fill="#883C7C"/>
<rect x="1355" y="1037" width="77" height="19" fill="#873C7C"/>
<rect x="1432" y="1037" width="20" height="19" fill="#883C7C"/>
<rect x="1452" y="1037" width="19" height="19" fill="#BF6699"/>
<rect x="873" y="1056" width="251" height="19" fill="#54239A"/>
<rect x="1124" y="1056" width="19" height="19" fill="#A4528E"/>
<rect x="1143" y="1056" width="39" height="19" fill="#B05C93"/>
<rect x="1182" y="1056" width="19" height="19" fill="#A3528D"/>
<rect x="1201" y="1056" width="19" height="19" fill="#974785"/>
<rect x="1220" y="1056" width="19" height="19" fill="#944583"/>
<rect x="1239" y="1056" width="20" height="19" fill="#7E3777"/>
<rect x="1259" y="1056" width="19" height="19" fill="#7D3777"/>
<rect x="1278" y="1056" width="19" height="19" fill="#873B7B"/>
<rect x="1297" y="1056" width="20" height="19" fill="#883C7C"/>
<rect x="1317" y="1056" width="19" height="19" fill="#934482"/>
<rect x="1336" y="1056" width="19" height="19" fill="#893C7C"/>
<rect x="1355" y="1056" width="97" height="19" fill="#883C7C"/>
<rect x="1452" y="1056" width="19" height="19" fill="#BF6699"/>
<rect x="873" y="1075" width="231" height="19" fill="#54239A"/>
<rect x="1104" y="1075" width="20" height="19" fill="#964684"/>
<rect x="1124" y="1075" width="19" height="19" fill="#A3528D"/>
<rect x="1143" y="1075" width="19" height="19" fill="#B05C93"/>
<rect x="1162" y="1075" width="20" height="19" fill="#A6548F"/>
<rect x="1182" y="1075" width="19" height="19" fill="#A3528D"/>
<rect x="1201" y="1075" width="19" height="19" fill="#974785"/>
<rect x="1220" y="1075" width="19" height="19" fill="#944583"/>
<rect x="1239" y="1075" width="20" height="19" fill="#873C7C"/>
<rect x="1259" y="1075" width="19" height="19" fill="#7D3777"/>
<rect x="1278" y="1075" width="19" height="19" fill="#7E3777"/>
<rect x="1297" y="1075" width="20" height="19" fill="#883C7C"/>
<rect x="1317" y="1075" width="19" height="19" fill="#893C7C"/>
<rect x="1336" y="1075" width="116" height="19" fill="#883C7C"/>
<rect x="1452" y="1075" width="19" height="19" fill="#BF6699"/>
<rect x="873" y="1094" width="231" height="20" fill="#54239A"/>
<rect x="1104" y="1094" width="20" height="20" fill="#8C3F7E"/>
<rect x="1124" y="1094" width="19" height="20" fill="#984886"/>
<rect x="1143" y="1094" width="39" height="20" fill="#AF5C93"/>
<rect x="1182" y="1094" width="19" height="20" fill="#A3518D"/>
<rect x="1201" y="1094" width="19" height="20" fill="#964684"/>
<rect x="1220" y="1094" width="19" height="20" fill="#8A3D7D"/>
<rect x="1239" y="1094" width="20" height="20" fill="#883C7C"/>
<rect x="1259" y="1094" width="19" height="20" fill="#7E3777"/>
<rect x="1278" y="1094" width="19" height="20" fill="#873B7B"/>
<rect x="1297" y="1094" width="155" height="20" fill="#883C7C"/>
<rect x="1452" y="1094" width="19" height="20" fill="#BF6699"/>
<rect x="873" y="1114" width="19" height="19" fill="#54239A"/>
<rect x="892" y="1114" width="20" height="19" fill="#974785"/>
<rect x="912" y="1114" width="19" height="19" fill="#54239A"/>
<rect x="931" y="1114" width="19" height="19" fill="#8C3F7F"/>
<rect x="950" y="1114" width="154" height="19" fill="#54239A"/>
<rect x="1104" y="1114" width="20" height="19" fill="#964684"/>
<rect x="1124" y="1114" width="19" height="19" fill="#A2508D"/>
<rect x="1143" y="1114" width="19" height="19" fill="#A4528E"/>
<rect x="1162" y="1114" width="20" height="19" fill="#A3518D"/>
<rect x="1182" y="1114" width="19" height="19" fill="#964684"/>
<rect x="1201" y="1114" width="19" height="19" fill="#8A3E7D"/>
<rect x="1220" y="1114" width="19" height="19" fill="#934482"/>
<rect x="1239" y="1114" width="20" height="19" fill="#883C7C"/>
<rect x="1259" y="1114" width="19" height="19" fill="#7E3777"/>
<rect x="1278" y="1114" width="19" height="19" fill="#873C7C"/>
<rect x="1297" y="1114" width="155" height="19" fill="#883C7C"/>
<rect x="1452" y="1114" width="19" height="19" fill="#BF6699"/>
<rect x="873" y="1133" width="19" height="19" fill="#964684"/>
<rect x="892" y="1133" width="20" height="19" fill="#994886"/>
<rect x="912" y="1133" width="19" height="19" fill="#AE5B92"/>
<rect x="931" y="1133" width="19" height="19" fill="#A3518D"/>
<rect x="950" y="1133" width="154" height="19" fill="#54239A"/>
<rect x="1104" y="1133" width="20" height="19" fill="#984886"/>
<rect x="1124" y="1133" width="19" height="19" fill="#A3518D"/>
<rect x="1143" y="1133" width="19" height="19" fill="#984885"/>
<rect x="1162" y="1133" width="20" height="19" fill="#964684"/>
<rect x="1182" y="1133" width="19" height="19" fill="#8B3E7E"/>
<rect x="1201" y="1133" width="19" height="19" fill="#8A3E7D"/>
<rect x="1220" y="1133" width="19" height="19" fill="#8A3D7D"/>
<rect x="1239" y="1133" width="20" height="19" fill="#883C7C"/>
<rect x="1259" y="1133" width="19" height="19" fill="#7E3777"/>
<rect x="1278" y="1133" width="19" height="19" fill="#873C7C"/>
<rect x="1297" y="1133" width="39" height="19" fill="#883C7C"/>
<rect x="1336" y="1133" width="19" height="19" fill="#873C7C"/>
<rect x="1355" y="1133" width="19" height="19" fill="#873B7B"/>
<rect x="1374" y="1133" width="20" height="19" fill="#7E3777"/>
<rect x="1394" y="1133" width="19" height="19" fill="#873C7C"/>
<rect x="1413" y="1133" width="39" height="19" fill="#883C7C"/>
<rect x="1452" y="1133" width="19" height="19" fill="#BF6699"/>
<rect x="873" y="1152" width="19" height="20" fill="#984885"/>
<rect x="892" y="1152" width="20" height="20" fill="#A5538E"/>
<rect x="912" y="1152" width="19" height="20" fill="#B66295"/>
<rect x="931" y="1152" width="19" height="20" fill="#A3528D"/>
<rect x="950" y="1152" width="19" height="20" fill="#823A79"/>
<rect x="969" y="1152" width="135" height="20" fill="#54239A"/>
<rect x="1104" y="1152" width="20" height="20" fill="#A4528E"/>
<rect x="1124" y="1152" width="19" height="20" fill="#AD5A92"/>
<rect x="1143" y="1152" width="19" height="20" fill="#974785"/>
<rect x="1162" y="1152" width="20" height="20" fill="#964684"/>
<rect x="1182" y="1152" width="19" height="20" fill="#974784"/>
<rect x="1201" y="1152" width="19" height="20" fill="#A14F8C"/>
<rect x="1220" y="1152" width="19" height="20" fill="#954584"/>
<rect x="1239" y="1152" width="20" height="20" fill="#883C7C"/>
<rect x="1259" y="1152" width="19" height="20" fill="#7E3777"/>
<rect x="1278" y="1152" width="19" height="20" fill="#873C7C"/>
<rect x="1297" y="1152" width="20" height="20" fill="#883C7C"/>
<rect x="1317" y="1152" width="19" height="20" fill="#873C7C"/>
<rect x="1336" y="1152" width="19" height="20" fill="#7E3777"/>
<rect x="1355" y="1152" width="39" height="20" fill="#7D3676"/>
<rect x="1394" y="1152" width="19" height="20" fill="#863B7B"/>
<rect x="1413" y="1152" width="39" height="20" fill="#873C7C"/>
<rect x="1452" y="1152" width="19" height="20" fill="#BF6699"/>
<rect x="873" y="1172" width="19" height="19" fill="#A4528E"/>
<rect x="892" y="1172" width="20" height="19" fill="#B05D93"/>
<rect x="912" y="1172" width="19" height="19" fill="#B15D94"/>
<rect x="931" y="1172" width="19" height="19" fill="#A3518D"/>
<rect x="950" y="1172" width="19" height="19" fill="#8B3E7E"/>
<rect x="969" y="1172" width="135" height="19" fill="#54239A"/>
<rect x="1104" y="1172" width="20" height="19" fill="#A4528E"/>
<rect x="1124" y="1172" width="19" height="19" fill="#A3518D"/>
<rect x="1143" y="1172" width="19" height="19" fill="#8D407F"/>
<rect x="1162" y="1172" width="20" height="19" fill="#974785"/>
<rect x="1182" y="1172" width="19" height="19" fill="#A2518D"/>
<rect x="1201" y="1172" width="19" height="19" fill="#A2508D"/>
<rect x="1220" y="1172" width="19" height="19" fill="#964684"/>
<rect x="1239" y="1172" width="20" height="19" fill="#893D7C"/>
<rect x="1259" y="1172" width="19" height="19" fill="#7E3777"/>
<rect x="1278" y="1172" width="19" height="19" fill="#873C7C"/>
<rect x="1297" y="1172" width="20" height="19" fill="#883C7C"/>
<rect x="1317" y="1172" width="19" height="19" fill="#873C7C"/>
<rect x="1336" y="1172" width="19" height="19" fill="#7D3676"/>
<rect x="1355" y="1172" width="39" height="19" fill="#7C3676"/>
<rect x="1394" y="1172" width="58" height="19" fill="#7D3676"/>
<rect x="1452" y="1172" width="19" height="19" fill="#BF6699"/>
<rect x="873" y="1191" width="19" height="19" fill="#A5538F"/>
<rect x="892" y="1191" width="20" height="19" fill="#B15D93"/>
<rect x="912" y="1191" width="19" height="19" fill="#B05D93"/>
<rect x="931" y="1191" width="19" height="19" fill="#A4528E"/>
<rect x="950" y="1191" width="19" height="19" fill="#984785"/>
<rect x="969" y="1191" width="135" height="19" fill="#54239A"/>
<rect x="1104" y="1191" width="20" height="19" fill="#994886"/>
<rect x="1124" y="1191" width="19" height="19" fill="#A2508D"/>
<rect x="1143" y="1191" width="19" height="19" fill="#974785"/>
<rect x="1162" y="1191" width="20" height="19" fill="#A2508D"/>
<rect x="1182" y="1191" width="19" height="19" fill="#A3518D"/>
<rect x="1201" y="1191" width="19" height="19" fill="#974785"/>
<rect x="1220" y="1191" width="19" height="19" fill="#954684"/>
<rect x="1239" y="1191" width="20" height="19" fill="#934482"/>
<rect x="1259" y="1191" width="19" height="19" fill="#7E3777"/>
<rect x="1278" y="1191" width="19" height="19" fill="#873C7C"/>
<rect x="1297" y="1191" width="20" height="19" fill="#883C7C"/>
<rect x="1317" y="1191" width="19" height="19" fill="#873C7C"/>
<rect x="1336" y="1191" width="19" height="19" fill="#7D3676"/>
<rect x="1355" y="1191" width="97" height="19" fill="#7C3676"/>
<rect x="1452" y="1191" width="19" height="19" fill="#BF6699"/>
<rect x="873" y="1210" width="19" height="19" fill="#A4528E"/>
<rect x="892" y="1210" width="20" height="19" fill="#AF5B92"/>
<rect x="912" y="1210" width="19" height="19" fill="#A4528E"/>
<rect x="931" y="1210" width="38" height="19" fill="#A3528E"/>
<rect x="969" y="1210" width="20" height="19" fill="#A2518D"/>
<rect x="989" y="1210" width="19" height="19" fill="#8D407F"/>
<rect x="1008" y="1210" width="96" height="19" fill="#54239A"/>
<rect x="1104" y="1210" width="39" height="19" fill="#A3518D"/>
<rect x="1143" y="1210" width="19" height="19" fill="#984785"/>
<rect x="1162" y="1210" width="20" height="19" fill="#A1508C"/>
<rect x="1182" y="1210" width="19" height="19" fill="#A04F8B"/>
<rect x="1201" y="1210" width="19" height="19" fill="#8A3E7D"/>
<rect x="1220" y="1210" width="19" height="19" fill="#944483"/>
<rect x="1239" y="1210" width="20" height="19" fill="#893D7C"/>
<rect x="1259" y="1210" width="19" height="19" fill="#7F3777"/>
<rect x="1278" y="1210" width="19" height="19" fill="#873C7C"/>
<rect x="1297" y="1210" width="20" height="19" fill="#883C7C"/>
<rect x="1317" y="1210" width="19" height="19" fill="#873C7C"/>
<rect x="1336" y="1210" width="19" height="19" fill="#7E3777"/>
<rect x="1355" y="1210" width="39" height="19" fill="#7D3676"/>
<rect x="1394" y="1210" width="58" height="19" fill="#7C3676"/>
<rect x="1452" y="1210" width="19" height="19" fill="#BF6699"/>
<rect x="873" y="1229" width="19" height="20" fill="#994886"/>
<rect x="892" y="1229" width="20" height="20" fill="#A3518D"/>
<rect x="912" y="1229" width="19" height="20" fill="#8E4180"/>
<rect x="931" y="1229" width="19" height="20" fill="#A3518D"/>
<rect x="950" y="1229" width="19" height="20" fill="#A4528E"/>
<rect x="969" y="1229" width="20" height="20" fill="#A3518E"/>
<rect x="989" y="1229" width="19" height="20" fill="#A2518D"/>
<rect x="1008" y="1229" width="77" height="20" fill="#54239A"/>
<rect x="1085" y="1229" width="19" height="20" fill="#8C3F7E"/>
<rect x="1104" y="1229" width="20" height="20" fill="#A2518D"/>
<rect x="1124" y="1229" width="19" height="20" fill="#A3518D"/>
<rect x="1143" y="1229" width="19" height="20" fill="#974785"/>
<rect x="1162" y="1229" width="20" height="20" fill="#8B3E7E"/>
<rect x="1182" y="1229" width="19" height="20" fill="#803978"/>
<rect x="1201" y="1229" width="19" height="20" fill="#7F3878"/>
<rect x="1220" y="1229" width="39" height="20" fill="#883C7C"/>
<rect x="1259" y="1229" width="19" height="20" fill="#873C7C"/>
<rect x="1278" y="1229" width="58" height="20" fill="#883C7C"/>
<rect x="1336" y="1229" width="19" height="20" fill="#873C7C"/>
<rect x="1355" y="1229" width="19" height="20" fill="#873B7B"/>
<rect x="1374" y="1229" width="20" height="20" fill="#863B7B"/>
<rect x="1394" y="1229" width="19" height="20" fill="#7D3676"/>
<rect x="1413" y="1229" width="39" height="20" fill="#7C3676"/>
<rect x="1452" y="1229" width="19" height="20" fill="#BF6699"/>
<rect x="873" y="1249" width="598" height="19" fill="#BF6699"/>
</g>
<g id="legend">
<rect x="1481" y="671" width="270" height="158" rx="4" ry="4" fill="#ffffff" fill-opacity="0.8" stroke="#cccccc" stroke-width="1.6"/>
<rect x="1488.5" y="680.5" width="43.5" height="15.5" fill="#FF8C42"/>
<rect x="1488.5" y="711" width="43.5" height="15.5" fill="#CCFFFF"/>
<rect x="1488.5" y="741.5" width="43.5" height="15.5" fill="#0055FF"/>
<rect x="1488.5" y="778" width="44.5" height="2.9" fill="#000000"/>
<rect x="1489" y="802" width="42.5" height="15.5" fill="#993333" stroke="#8B1A1A" stroke-width="1.6"/>
<g font-family="'Liberation Sans', sans-serif" font-size="21px" fill="#000">
<text x="1548" y="695.8" textLength="48.5" lengthAdjust="spacingAndGlyphs">sand</text>
<text x="1548" y="726.2" textLength="116" lengthAdjust="spacingAndGlyphs">whitewater</text>
<text x="1548" y="756.6" textLength="58.5" lengthAdjust="spacingAndGlyphs">water</text>
<text x="1548" y="787" textLength="94" lengthAdjust="spacingAndGlyphs">shoreline</text>
<text x="1548" y="817.4" textLength="203" lengthAdjust="spacingAndGlyphs">reference shoreline</text>
</g>
</g>
<g shape-rendering="crispEdges">
<!-- panel 3: L8 -->
<rect x="1730" y="53" width="77" height="19" fill="#4A46FF"/>
<rect x="1807" y="53" width="232" height="19" fill="#711B99"/>
<rect x="2039" y="53" width="19" height="19" fill="#721C9A"/>
<rect x="2058" y="53" width="19" height="19" fill="#7B259F"/>
<rect x="2077" y="53" width="77" height="19" fill="#7C26A0"/>
<rect x="2154" y="53" width="20" height="19" fill="#7D27A0"/>
<rect x="2174" y="53" width="19" height="19" fill="#842E9E"/>
<rect x="2193" y="53" width="19" height="19" fill="#BA5A8E"/>
<rect x="2212" y="53" width="19" height="19" fill="#C34F79"/>
<rect x="2231" y="53" width="20" height="19" fill="#C34C74"/>
<rect x="2251" y="53" width="19" height="19" fill="#C13963"/>
<rect x="2270" y="53" width="19" height="19" fill="#C1365F"/>
<rect x="2289" y="53" width="20" height="19" fill="#C1325C"/>
<rect x="2309" y="53" width="19" height="19" fill="#BC6699"/>
<rect x="1730" y="72" width="77" height="20" fill="#4A46FF"/>
<rect x="1807" y="72" width="232" height="20" fill="#711B99"/>
<rect x="2039" y="72" width="19" height="20" fill="#721C9A"/>
<rect x="2058" y="72" width="19" height="20" fill="#7B259F"/>
<rect x="2077" y="72" width="58" height="20" fill="#7C26A0"/>
<rect x="2135" y="72" width="19" height="20" fill="#7D27A0"/>
<rect x="2154" y="72" width="20" height="20" fill="#802AA0"/>
<rect x="2174" y="72" width="19" height="20" fill="#8F3A9F"/>
<rect x="2193" y="72" width="19" height="20" fill="#B15899"/>
<rect x="2212" y="72" width="19" height="20" fill="#C15E89"/>
<rect x="2231" y="72" width="20" height="20" fill="#C25B85"/>
<rect x="2251" y="72" width="19" height="20" fill="#C25882"/>
<rect x="2270" y="72" width="19" height="20" fill="#C2547E"/>
<rect x="2289" y="72" width="20" height="20" fill="#C1345D"/>
<rect x="2309" y="72" width="19" height="20" fill="#BC6699"/>
<rect x="1730" y="92" width="58" height="19" fill="#4A46FF"/>
<rect x="1788" y="92" width="251" height="19" fill="#711B99"/>
<rect x="2039" y="92" width="19" height="19" fill="#721C9A"/>
<rect x="2058" y="92" width="19" height="19" fill="#7A249F"/>
<rect x="2077" y="92" width="58" height="19" fill="#7B259F"/>
<rect x="2135" y="92" width="19" height="19" fill="#7E289F"/>
<rect x="2154" y="92" width="20" height="19" fill="#9A44A0"/>
<rect x="2174" y="92" width="19" height="19" fill="#A24B9D"/>
<rect x="2193" y="92" width="19" height="19" fill="#BD5B8B"/>
<rect x="2212" y="92" width="19" height="19" fill="#C34C75"/>
<rect x="2231" y="92" width="20" height="19" fill="#C34870"/>
<rect x="2251" y="92" width="19" height="19" fill="#C1355F"/>
<rect x="2270" y="92" width="19" height="19" fill="#C1315B"/>
<rect x="2289" y="92" width="20" height="19" fill="#C12F59"/>
<rect x="2309" y="92" width="19" height="19" fill="#BC6699"/>
<rect x="1730" y="111" width="58" height="19" fill="#4A46FF"/>
<rect x="1788" y="111" width="270" height="19" fill="#711B99"/>
<rect x="2058" y="111" width="77" height="19" fill="#721C9A"/>
<rect x="2135" y="111" width="19" height="19" fill="#77219A"/>
<rect x="2154" y="111" width="20" height="19" fill="#9D479F"/>
<rect x="2174" y="111" width="19" height="19" fill="#B25899"/>
<rect x="2193" y="111" width="19" height="19" fill="#C14A75"/>
<rect x="2212" y="111" width="19" height="19" fill="#C1345E"/>
<rect x="2231" y="111" width="20" height="19" fill="#C12F59"/>
<rect x="2251" y="111" width="19" height="19" fill="#BE1C4A"/>
<rect x="2270" y="111" width="39" height="19" fill="#BD1948"/>
<rect x="2309" y="111" width="19" height="19" fill="#BC6699"/>
<rect x="1730" y="130" width="39" height="19" fill="#4A46FF"/>
<rect x="1769" y="130" width="366" height="19" fill="#711B99"/>
<rect x="2135" y="130" width="19" height="19" fill="#77219A"/>
<rect x="2154" y="130" width="20" height="19" fill="#9F489D"/>
<rect x="2174" y="130" width="19" height="19" fill="#BE5C8C"/>
<rect x="2193" y="130" width="19" height="19" fill="#C24670"/>
<rect x="2212" y="130" width="19" height="19" fill="#BE1F4D"/>
<rect x="2231" y="130" width="20" height="19" fill="#C02954"/>
<rect x="2251" y="130" width="19" height="19" fill="#BD1848"/>
<rect x="2270" y="130" width="39" height="19" fill="#BD1646"/>
<rect x="2309" y="130" width="19" height="19" fill="#BC6699"/>
<rect x="1730" y="149" width="19" height="20" fill="#4A46FF"/>
<rect x="1749" y="149" width="347" height="20" fill="#711B99"/>
<rect x="2096" y="149" width="20" height="20" fill="#721C99"/>
<rect x="2116" y="149" width="19" height="20" fill="#731D9A"/>
<rect x="2135" y="149" width="19" height="20" fill="#7A249A"/>
<rect x="2154" y="149" width="20" height="20" fill="#AD5499"/>
<rect x="2174" y="149" width="19" height="20" fill="#C05986"/>
<rect x="2193" y="149" width="19" height="20" fill="#C1335D"/>
<rect x="2212" y="149" width="19" height="20" fill="#BE1C4A"/>
<rect x="2231" y="149" width="20" height="20" fill="#BD1848"/>
<rect x="2251" y="149" width="19" height="20" fill="#BD1747"/>
<rect x="2270" y="149" width="39" height="20" fill="#BD1646"/>
<rect x="2309" y="149" width="19" height="20" fill="#BC6699"/>
<rect x="1730" y="169" width="19" height="19" fill="#4A46FF"/>
<rect x="1749" y="169" width="347" height="19" fill="#711B99"/>
<rect x="2096" y="169" width="20" height="19" fill="#731D9A"/>
<rect x="2116" y="169" width="19" height="19" fill="#86319F"/>
<rect x="2135" y="169" width="19" height="19" fill="#8F3A9E"/>
<rect x="2154" y="169" width="20" height="19" fill="#BB588B"/>
<rect x="2174" y="169" width="19" height="19" fill="#C13862"/>
<rect x="2193" y="169" width="19" height="19" fill="#C13059"/>
<rect x="2212" y="169" width="19" height="19" fill="#C02A55"/>
<rect x="2231" y="169" width="20" height="19" fill="#BD1747"/>
<rect x="2251" y="169" width="58" height="19" fill="#BD1646"/>
<rect x="2309" y="169" width="19" height="19" fill="#BC6699"/>
<rect x="1730" y="188" width="366" height="19" fill="#711B99"/>
<rect x="2096" y="188" width="20" height="19" fill="#741E9A"/>
<rect x="2116" y="188" width="19" height="19" fill="#89359F"/>
<rect x="2135" y="188" width="19" height="19" fill="#A0499D"/>
<rect x="2154" y="188" width="20" height="19" fill="#BE5887"/>
<rect x="2174" y="188" width="19" height="19" fill="#C1355E"/>
<rect x="2193" y="188" width="19" height="19" fill="#C12E57"/>
<rect x="2212" y="188" width="19" height="19" fill="#BE1A49"/>
<rect x="2231" y="188" width="20" height="19" fill="#BD1747"/>
<rect x="2251" y="188" width="58" height="19" fill="#BD1646"/>
<rect x="2309" y="188" width="19" height="19" fill="#BC6699"/>
<rect x="1730" y="207" width="366" height="20" fill="#711B99"/>
<rect x="2096" y="207" width="20" height="20" fill="#741F9A"/>
<rect x="2116" y="207" width="19" height="20" fill="#8B379F"/>
<rect x="2135" y="207" width="19" height="20" fill="#A34A9B"/>
<rect x="2154" y="207" width="20" height="20" fill="#C04976"/>
<rect x="2174" y="207" width="19" height="20" fill="#C1345D"/>
<rect x="2193" y="207" width="19" height="20" fill="#C12D57"/>
<rect x="2212" y="207" width="19" height="20" fill="#BD1948"/>
<rect x="2231" y="207" width="78" height="20" fill="#BD1646"/>
<rect x="2309" y="207" width="19" height="20" fill="#BC6699"/>
<rect x="1730" y="227" width="366" height="19" fill="#711B99"/>
<rect x="2096" y="227" width="20" height="19" fill="#751F9A"/>
<rect x="2116" y="227" width="19" height="19" fill="#99439F"/>
<rect x="2135" y="227" width="19" height="19" fill="#AF559A"/>
<rect x="2154" y="227" width="20" height="19" fill="#C14976"/>
<rect x="2174" y="227" width="19" height="19" fill="#C1345D"/>
<rect x="2193" y="227" width="19" height="19" fill="#C12D57"/>
<rect x="2212" y="227" width="19" height="19" fill="#BD1948"/>
<rect x="2231" y="227" width="39" height="19" fill="#BD1646"/>
<rect x="2270" y="227" width="19" height="19" fill="#BD1546"/>
<rect x="2289" y="227" width="20" height="19" fill="#BD1646"/>
<rect x="2309" y="227" width="19" height="19" fill="#BC6699"/>
<rect x="1730" y="246" width="366" height="19" fill="#711B99"/>
<rect x="2096" y="246" width="20" height="19" fill="#741E9A"/>
<rect x="2116" y="246" width="19" height="19" fill="#8A359F"/>
<rect x="2135" y="246" width="19" height="19" fill="#A1499D"/>
<rect x="2154" y="246" width="20" height="19" fill="#BE5988"/>
<rect x="2174" y="246" width="19" height="19" fill="#C1365F"/>
<rect x="2193" y="246" width="19" height="19" fill="#C12E58"/>
<rect x="2212" y="246" width="19" height="19" fill="#BD1948"/>
<rect x="2231" y="246" width="20" height="19" fill="#BD1646"/>
<rect x="2251" y="246" width="19" height="19" fill="#BD1546"/>
<rect x="2270" y="246" width="19" height="19" fill="#B80F41"/>
<rect x="2289" y="246" width="20" height="19" fill="#BC1545"/>
<rect x="2309" y="246" width="19" height="19" fill="#BC6699"/>
<rect x="1730" y="265" width="366" height="19" fill="#711B99"/>
<rect x="2096" y="265" width="20" height="19" fill="#741E9A"/>
<rect x="2116" y="265" width="19" height="19" fill="#802A9F"/>
<rect x="2135" y="265" width="19" height="19" fill="#8A339E"/>
<rect x="2154" y="265" width="20" height="19" fill="#BD5A8A"/>
<rect x="2174" y="265" width="19" height="19" fill="#C3476F"/>
<rect x="2193" y="265" width="19" height="19" fill="#C12F59"/>
<rect x="2212" y="265" width="19" height="19" fill="#BE1A49"/>
<rect x="2231" y="265" width="20" height="19" fill="#BD1747"/>
<rect x="2251" y="265" width="38" height="19" fill="#BD1847"/>
<rect x="2289" y="265" width="20" height="19" fill="#BD1746"/>
<rect x="2309" y="265" width="19" height="19" fill="#BC6699"/>
<rect x="1730" y="284" width="366" height="20" fill="#711B99"/>
<rect x="2096" y="284" width="20" height="20" fill="#76209A"/>
<rect x="2116" y="284" width="19" height="20" fill="#9B449E"/>
<rect x="2135" y="284" width="19" height="20" fill="#AF579B"/>
<rect x="2154" y="284" width="20" height="20" fill="#BF5A87"/>
<rect x="2174" y="284" width="19" height="20" fill="#C1365F"/>
<rect x="2193" y="284" width="19" height="20" fill="#C12F59"/>
<rect x="2212" y="284" width="19" height="20" fill="#C02A55"/>
<rect x="2231" y="284" width="20" height="20" fill="#BD1948"/>
<rect x="2251" y="284" width="19" height="20" fill="#C02954"/>
<rect x="2270" y="284" width="19" height="20" fill="#C02A55"/>
<rect x="2289" y="284" width="20" height="20" fill="#BD1948"/>
<rect x="2309" y="284" width="19" height="20" fill="#BC6699"/>
<rect x="1730" y="304" width="270" height="19" fill="#711B99"/>
<rect x="2000" y="304" width="19" height="19" fill="#721C9A"/>
<rect x="2019" y="304" width="20" height="19" fill="#731D9A"/>
<rect x="2039" y="304" width="19" height="19" fill="#731E9A"/>
<rect x="2058" y="304" width="19" height="19" fill="#741F9A"/>
<rect x="2077" y="304" width="19" height="19" fill="#76209A"/>
<rect x="2096" y="304" width="20" height="19" fill="#7C2599"/>
<rect x="2116" y="304" width="19" height="19" fill="#AD5499"/>
<rect x="2135" y="304" width="19" height="19" fill="#C05D8A"/>
<rect x="2154" y="304" width="20" height="19" fill="#C34A73"/>
<rect x="2174" y="304" width="19" height="19" fill="#C1345D"/>
<rect x="2193" y="304" width="19" height="19" fill="#C12E57"/>
<rect x="2212" y="304" width="19" height="19" fill="#BE1A49"/>
<rect x="2231" y="304" width="20" height="19" fill="#BD1747"/>
<rect x="2251" y="304" width="19" height="19" fill="#BE1A49"/>
<rect x="2270" y="304" width="19" height="19" fill="#C02954"/>
<rect x="2289" y="304" width="20" height="19" fill="#BD1948"/>
<rect x="2309" y="304" width="19" height="19" fill="#BC6699"/>
<rect x="1730" y="323" width="251" height="19" fill="#711B99"/>
<rect x="1981" y="323" width="19" height="19" fill="#721C9A"/>
<rect x="2000" y="323" width="19" height="19" fill="#7A249F"/>
<rect x="2019" y="323" width="20" height="19" fill="#7D279F"/>
<rect x="2039" y="323" width="19" height="19" fill="#87339F"/>
<rect x="2058" y="323" width="19" height="19" fill="#8B369F"/>
<rect x="2077" y="323" width="19" height="19" fill="#9B459F"/>
<rect x="2096" y="323" width="20" height="19" fill="#A1489B"/>
<rect x="2116" y="323" width="19" height="19" fill="#BE4A79"/>
<rect x="2135" y="323" width="19" height="19" fill="#C34972"/>
<rect x="2154" y="323" width="20" height="19" fill="#C3436C"/>
<rect x="2174" y="323" width="19" height="19" fill="#C12F59"/>
<rect x="2193" y="323" width="19" height="19" fill="#C02A55"/>
<rect x="2212" y="323" width="19" height="19" fill="#BD1847"/>
<rect x="2231" y="323" width="20" height="19" fill="#BD1646"/>
<rect x="2251" y="323" width="58" height="19" fill="#BD1747"/>
<rect x="2309" y="323" width="19" height="19" fill="#BC6699"/>
<rect x="1730" y="342" width="231" height="20" fill="#711B99"/>
<rect x="1961" y="342" width="20" height="20" fill="#701A99"/>
<rect x="1981" y="342" width="19" height="20" fill="#721C9A"/>
<rect x="2000" y="342" width="19" height="20" fill="#7D279F"/>
<rect x="2019" y="342" width="20" height="20" fill="#8B369F"/>
<rect x="2039" y="342" width="19" height="20" fill="#903B9E"/>
<rect x="2058" y="342" width="19" height="20" fill="#A24A9D"/>
<rect x="2077" y="342" width="19" height="20" fill="#B0579A"/>
<rect x="2096" y="342" width="20" height="20" fill="#B45796"/>
<rect x="2116" y="342" width="19" height="20" fill="#C24974"/>
<rect x="2135" y="342" width="19" height="20" fill="#C1345D"/>
<rect x="2154" y="342" width="20" height="20" fill="#BE1F4D"/>
<rect x="2174" y="342" width="19" height="20" fill="#BD1A49"/>
<rect x="2193" y="342" width="19" height="20" fill="#B81142"/>
<rect x="2212" y="342" width="97" height="20" fill="#BD1646"/>
<rect x="2309" y="342" width="19" height="20" fill="#BC6699"/>
<rect x="1730" y="362" width="212" height="19" fill="#711B99"/>
<rect x="1942" y="362" width="19" height="19" fill="#701A99"/>
<rect x="1961" y="362" width="20" height="19" fill="#671199"/>
<rect x="1981" y="362" width="19" height="19" fill="#69149A"/>
<rect x="2000" y="362" width="19" height="19" fill="#87339F"/>
<rect x="2019" y="362" width="20" height="19" fill="#9E489E"/>
<rect x="2039" y="362" width="19" height="19" fill="#BA5B8F"/>
<rect x="2058" y="362" width="19" height="19" fill="#BE5B8A"/>
<rect x="2077" y="362" width="19" height="19" fill="#C14B76"/>
<rect x="2096" y="362" width="20" height="19" fill="#C24973"/>
<rect x="2116" y="362" width="19" height="19" fill="#C3456E"/>
<rect x="2135" y="362" width="19" height="19" fill="#C12F59"/>
<rect x="2154" y="362" width="20" height="19" fill="#C02954"/>
<rect x="2174" y="362" width="19" height="19" fill="#BC1646"/>
<rect x="2193" y="362" width="19" height="19" fill="#B80F40"/>
<rect x="2212" y="362" width="19" height="19" fill="#BC1545"/>
<rect x="2231" y="362" width="20" height="19" fill="#BD1646"/>
<rect x="2251" y="362" width="58" height="19" fill="#BD1747"/>
<rect x="2309" y="362" width="19" height="19" fill="#BC6699"/>
<rect x="1730" y="381" width="231" height="19" fill="#711B99"/>
<rect x="1961" y="381" width="20" height="19" fill="#6F1999"/>
<rect x="1981" y="381" width="19" height="19" fill="#6A149A"/>
<rect x="2000" y="381" width="19" height="19" fill="#89349F"/>
<rect x="2019" y="381" width="20" height="19" fill="#A14A9E"/>
<rect x="2039" y="381" width="19" height="19" fill="#BE5D8C"/>
<rect x="2058" y="381" width="19" height="19" fill="#C34C74"/>
<rect x="2077" y="381" width="19" height="19" fill="#C2365F"/>
<rect x="2096" y="381" width="20" height="19" fill="#C1325B"/>
<rect x="2116" y="381" width="19" height="19" fill="#C12F58"/>
<rect x="2135" y="381" width="19" height="19" fill="#BD1B49"/>
<rect x="2154" y="381" width="20" height="19" fill="#B91242"/>
<rect x="2174" y="381" width="19" height="19" fill="#BD1646"/>
<rect x="2193" y="381" width="19" height="19" fill="#BD1546"/>
<rect x="2212" y="381" width="39" height="19" fill="#BD1646"/>
<rect x="2251" y="381" width="19" height="19" fill="#BD1747"/>
<rect x="2270" y="381" width="19" height="19" fill="#C02753"/>
<rect x="2289" y="381" width="20" height="19" fill="#BD1847"/>
<rect x="2309" y="381" width="19" height="19" fill="#BC6699"/>
<rect x="1730" y="400" width="39" height="19" fill="#711B99"/>
<rect x="1769" y="400" width="212" height="19" fill="#701A99"/>
<rect x="1981" y="400" width="19" height="19" fill="#721C9A"/>
<rect x="2000" y="400" width="19" height="19" fill="#89349F"/>
<rect x="2019" y="400" width="20" height="19" fill="#A14A9D"/>
<rect x="2039" y="400" width="19" height="19" fill="#BE5B89"/>
<rect x="2058" y="400" width="19" height="19" fill="#C34870"/>
<rect x="2077" y="400" width="19" height="19" fill="#C1315B"/>
<rect x="2096" y="400" width="20" height="19" fill="#C02C56"/>
<rect x="2116" y="400" width="19" height="19" fill="#BE1A49"/>
<rect x="2135" y="400" width="19" height="19" fill="#BD1646"/>
<rect x="2154" y="400" width="20" height="19" fill="#BD1546"/>
<rect x="2174" y="400" width="77" height="19" fill="#BD1646"/>
<rect x="2251" y="400" width="58" height="19" fill="#BD1747"/>
<rect x="2309" y="400" width="19" height="19" fill="#BC6699"/>
<rect x="1730" y="419" width="19" height="20" fill="#711B99"/>
<rect x="1749" y="419" width="20" height="20" fill="#701A99"/>
<rect x="1769" y="419" width="192" height="20" fill="#6C169A"/>
<rect x="1961" y="419" width="20" height="20" fill="#6B159A"/>
<rect x="1981" y="419" width="19" height="20" fill="#6A159A"/>
<rect x="2000" y="419" width="19" height="20" fill="#88349F"/>
<rect x="2019" y="419" width="20" height="20" fill="#A0479C"/>
<rect x="2039" y="419" width="19" height="20" fill="#BF4977"/>
<rect x="2058" y="419" width="19" height="20" fill="#C1355E"/>
<rect x="2077" y="419" width="19" height="20" fill="#C12F58"/>
<rect x="2096" y="419" width="20" height="20" fill="#BE1A49"/>
<rect x="2116" y="419" width="19" height="20" fill="#BD1747"/>
<rect x="2135" y="419" width="58" height="20" fill="#BD1646"/>
<rect x="2193" y="419" width="38" height="20" fill="#BC1545"/>
<rect x="2231" y="419" width="78" height="20" fill="#BD1646"/>
<rect x="2309" y="419" width="19" height="20" fill="#BC6699"/>
<rect x="1730" y="439" width="19" height="19" fill="#711B99"/>
<rect x="1749" y="439" width="20" height="19" fill="#701A99"/>
<rect x="1769" y="439" width="19" height="19" fill="#6C169A"/>
<rect x="1788" y="439" width="154" height="19" fill="#6B159A"/>
<rect x="1942" y="439" width="39" height="19" fill="#6A149A"/>
<rect x="1981" y="439" width="19" height="19" fill="#6D179B"/>
<rect x="2000" y="439" width="19" height="19" fill="#86319F"/>
<rect x="2019" y="439" width="20" height="19" fill="#91399C"/>
<rect x="2039" y="439" width="19" height="19" fill="#BD4777"/>
<rect x="2058" y="439" width="19" height="19" fill="#C1355E"/>
<rect x="2077" y="439" width="19" height="19" fill="#C12E58"/>
<rect x="2096" y="439" width="20" height="19" fill="#BD1948"/>
<rect x="2116" y="439" width="58" height="19" fill="#BD1646"/>
<rect x="2174" y="439" width="19" height="19" fill="#BC1545"/>
<rect x="2193" y="439" width="38" height="19" fill="#B70E40"/>
<rect x="2231" y="439" width="20" height="19" fill="#BC1545"/>
<rect x="2251" y="439" width="58" height="19" fill="#BD1646"/>
<rect x="2309" y="439" width="19" height="19" fill="#BC6699"/>
<rect x="1730" y="458" width="19" height="19" fill="#711B99"/>
<rect x="1749" y="458" width="20" height="19" fill="#701A99"/>
<rect x="1769" y="458" width="19" height="19" fill="#6C169A"/>
<rect x="1788" y="458" width="135" height="19" fill="#6B159A"/>
<rect x="1923" y="458" width="19" height="19" fill="#6A149A"/>
<rect x="1942" y="458" width="39" height="19" fill="#650F99"/>
<rect x="1981" y="458" width="19" height="19" fill="#68129A"/>
<rect x="2000" y="458" width="19" height="19" fill="#7B259F"/>
<rect x="2019" y="458" width="20" height="19" fill="#852D9D"/>
<rect x="2039" y="458" width="19" height="19" fill="#BB5789"/>
<rect x="2058" y="458" width="19" height="19" fill="#C34870"/>
<rect x="2077" y="458" width="19" height="19" fill="#C12F59"/>
<rect x="2096" y="458" width="20" height="19" fill="#BD1948"/>
<rect x="2116" y="458" width="58" height="19" fill="#BD1646"/>
<rect x="2174" y="458" width="19" height="19" fill="#BC1545"/>
<rect x="2193" y="458" width="38" height="19" fill="#B70E40"/>
<rect x="2231" y="458" width="20" height="19" fill="#BC1545"/>
<rect x="2251" y="458" width="58" height="19" fill="#BD1646"/>
<rect x="2309" y="458" width="19" height="19" fill="#BC6699"/>
<rect x="1730" y="477" width="19" height="20" fill="#711B99"/>
<rect x="1749" y="477" width="20" height="20" fill="#701A99"/>
<rect x="1769" y="477" width="154" height="20" fill="#6B159A"/>
<rect x="1923" y="477" width="19" height="20" fill="#6A149A"/>
<rect x="1942" y="477" width="19" height="20" fill="#650F99"/>
<rect x="1961" y="477" width="20" height="20" fill="#640E99"/>
<rect x="1981" y="477" width="19" height="20" fill="#67119A"/>
<rect x="2000" y="477" width="19" height="20" fill="#79239F"/>
<rect x="2019" y="477" width="20" height="20" fill="#842D9E"/>
<rect x="2039" y="477" width="19" height="20" fill="#BA598B"/>
<rect x="2058" y="477" width="19" height="20" fill="#C34A72"/>
<rect x="2077" y="477" width="19" height="20" fill="#C1305A"/>
<rect x="2096" y="477" width="20" height="20" fill="#BD1948"/>
<rect x="2116" y="477" width="19" height="20" fill="#BD1546"/>
<rect x="2135" y="477" width="58" height="20" fill="#BD1646"/>
<rect x="2193" y="477" width="38" height="20" fill="#BC1545"/>
<rect x="2231" y="477" width="78" height="20" fill="#BD1646"/>
<rect x="2309" y="477" width="19" height="20" fill="#BC6699"/>
<rect x="1730" y="497" width="19" height="19" fill="#721C9A"/>
<rect x="1749" y="497" width="20" height="19" fill="#711B99"/>
<rect x="1769" y="497" width="19" height="19" fill="#6B159A"/>
<rect x="1788" y="497" width="19" height="19" fill="#661099"/>
<rect x="1807" y="497" width="39" height="19" fill="#6A149A"/>
<rect x="1846" y="497" width="77" height="19" fill="#6B159A"/>
<rect x="1923" y="497" width="19" height="19" fill="#6A149A"/>
<rect x="1942" y="497" width="39" height="19" fill="#650F99"/>
<rect x="1981" y="497" width="19" height="19" fill="#68129A"/>
<rect x="2000" y="497" width="19" height="19" fill="#7B259F"/>
<rect x="2019" y="497" width="20" height="19" fill="#862F9D"/>
<rect x="2039" y="497" width="19" height="19" fill="#BB5789"/>
<rect x="2058" y="497" width="19" height="19" fill="#C34870"/>
<rect x="2077" y="497" width="19" height="19" fill="#C12F59"/>
<rect x="2096" y="497" width="20" height="19" fill="#BD1848"/>
<rect x="2116" y="497" width="19" height="19" fill="#B80F41"/>
<rect x="2135" y="497" width="19" height="19" fill="#BD1546"/>
<rect x="2154" y="497" width="155" height="19" fill="#BD1646"/>
<rect x="2309" y="497" width="19" height="19" fill="#BC6699"/>
<rect x="1730" y="516" width="19" height="19" fill="#7A249E"/>
<rect x="1749" y="516" width="20" height="19" fill="#711B9A"/>
<rect x="1769" y="516" width="19" height="19" fill="#6B159A"/>
<rect x="1788" y="516" width="19" height="19" fill="#6A149A"/>
<rect x="1807" y="516" width="39" height="19" fill="#650F99"/>
<rect x="1846" y="516" width="19" height="19" fill="#6A149A"/>
<rect x="1865" y="516" width="77" height="19" fill="#6B159A"/>
<rect x="1942" y="516" width="39" height="19" fill="#6A149A"/>
<rect x="1981" y="516" width="19" height="19" fill="#6E189B"/>
<rect x="2000" y="516" width="19" height="19" fill="#89349F"/>
<rect x="2019" y="516" width="20" height="19" fill="#A2489A"/>
<rect x="2039" y="516" width="19" height="19" fill="#C04A77"/>
<rect x="2058" y="516" width="19" height="19" fill="#C2375F"/>
<rect x="2077" y="516" width="19" height="19" fill="#C12F58"/>
<rect x="2096" y="516" width="20" height="19" fill="#BD1948"/>
<rect x="2116" y="516" width="19" height="19" fill="#BD1546"/>
<rect x="2135" y="516" width="116" height="19" fill="#BD1646"/>
<rect x="2251" y="516" width="38" height="19" fill="#BC1545"/>
<rect x="2289" y="516" width="20" height="19" fill="#BD1646"/>
<rect x="2309" y="516" width="19" height="19" fill="#BC6699"/>
<rect x="1730" y="535" width="19" height="19" fill="#7B259F"/>
<rect x="1749" y="535" width="20" height="19" fill="#721C9A"/>
<rect x="1769" y="535" width="19" height="19" fill="#6C169A"/>
<rect x="1788" y="535" width="19" height="19" fill="#6A149A"/>
<rect x="1807" y="535" width="39" height="19" fill="#650F99"/>
<rect x="1846" y="535" width="19" height="19" fill="#6A149A"/>
<rect x="1865" y="535" width="77" height="19" fill="#6B159A"/>
<rect x="1942" y="535" width="19" height="19" fill="#6C169A"/>
<rect x="1961" y="535" width="20" height="19" fill="#6E189B"/>
<rect x="1981" y="535" width="19" height="19" fill="#741E9B"/>
<rect x="2000" y="535" width="19" height="19" fill="#9F479C"/>
<rect x="2019" y="535" width="20" height="19" fill="#BD598A"/>
<rect x="2039" y="535" width="19" height="19" fill="#C34872"/>
<rect x="2058" y="535" width="19" height="19" fill="#C3436C"/>
<rect x="2077" y="535" width="19" height="19" fill="#C12F58"/>
<rect x="2096" y="535" width="20" height="19" fill="#BD1948"/>
<rect x="2116" y="535" width="115" height="19" fill="#BD1646"/>
<rect x="2231" y="535" width="20" height="19" fill="#BD1546"/>
<rect x="2251" y="535" width="38" height="19" fill="#B80F40"/>
<rect x="2289" y="535" width="20" height="19" fill="#BC1545"/>
<rect x="2309" y="535" width="19" height="19" fill="#BC6699"/>
<rect x="1730" y="554" width="19" height="20" fill="#7B25A0"/>
<rect x="1749" y="554" width="20" height="20" fill="#751F9F"/>
<rect x="1769" y="554" width="19" height="20" fill="#6C169A"/>
<rect x="1788" y="554" width="19" height="20" fill="#6B159A"/>
<rect x="1807" y="554" width="39" height="20" fill="#6A149A"/>
<rect x="1846" y="554" width="96" height="20" fill="#6B159A"/>
<rect x="1942" y="554" width="19" height="20" fill="#6E189B"/>
<rect x="1961" y="554" width="20" height="20" fill="#85309F"/>
<rect x="1981" y="554" width="19" height="20" fill="#8E389D"/>
<rect x="2000" y="554" width="19" height="20" fill="#BA578B"/>
<rect x="2019" y="554" width="20" height="20" fill="#C24973"/>
<rect x="2039" y="554" width="19" height="20" fill="#C1345D"/>
<rect x="2058" y="554" width="19" height="20" fill="#C1305A"/>
<rect x="2077" y="554" width="19" height="20" fill="#C02B56"/>
<rect x="2096" y="554" width="20" height="20" fill="#BD1847"/>
<rect x="2116" y="554" width="135" height="20" fill="#BD1646"/>
<rect x="2251" y="554" width="38" height="20" fill="#BC1545"/>
<rect x="2289" y="554" width="20" height="20" fill="#BD1646"/>
<rect x="2309" y="554" width="19" height="20" fill="#BC6699"/>
<rect x="1730" y="574" width="19" height="19" fill="#7B25A0"/>
<rect x="1749" y="574" width="20" height="19" fill="#751F9F"/>
<rect x="1769" y="574" width="19" height="19" fill="#6C169B"/>
<rect x="1788" y="574" width="154" height="19" fill="#6B159A"/>
<rect x="1942" y="574" width="19" height="19" fill="#6F199B"/>
<rect x="1961" y="574" width="20" height="19" fill="#8A369F"/>
<rect x="1981" y="574" width="19" height="19" fill="#A2499B"/>
<rect x="2000" y="574" width="19" height="19" fill="#BF4976"/>
<rect x="2019" y="574" width="20" height="19" fill="#C1355E"/>
<rect x="2039" y="574" width="19" height="19" fill="#C12F58"/>
<rect x="2058" y="574" width="19" height="19" fill="#BE1B4A"/>
<rect x="2077" y="574" width="19" height="19" fill="#BD1847"/>
<rect x="2096" y="574" width="20" height="19" fill="#B81041"/>
<rect x="2116" y="574" width="19" height="19" fill="#BC1545"/>
<rect x="2135" y="574" width="174" height="19" fill="#BD1646"/>
<rect x="2309" y="574" width="19" height="19" fill="#BC6699"/>
<rect x="1730" y="593" width="19" height="19" fill="#7B25A0"/>
<rect x="1749" y="593" width="20" height="19" fill="#751F9F"/>
<rect x="1769" y="593" width="19" height="19" fill="#6C169B"/>
<rect x="1788" y="593" width="154" height="19" fill="#6B159A"/>
<rect x="1942" y="593" width="19" height="19" fill="#701A9B"/>
<rect x="1961" y="593" width="20" height="19" fill="#9B449F"/>
<rect x="1981" y="593" width="19" height="19" fill="#B15698"/>
<rect x="2000" y="593" width="19" height="19" fill="#C14772"/>
<rect x="2019" y="593" width="20" height="19" fill="#C1305A"/>
<rect x="2039" y="593" width="19" height="19" fill="#C02B55"/>
<rect x="2058" y="593" width="19" height="19" fill="#BD1848"/>
<rect x="2077" y="593" width="19" height="19" fill="#BD1646"/>
<rect x="2096" y="593" width="20" height="19" fill="#BC1545"/>
<rect x="2116" y="593" width="19" height="19" fill="#B80E40"/>
<rect x="2135" y="593" width="19" height="19" fill="#BC1545"/>
<rect x="2154" y="593" width="155" height="19" fill="#BD1646"/>
<rect x="2309" y="593" width="19" height="19" fill="#BC6699"/>
<rect x="1730" y="612" width="19" height="20" fill="#7B25A0"/>
<rect x="1749" y="612" width="20" height="20" fill="#751F9F"/>
<rect x="1769" y="612" width="19" height="20" fill="#6C169B"/>
<rect x="1788" y="612" width="154" height="20" fill="#6B159A"/>
<rect x="1942" y="612" width="19" height="20" fill="#6D179A"/>
<rect x="1961" y="612" width="20" height="20" fill="#9E479D"/>
<rect x="1981" y="612" width="19" height="20" fill="#BE5B8A"/>
<rect x="2000" y="612" width="19" height="20" fill="#C13560"/>
<rect x="2019" y="612" width="20" height="20" fill="#BE1D4C"/>
<rect x="2039" y="612" width="19" height="20" fill="#BD1948"/>
<rect x="2058" y="612" width="38" height="20" fill="#BD1747"/>
<rect x="2096" y="612" width="20" height="20" fill="#BC1646"/>
<rect x="2116" y="612" width="19" height="20" fill="#B70E3F"/>
<rect x="2135" y="612" width="19" height="20" fill="#B80E40"/>
<rect x="2154" y="612" width="20" height="20" fill="#BD1546"/>
<rect x="2174" y="612" width="135" height="20" fill="#BD1646"/>
<rect x="2309" y="612" width="19" height="20" fill="#BC6699"/>
<rect x="1730" y="632" width="19" height="19" fill="#7B25A0"/>
<rect x="1749" y="632" width="20" height="19" fill="#751F9F"/>
<rect x="1769" y="632" width="19" height="19" fill="#6C169B"/>
<rect x="1788" y="632" width="135" height="19" fill="#6B159A"/>
<rect x="1923" y="632" width="19" height="19" fill="#6A149A"/>
<rect x="1942" y="632" width="19" height="19" fill="#721C9A"/>
<rect x="1961" y="632" width="20" height="19" fill="#AB539A"/>
<rect x="1981" y="632" width="19" height="19" fill="#C05A86"/>
<rect x="2000" y="632" width="19" height="19" fill="#C1345D"/>
<rect x="2019" y="632" width="20" height="19" fill="#C02C56"/>
<rect x="2039" y="632" width="19" height="19" fill="#BD1848"/>
<rect x="2058" y="632" width="19" height="19" fill="#BD1747"/>
<rect x="2077" y="632" width="19" height="19" fill="#BF2752"/>
<rect x="2096" y="632" width="20" height="19" fill="#BC1646"/>
<rect x="2116" y="632" width="19" height="19" fill="#B70E3F"/>
<rect x="2135" y="632" width="19" height="19" fill="#BC1445"/>
<rect x="2154" y="632" width="155" height="19" fill="#BD1646"/>
<rect x="2309" y="632" width="19" height="19" fill="#BC6699"/>
<rect x="1730" y="651" width="19" height="19" fill="#7B25A0"/>
<rect x="1749" y="651" width="20" height="19" fill="#751F9F"/>
<rect x="1769" y="651" width="19" height="19" fill="#6C169B"/>
<rect x="1788" y="651" width="116" height="19" fill="#6B159A"/>
<rect x="1904" y="651" width="19" height="19" fill="#6A149A"/>
<rect x="1923" y="651" width="19" height="19" fill="#650F99"/>
<rect x="1942" y="651" width="19" height="19" fill="#6E1799"/>
<rect x="1961" y="651" width="20" height="19" fill="#B5568E"/>
<rect x="1981" y="651" width="19" height="19" fill="#C24C77"/>
<rect x="2000" y="651" width="19" height="19" fill="#C1365F"/>
<rect x="2019" y="651" width="20" height="19" fill="#C1305A"/>
<rect x="2039" y="651" width="19" height="19" fill="#BE1C4A"/>
<rect x="2058" y="651" width="19" height="19" fill="#BD1948"/>
<rect x="2077" y="651" width="19" height="19" fill="#BD1847"/>
<rect x="2096" y="651" width="20" height="19" fill="#B80F41"/>
<rect x="2116" y="651" width="19" height="19" fill="#B80E40"/>
<rect x="2135" y="651" width="19" height="19" fill="#BC1545"/>
<rect x="2154" y="651" width="155" height="19" fill="#BD1646"/>
<rect x="2309" y="651" width="19" height="19" fill="#BC6699"/>
<rect x="1730" y="670" width="19" height="19" fill="#7B25A0"/>
<rect x="1749" y="670" width="20" height="19" fill="#751F9F"/>
<rect x="1769" y="670" width="19" height="19" fill="#6C169B"/>
<rect x="1788" y="670" width="96" height="19" fill="#6B159A"/>
<rect x="1884" y="670" width="20" height="19" fill="#6A149A"/>
<rect x="1904" y="670" width="19" height="19" fill="#650F99"/>
<rect x="1923" y="670" width="19" height="19" fill="#640E99"/>
<rect x="1942" y="670" width="19" height="19" fill="#6B1599"/>
<rect x="1961" y="670" width="20" height="19" fill="#9D459C"/>
<rect x="1981" y="670" width="19" height="19" fill="#BD5A8A"/>
<rect x="2000" y="670" width="19" height="19" fill="#C34B74"/>
<rect x="2019" y="670" width="20" height="19" fill="#C3456D"/>
<rect x="2039" y="670" width="19" height="19" fill="#C1305A"/>
<rect x="2058" y="670" width="19" height="19" fill="#C02B55"/>
<rect x="2077" y="670" width="19" height="19" fill="#BD1847"/>
<rect x="2096" y="670" width="39" height="19" fill="#BC1545"/>
<rect x="2135" y="670" width="174" height="19" fill="#BD1646"/>
<rect x="2309" y="670" width="19" height="19" fill="#BC6699"/>
<rect x="1730" y="689" width="19" height="20" fill="#7B25A0"/>
<rect x="1749" y="689" width="20" height="20" fill="#751F9F"/>
<rect x="1769" y="689" width="19" height="20" fill="#6C169B"/>
<rect x="1788" y="689" width="96" height="20" fill="#6B159A"/>
<rect x="1884" y="689" width="20" height="20" fill="#6A149A"/>
<rect x="1904" y="689" width="38" height="20" fill="#650F99"/>
<rect x="1942" y="689" width="19" height="20" fill="#69149A"/>
<rect x="1961" y="689" width="20" height="20" fill="#8A359F"/>
<rect x="1981" y="689" width="19" height="20" fill="#A34B9C"/>
<rect x="2000" y="689" width="19" height="20" fill="#BF5B89"/>
<rect x="2019" y="689" width="20" height="20" fill="#C44A72"/>
<rect x="2039" y="689" width="19" height="20" fill="#C2345D"/>
<rect x="2058" y="689" width="19" height="20" fill="#C02E57"/>
<rect x="2077" y="689" width="19" height="20" fill="#BD1848"/>
<rect x="2096" y="689" width="213" height="20" fill="#BD1646"/>
<rect x="2309" y="689" width="19" height="20" fill="#BC6699"/>
<rect x="1730" y="709" width="19" height="19" fill="#7B25A0"/>
<rect x="1749" y="709" width="20" height="19" fill="#751F9F"/>
<rect x="1769" y="709" width="19" height="19" fill="#6C169B"/>
<rect x="1788" y="709" width="58" height="19" fill="#6B159A"/>
<rect x="1846" y="709" width="19" height="19" fill="#6C169A"/>
<rect x="1865" y="709" width="39" height="19" fill="#6B159A"/>
<rect x="1904" y="709" width="38" height="19" fill="#6A149A"/>
<rect x="1942" y="709" width="19" height="19" fill="#6D179A"/>
<rect x="1961" y="709" width="20" height="19" fill="#85309F"/>
<rect x="1981" y="709" width="19" height="19" fill="#903A9E"/>
<rect x="2000" y="709" width="19" height="19" fill="#BC5B8C"/>
<rect x="2019" y="709" width="20" height="19" fill="#C44D76"/>
<rect x="2039" y="709" width="19" height="19" fill="#C3466F"/>
<rect x="2058" y="709" width="19" height="19" fill="#C02E58"/>
<rect x="2077" y="709" width="19" height="19" fill="#B91243"/>
<rect x="2096" y="709" width="20" height="19" fill="#BD1746"/>
<rect x="2116" y="709" width="19" height="19" fill="#BD1747"/>
<rect x="2135" y="709" width="174" height="19" fill="#BD1646"/>
<rect x="2309" y="709" width="19" height="19" fill="#BC6699"/>
<rect x="1730" y="728" width="19" height="19" fill="#7B25A0"/>
<rect x="1749" y="728" width="20" height="19" fill="#751F9F"/>
<rect x="1769" y="728" width="19" height="19" fill="#6C169B"/>
<rect x="1788" y="728" width="38" height="19" fill="#6B159A"/>
<rect x="1826" y="728" width="20" height="19" fill="#6C169A"/>
<rect x="1846" y="728" width="19" height="19" fill="#76209E"/>
<rect x="1865" y="728" width="39" height="19" fill="#6C169A"/>
<rect x="1904" y="728" width="19" height="19" fill="#6D179B"/>
<rect x="1923" y="728" width="19" height="19" fill="#6F199B"/>
<rect x="1942" y="728" width="19" height="19" fill="#711B9B"/>
<rect x="1961" y="728" width="20" height="19" fill="#751F9C"/>
<rect x="1981" y="728" width="19" height="19" fill="#87309D"/>
<rect x="2000" y="728" width="19" height="19" fill="#BC5A8B"/>
<rect x="2019" y="728" width="20" height="19" fill="#C35C85"/>
<rect x="2039" y="728" width="19" height="19" fill="#C34870"/>
<rect x="2058" y="728" width="19" height="19" fill="#C02D58"/>
<rect x="2077" y="728" width="19" height="19" fill="#B81242"/>
<rect x="2096" y="728" width="20" height="19" fill="#BF2652"/>
<rect x="2116" y="728" width="19" height="19" fill="#BD1747"/>
<rect x="2135" y="728" width="174" height="19" fill="#BD1646"/>
<rect x="2309" y="728" width="19" height="19" fill="#BC6699"/>
<rect x="1730" y="747" width="19" height="20" fill="#7B25A0"/>
<rect x="1749" y="747" width="20" height="20" fill="#751F9F"/>
<rect x="1769" y="747" width="19" height="20" fill="#6C169B"/>
<rect x="1788" y="747" width="19" height="20" fill="#6B159A"/>
<rect x="1807" y="747" width="19" height="20" fill="#6A149A"/>
<rect x="1826" y="747" width="39" height="20" fill="#6B159A"/>
<rect x="1865" y="747" width="19" height="20" fill="#68129A"/>
<rect x="1884" y="747" width="20" height="20" fill="#7A249F"/>
<rect x="1904" y="747" width="19" height="20" fill="#7E289F"/>
<rect x="1923" y="747" width="19" height="20" fill="#8A359F"/>
<rect x="1942" y="747" width="19" height="20" fill="#9B459F"/>
<rect x="1961" y="747" width="20" height="20" fill="#9E479E"/>
<rect x="1981" y="747" width="19" height="20" fill="#A34899"/>
<rect x="2000" y="747" width="19" height="20" fill="#BF4977"/>
<rect x="2019" y="747" width="20" height="20" fill="#C34971"/>
<rect x="2039" y="747" width="19" height="20" fill="#C3436C"/>
<rect x="2058" y="747" width="19" height="20" fill="#BD1C4B"/>
<rect x="2077" y="747" width="19" height="20" fill="#B81041"/>
<rect x="2096" y="747" width="20" height="20" fill="#BD1746"/>
<rect x="2116" y="747" width="19" height="20" fill="#BD1747"/>
<rect x="2135" y="747" width="58" height="20" fill="#BD1646"/>
<rect x="2193" y="747" width="38" height="20" fill="#BC1545"/>
<rect x="2231" y="747" width="39" height="20" fill="#BD1546"/>
<rect x="2270" y="747" width="39" height="20" fill="#BD1646"/>
<rect x="2309" y="747" width="19" height="20" fill="#BC6699"/>
<rect x="1730" y="767" width="19" height="19" fill="#7B25A0"/>
<rect x="1749" y="767" width="20" height="19" fill="#751F9F"/>
<rect x="1769" y="767" width="19" height="19" fill="#6C169B"/>
<rect x="1788" y="767" width="19" height="19" fill="#6A149A"/>
<rect x="1807" y="767" width="58" height="19" fill="#650F99"/>
<rect x="1865" y="767" width="19" height="19" fill="#68129A"/>
<rect x="1884" y="767" width="20" height="19" fill="#86329F"/>
<rect x="1904" y="767" width="19" height="19" fill="#9B45A0"/>
<rect x="1923" y="767" width="19" height="19" fill="#A14B9F"/>
<rect x="1942" y="767" width="19" height="19" fill="#B1589A"/>
<rect x="1961" y="767" width="20" height="19" fill="#BD5B8B"/>
<rect x="1981" y="767" width="19" height="19" fill="#BF5784"/>
<rect x="2000" y="767" width="19" height="19" fill="#C03660"/>
<rect x="2019" y="767" width="20" height="19" fill="#C1335C"/>
<rect x="2039" y="767" width="19" height="19" fill="#C1305A"/>
<rect x="2058" y="767" width="19" height="19" fill="#BE1B4A"/>
<rect x="2077" y="767" width="97" height="19" fill="#BD1646"/>
<rect x="2174" y="767" width="19" height="19" fill="#BC1545"/>
<rect x="2193" y="767" width="38" height="19" fill="#B70E40"/>
<rect x="2231" y="767" width="20" height="19" fill="#BC1545"/>
<rect x="2251" y="767" width="19" height="19" fill="#B80F41"/>
<rect x="2270" y="767" width="19" height="19" fill="#BD1546"/>
<rect x="2289" y="767" width="20" height="19" fill="#BD1646"/>
<rect x="2309" y="767" width="19" height="19" fill="#BC6699"/>
<rect x="1730" y="786" width="19" height="19" fill="#7B25A0"/>
<rect x="1749" y="786" width="20" height="19" fill="#751F9F"/>
<rect x="1769" y="786" width="19" height="19" fill="#6C169B"/>
<rect x="1788" y="786" width="19" height="19" fill="#6A149A"/>
<rect x="1807" y="786" width="19" height="19" fill="#650F99"/>
<rect x="1826" y="786" width="39" height="19" fill="#640E99"/>
<rect x="1865" y="786" width="19" height="19" fill="#67129A"/>
<rect x="1884" y="786" width="20" height="19" fill="#85319F"/>
<rect x="1904" y="786" width="19" height="19" fill="#9D469F"/>
<rect x="1923" y="786" width="19" height="19" fill="#B0589B"/>
<rect x="1942" y="786" width="19" height="19" fill="#BF5B89"/>
<rect x="1961" y="786" width="20" height="19" fill="#C13963"/>
<rect x="1981" y="786" width="19" height="19" fill="#C1335D"/>
<rect x="2000" y="786" width="19" height="19" fill="#C12F59"/>
<rect x="2019" y="786" width="20" height="19" fill="#C02D57"/>
<rect x="2039" y="786" width="19" height="19" fill="#C02C56"/>
<rect x="2058" y="786" width="19" height="19" fill="#BF2954"/>
<rect x="2077" y="786" width="19" height="19" fill="#BD1747"/>
<rect x="2096" y="786" width="78" height="19" fill="#BD1646"/>
<rect x="2174" y="786" width="19" height="19" fill="#BC1545"/>
<rect x="2193" y="786" width="38" height="19" fill="#B70E40"/>
<rect x="2231" y="786" width="20" height="19" fill="#BC1545"/>
<rect x="2251" y="786" width="19" height="19" fill="#BD1546"/>
<rect x="2270" y="786" width="39" height="19" fill="#BD1646"/>
<rect x="2309" y="786" width="19" height="19" fill="#BC6699"/>
<rect x="1730" y="805" width="19" height="19" fill="#7B25A0"/>
<rect x="1749" y="805" width="20" height="19" fill="#751F9F"/>
<rect x="1769" y="805" width="19" height="19" fill="#6C169B"/>
<rect x="1788" y="805" width="19" height="19" fill="#6A149A"/>
<rect x="1807" y="805" width="19" height="19" fill="#650F99"/>
<rect x="1826" y="805" width="20" height="19" fill="#640E99"/>
<rect x="1846" y="805" width="19" height="19" fill="#650F99"/>
<rect x="1865" y="805" width="19" height="19" fill="#661099"/>
<rect x="1884" y="805" width="20" height="19" fill="#6F199B"/>
<rect x="1904" y="805" width="19" height="19" fill="#842E9E"/>
<rect x="1923" y="805" width="19" height="19" fill="#BA5A8D"/>
<rect x="1942" y="805" width="19" height="19" fill="#C34B74"/>
<rect x="1961" y="805" width="20" height="19" fill="#C1345D"/>
<rect x="1981" y="805" width="19" height="19" fill="#C12E57"/>
<rect x="2000" y="805" width="19" height="19" fill="#BE1B4A"/>
<rect x="2019" y="805" width="20" height="19" fill="#BC1847"/>
<rect x="2039" y="805" width="38" height="19" fill="#B81142"/>
<rect x="2077" y="805" width="116" height="19" fill="#BD1646"/>
<rect x="2193" y="805" width="38" height="19" fill="#BC1545"/>
<rect x="2231" y="805" width="78" height="19" fill="#BD1646"/>
<rect x="2309" y="805" width="19" height="19" fill="#BC6699"/>
<rect x="1730" y="824" width="19" height="20" fill="#7B25A0"/>
<rect x="1749" y="824" width="20" height="20" fill="#751F9F"/>
<rect x="1769" y="824" width="19" height="20" fill="#6C169B"/>
<rect x="1788" y="824" width="19" height="20" fill="#6A149A"/>
<rect x="1807" y="824" width="39" height="20" fill="#650F99"/>
<rect x="1846" y="824" width="38" height="20" fill="#6A149A"/>
<rect x="1884" y="824" width="20" height="20" fill="#6D179B"/>
<rect x="1904" y="824" width="19" height="20" fill="#822B9D"/>
<rect x="1923" y="824" width="19" height="20" fill="#BA598B"/>
<rect x="1942" y="824" width="19" height="20" fill="#C34A72"/>
<rect x="1961" y="824" width="20" height="20" fill="#C1325B"/>
<rect x="1981" y="824" width="19" height="20" fill="#C02C56"/>
<rect x="2000" y="824" width="19" height="20" fill="#BD1747"/>
<rect x="2019" y="824" width="20" height="20" fill="#B70E3F"/>
<rect x="2039" y="824" width="19" height="20" fill="#B70D3F"/>
<rect x="2058" y="824" width="19" height="20" fill="#BC1445"/>
<rect x="2077" y="824" width="232" height="20" fill="#BD1646"/>
<rect x="2309" y="824" width="19" height="20" fill="#BC6699"/>
<rect x="1730" y="844" width="19" height="19" fill="#7B25A0"/>
<rect x="1749" y="844" width="20" height="19" fill="#751F9F"/>
<rect x="1769" y="844" width="19" height="19" fill="#6C169B"/>
<rect x="1788" y="844" width="19" height="19" fill="#6B159A"/>
<rect x="1807" y="844" width="39" height="19" fill="#6A149A"/>
<rect x="1846" y="844" width="38" height="19" fill="#6B159A"/>
<rect x="1884" y="844" width="20" height="19" fill="#6E189B"/>
<rect x="1904" y="844" width="19" height="19" fill="#822B9D"/>
<rect x="1923" y="844" width="19" height="19" fill="#BA598C"/>
<rect x="1942" y="844" width="19" height="19" fill="#C34C74"/>
<rect x="1961" y="844" width="20" height="19" fill="#C1345D"/>
<rect x="1981" y="844" width="19" height="19" fill="#BE1D4C"/>
<rect x="2000" y="844" width="19" height="19" fill="#BD1948"/>
<rect x="2019" y="844" width="20" height="19" fill="#B81142"/>
<rect x="2039" y="844" width="19" height="19" fill="#B81041"/>
<rect x="2058" y="844" width="38" height="19" fill="#BC1545"/>
<rect x="2096" y="844" width="213" height="19" fill="#BD1646"/>
<rect x="2309" y="844" width="19" height="19" fill="#BC6699"/>
<rect x="1730" y="863" width="19" height="19" fill="#7B25A0"/>
<rect x="1749" y="863" width="20" height="19" fill="#751F9F"/>
<rect x="1769" y="863" width="19" height="19" fill="#6C169B"/>
<rect x="1788" y="863" width="77" height="19" fill="#6B159A"/>
<rect x="1865" y="863" width="19" height="19" fill="#6C169A"/>
<rect x="1884" y="863" width="20" height="19" fill="#78229F"/>
<rect x="1904" y="863" width="19" height="19" fill="#822B9E"/>
<rect x="1923" y="863" width="19" height="19" fill="#B8598F"/>
<rect x="1942" y="863" width="19" height="19" fill="#C05D89"/>
<rect x="1961" y="863" width="20" height="19" fill="#C34973"/>
<rect x="1981" y="863" width="19" height="19" fill="#C1345E"/>
<rect x="2000" y="863" width="19" height="19" fill="#C13059"/>
<rect x="2019" y="863" width="20" height="19" fill="#C02D57"/>
<rect x="2039" y="863" width="19" height="19" fill="#BF2954"/>
<rect x="2058" y="863" width="19" height="19" fill="#B81041"/>
<rect x="2077" y="863" width="19" height="19" fill="#B80E40"/>
<rect x="2096" y="863" width="20" height="19" fill="#BC1545"/>
<rect x="2116" y="863" width="58" height="19" fill="#BD1646"/>
<rect x="2174" y="863" width="38" height="19" fill="#BC1545"/>
<rect x="2212" y="863" width="97" height="19" fill="#BD1646"/>
<rect x="2309" y="863" width="19" height="19" fill="#BC6699"/>
<rect x="1730" y="882" width="19" height="20" fill="#7B25A0"/>
<rect x="1749" y="882" width="20" height="20" fill="#751F9F"/>
<rect x="1769" y="882" width="19" height="20" fill="#6C169B"/>
<rect x="1788" y="882" width="96" height="20" fill="#6B159A"/>
<rect x="1884" y="882" width="20" height="20" fill="#6E189B"/>
<rect x="1904" y="882" width="19" height="20" fill="#80299F"/>
<rect x="1923" y="882" width="19" height="20" fill="#A0499E"/>
<rect x="1942" y="882" width="19" height="20" fill="#B35A9A"/>
<rect x="1961" y="882" width="20" height="20" fill="#C05E8B"/>
<rect x="1981" y="882" width="19" height="20" fill="#C25A84"/>
<rect x="2000" y="882" width="19" height="20" fill="#C3456E"/>
<rect x="2019" y="882" width="20" height="20" fill="#C1315A"/>
<rect x="2039" y="882" width="19" height="20" fill="#C02E57"/>
<rect x="2058" y="882" width="19" height="20" fill="#BC1948"/>
<rect x="2077" y="882" width="19" height="20" fill="#B70F40"/>
<rect x="2096" y="882" width="20" height="20" fill="#BC1545"/>
<rect x="2116" y="882" width="38" height="20" fill="#BD1646"/>
<rect x="2154" y="882" width="20" height="20" fill="#BD1546"/>
<rect x="2174" y="882" width="38" height="20" fill="#B80F40"/>
<rect x="2212" y="882" width="19" height="20" fill="#BD1546"/>
<rect x="2231" y="882" width="78" height="20" fill="#BD1646"/>
<rect x="2309" y="882" width="19" height="20" fill="#BC6699"/>
<rect x="1730" y="902" width="19" height="19" fill="#7B25A0"/>
<rect x="1749" y="902" width="20" height="19" fill="#751F9F"/>
<rect x="1769" y="902" width="19" height="19" fill="#6C169B"/>
<rect x="1788" y="902" width="58" height="19" fill="#6B159A"/>
<rect x="1846" y="902" width="19" height="19" fill="#6C169A"/>
<rect x="1865" y="902" width="19" height="19" fill="#6B159A"/>
<rect x="1884" y="902" width="20" height="19" fill="#6C169B"/>
<rect x="1904" y="902" width="19" height="19" fill="#7D279F"/>
<rect x="1923" y="902" width="19" height="19" fill="#9A44A0"/>
<rect x="1942" y="902" width="19" height="19" fill="#A34C9E"/>
<rect x="1961" y="902" width="20" height="19" fill="#BE5F8E"/>
<rect x="1981" y="902" width="19" height="19" fill="#C25D87"/>
<rect x="2000" y="902" width="19" height="19" fill="#C13760"/>
<rect x="2019" y="902" width="20" height="19" fill="#C1315A"/>
<rect x="2039" y="902" width="19" height="19" fill="#C12F58"/>
<rect x="2058" y="902" width="19" height="19" fill="#BF2954"/>
<rect x="2077" y="902" width="19" height="19" fill="#B81041"/>
<rect x="2096" y="902" width="20" height="19" fill="#BC1545"/>
<rect x="2116" y="902" width="58" height="19" fill="#BD1646"/>
<rect x="2174" y="902" width="38" height="19" fill="#BC1545"/>
<rect x="2212" y="902" width="19" height="19" fill="#BD1546"/>
<rect x="2231" y="902" width="78" height="19" fill="#BD1646"/>
<rect x="2309" y="902" width="19" height="19" fill="#BC6699"/>
<rect x="1730" y="921" width="19" height="19" fill="#7B25A0"/>
<rect x="1749" y="921" width="20" height="19" fill="#751F9F"/>
<rect x="1769" y="921" width="19" height="19" fill="#6C169B"/>
<rect x="1788" y="921" width="38" height="19" fill="#6B159A"/>
<rect x="1826" y="921" width="20" height="19" fill="#6C169B"/>
<rect x="1846" y="921" width="19" height="19" fill="#77219E"/>
<rect x="1865" y="921" width="19" height="19" fill="#6C169B"/>
<rect x="1884" y="921" width="20" height="19" fill="#6B159A"/>
<rect x="1904" y="921" width="19" height="19" fill="#701A9B"/>
<rect x="1923" y="921" width="19" height="19" fill="#89359F"/>
<rect x="1942" y="921" width="19" height="19" fill="#933E9E"/>
<rect x="1961" y="921" width="20" height="19" fill="#BD5E8E"/>
<rect x="1981" y="921" width="19" height="19" fill="#C25B85"/>
<rect x="2000" y="921" width="19" height="19" fill="#C1355E"/>
<rect x="2019" y="921" width="20" height="19" fill="#C13059"/>
<rect x="2039" y="921" width="19" height="19" fill="#C02E57"/>
<rect x="2058" y="921" width="19" height="19" fill="#BD1948"/>
<rect x="2077" y="921" width="19" height="19" fill="#B81041"/>
<rect x="2096" y="921" width="20" height="19" fill="#BD1747"/>
<rect x="2116" y="921" width="19" height="19" fill="#BD1848"/>
<rect x="2135" y="921" width="19" height="19" fill="#BD1747"/>
<rect x="2154" y="921" width="20" height="19" fill="#BD1646"/>
<rect x="2174" y="921" width="19" height="19" fill="#BD1546"/>
<rect x="2193" y="921" width="19" height="19" fill="#B80F41"/>
<rect x="2212" y="921" width="19" height="19" fill="#BD1546"/>
<rect x="2231" y="921" width="78" height="19" fill="#BD1646"/>
<rect x="2309" y="921" width="19" height="19" fill="#BC6699"/>
<rect x="1730" y="940" width="19" height="19" fill="#7B25A0"/>
<rect x="1749" y="940" width="20" height="19" fill="#751F9F"/>
<rect x="1769" y="940" width="19" height="19" fill="#6C169B"/>
<rect x="1788" y="940" width="38" height="19" fill="#6B159A"/>
<rect x="1826" y="940" width="20" height="19" fill="#6D179B"/>
<rect x="1846" y="940" width="19" height="19" fill="#78229F"/>
<rect x="1865" y="940" width="19" height="19" fill="#6D179B"/>
<rect x="1884" y="940" width="20" height="19" fill="#6B159A"/>
<rect x="1904" y="940" width="19" height="19" fill="#6F199B"/>
<rect x="1923" y="940" width="19" height="19" fill="#8A369F"/>
<rect x="1942" y="940" width="19" height="19" fill="#A34A9B"/>
<rect x="1961" y="940" width="20" height="19" fill="#BF5A88"/>
<rect x="1981" y="940" width="19" height="19" fill="#C34871"/>
<rect x="2000" y="940" width="19" height="19" fill="#C1325B"/>
<rect x="2019" y="940" width="20" height="19" fill="#C12E57"/>
<rect x="2039" y="940" width="19" height="19" fill="#C02A55"/>
<rect x="2058" y="940" width="19" height="19" fill="#B91142"/>
<rect x="2077" y="940" width="19" height="19" fill="#BC1646"/>
<rect x="2096" y="940" width="20" height="19" fill="#C02853"/>
<rect x="2116" y="940" width="19" height="19" fill="#C02954"/>
<rect x="2135" y="940" width="19" height="19" fill="#BD1747"/>
<rect x="2154" y="940" width="39" height="19" fill="#BD1646"/>
<rect x="2193" y="940" width="19" height="19" fill="#BD1546"/>
<rect x="2212" y="940" width="97" height="19" fill="#BD1646"/>
<rect x="2309" y="940" width="19" height="19" fill="#BC6699"/>
<rect x="1730" y="959" width="19" height="20" fill="#79239F"/>
<rect x="1749" y="959" width="20" height="20" fill="#751F9F"/>
<rect x="1769" y="959" width="19" height="20" fill="#6D179A"/>
<rect x="1788" y="959" width="38" height="20" fill="#6C169A"/>
<rect x="1826" y="959" width="20" height="20" fill="#6D179A"/>
<rect x="1846" y="959" width="19" height="20" fill="#78229E"/>
<rect x="1865" y="959" width="19" height="20" fill="#6D179A"/>
<rect x="1884" y="959" width="20" height="20" fill="#6B159A"/>
<rect x="1904" y="959" width="19" height="20" fill="#6B169A"/>
<rect x="1923" y="959" width="19" height="20" fill="#9B449E"/>
<rect x="1942" y="959" width="19" height="20" fill="#BB5A8D"/>
<rect x="1961" y="959" width="20" height="20" fill="#C03A65"/>
<rect x="1981" y="959" width="19" height="20" fill="#C1345D"/>
<rect x="2000" y="959" width="19" height="20" fill="#C12F58"/>
<rect x="2019" y="959" width="20" height="20" fill="#BE1B4A"/>
<rect x="2039" y="959" width="19" height="20" fill="#BD1847"/>
<rect x="2058" y="959" width="38" height="20" fill="#BD1646"/>
<rect x="2096" y="959" width="39" height="20" fill="#BD1847"/>
<rect x="2135" y="959" width="174" height="20" fill="#BD1646"/>
<rect x="2309" y="959" width="19" height="20" fill="#BC6699"/>
<rect x="1730" y="979" width="19" height="19" fill="#67119A"/>
<rect x="1749" y="979" width="20" height="19" fill="#6F199A"/>
<rect x="1769" y="979" width="38" height="19" fill="#701A99"/>
<rect x="1807" y="979" width="19" height="19" fill="#711B9A"/>
<rect x="1826" y="979" width="20" height="19" fill="#721C9A"/>
<rect x="1846" y="979" width="19" height="19" fill="#731D9A"/>
<rect x="1865" y="979" width="19" height="19" fill="#721C9A"/>
<rect x="1884" y="979" width="20" height="19" fill="#701A9A"/>
<rect x="1904" y="979" width="19" height="19" fill="#6D179A"/>
<rect x="1923" y="979" width="19" height="19" fill="#9C469E"/>
<rect x="1942" y="979" width="19" height="19" fill="#B35898"/>
<rect x="1961" y="979" width="20" height="19" fill="#C24872"/>
<rect x="1981" y="979" width="19" height="19" fill="#C1325B"/>
<rect x="2000" y="979" width="19" height="19" fill="#C12D57"/>
<rect x="2019" y="979" width="20" height="19" fill="#BD1948"/>
<rect x="2039" y="979" width="19" height="19" fill="#BD1646"/>
<rect x="2058" y="979" width="19" height="19" fill="#BD1747"/>
<rect x="2077" y="979" width="19" height="19" fill="#BD1848"/>
<rect x="2096" y="979" width="20" height="19" fill="#BD1747"/>
<rect x="2116" y="979" width="19" height="19" fill="#B80F41"/>
<rect x="2135" y="979" width="19" height="19" fill="#BC1545"/>
<rect x="2154" y="979" width="39" height="19" fill="#BD1646"/>
<rect x="2193" y="979" width="38" height="19" fill="#BC1545"/>
<rect x="2231" y="979" width="78" height="19" fill="#BD1646"/>
<rect x="2309" y="979" width="19" height="19" fill="#BC6699"/>
<rect x="1730" y="998" width="19" height="19" fill="#650F99"/>
<rect x="1749" y="998" width="20" height="19" fill="#671199"/>
<rect x="1769" y="998" width="19" height="19" fill="#681299"/>
<rect x="1788" y="998" width="19" height="19" fill="#701A99"/>
<rect x="1807" y="998" width="19" height="19" fill="#79239E"/>
<rect x="1826" y="998" width="58" height="19" fill="#7A249E"/>
<rect x="1884" y="998" width="20" height="19" fill="#79239E"/>
<rect x="1904" y="998" width="19" height="19" fill="#76209A"/>
<rect x="1923" y="998" width="19" height="19" fill="#9B459F"/>
<rect x="1942" y="998" width="19" height="19" fill="#B05699"/>
<rect x="1961" y="998" width="20" height="19" fill="#C14974"/>
<rect x="1981" y="998" width="19" height="19" fill="#C1335C"/>
<rect x="2000" y="998" width="19" height="19" fill="#C12D57"/>
<rect x="2019" y="998" width="20" height="19" fill="#BD1948"/>
<rect x="2039" y="998" width="19" height="19" fill="#BD1646"/>
<rect x="2058" y="998" width="19" height="19" fill="#BD1747"/>
<rect x="2077" y="998" width="39" height="19" fill="#BF2853"/>
<rect x="2116" y="998" width="19" height="19" fill="#B81041"/>
<rect x="2135" y="998" width="19" height="19" fill="#B80F40"/>
<rect x="2154" y="998" width="39" height="19" fill="#BC1545"/>
<rect x="2193" y="998" width="38" height="19" fill="#B70E3F"/>
<rect x="2231" y="998" width="20" height="19" fill="#BC1445"/>
<rect x="2251" y="998" width="58" height="19" fill="#BC1545"/>
<rect x="2309" y="998" width="19" height="19" fill="#BC6699"/>
<rect x="1730" y="1017" width="19" height="20" fill="#67119A"/>
<rect x="1749" y="1017" width="20" height="20" fill="#77219E"/>
<rect x="1769" y="1017" width="19" height="20" fill="#701A9A"/>
<rect x="1788" y="1017" width="19" height="20" fill="#681299"/>
<rect x="1807" y="1017" width="19" height="20" fill="#711B9A"/>
<rect x="1826" y="1017" width="78" height="20" fill="#721C9A"/>
<rect x="1904" y="1017" width="19" height="20" fill="#741E9A"/>
<rect x="1923" y="1017" width="19" height="20" fill="#8A359F"/>
<rect x="1942" y="1017" width="19" height="20" fill="#A2489B"/>
<rect x="1961" y="1017" width="20" height="20" fill="#BF4976"/>
<rect x="1981" y="1017" width="19" height="20" fill="#C1355E"/>
<rect x="2000" y="1017" width="19" height="20" fill="#C12E58"/>
<rect x="2019" y="1017" width="20" height="20" fill="#BD1948"/>
<rect x="2039" y="1017" width="38" height="20" fill="#BD1646"/>
<rect x="2077" y="1017" width="19" height="20" fill="#B91242"/>
<rect x="2096" y="1017" width="20" height="20" fill="#BD1747"/>
<rect x="2116" y="1017" width="19" height="20" fill="#BD1646"/>
<rect x="2135" y="1017" width="19" height="20" fill="#BC1545"/>
<rect x="2154" y="1017" width="20" height="20" fill="#BC1445"/>
<rect x="2174" y="1017" width="19" height="20" fill="#B70D3F"/>
<rect x="2193" y="1017" width="38" height="20" fill="#B60C3E"/>
<rect x="2231" y="1017" width="78" height="20" fill="#B70D3F"/>
<rect x="2309" y="1017" width="19" height="20" fill="#BC6699"/>
<rect x="1730" y="1037" width="19" height="19" fill="#6A149B"/>
<rect x="1749" y="1037" width="39" height="19" fill="#7B259F"/>
<rect x="1788" y="1037" width="19" height="19" fill="#6A149A"/>
<rect x="1807" y="1037" width="97" height="19" fill="#701A99"/>
<rect x="1904" y="1037" width="19" height="19" fill="#721C9A"/>
<rect x="1923" y="1037" width="19" height="19" fill="#7D289F"/>
<rect x="1942" y="1037" width="19" height="19" fill="#903A9D"/>
<rect x="1961" y="1037" width="20" height="19" fill="#BD5989"/>
<rect x="1981" y="1037" width="19" height="19" fill="#C34870"/>
<rect x="2000" y="1037" width="19" height="19" fill="#C12F59"/>
<rect x="2019" y="1037" width="20" height="19" fill="#BD1948"/>
<rect x="2039" y="1037" width="38" height="19" fill="#BD1646"/>
<rect x="2077" y="1037" width="19" height="19" fill="#BD1546"/>
<rect x="2096" y="1037" width="39" height="19" fill="#BD1646"/>
<rect x="2135" y="1037" width="19" height="19" fill="#BD1546"/>
<rect x="2154" y="1037" width="20" height="19" fill="#B80F40"/>
<rect x="2174" y="1037" width="19" height="19" fill="#B70D3F"/>
<rect x="2193" y="1037" width="116" height="19" fill="#B60C3E"/>
<rect x="2309" y="1037" width="19" height="19" fill="#BC6699"/>
<rect x="1730" y="1056" width="19" height="19" fill="#7D279F"/>
<rect x="1749" y="1056" width="39" height="19" fill="#8733A0"/>
<rect x="1788" y="1056" width="19" height="19" fill="#7C269F"/>
<rect x="1807" y="1056" width="19" height="19" fill="#711C9A"/>
<rect x="1826" y="1056" width="20" height="19" fill="#671199"/>
<rect x="1846" y="1056" width="58" height="19" fill="#650F99"/>
<rect x="1904" y="1056" width="19" height="19" fill="#68129A"/>
<rect x="1923" y="1056" width="19" height="19" fill="#7B259F"/>
<rect x="1942" y="1056" width="19" height="19" fill="#8F399E"/>
<rect x="1961" y="1056" width="20" height="19" fill="#BC5A8B"/>
<rect x="1981" y="1056" width="19" height="19" fill="#C34A72"/>
<rect x="2000" y="1056" width="19" height="19" fill="#C1305A"/>
<rect x="2019" y="1056" width="20" height="19" fill="#BD1948"/>
<rect x="2039" y="1056" width="115" height="19" fill="#BD1646"/>
<rect x="2154" y="1056" width="20" height="19" fill="#BC1545"/>
<rect x="2174" y="1056" width="19" height="19" fill="#BC1445"/>
<rect x="2193" y="1056" width="19" height="19" fill="#B70E3F"/>
<rect x="2212" y="1056" width="97" height="19" fill="#B70D3F"/>
<rect x="2309" y="1056" width="19" height="19" fill="#BC6699"/>
<rect x="1730" y="1075" width="19" height="19" fill="#8C38A0"/>
<rect x="1749" y="1075" width="39" height="19" fill="#8D39A0"/>
<rect x="1788" y="1075" width="19" height="19" fill="#8B37A0"/>
<rect x="1807" y="1075" width="19" height="19" fill="#7D279F"/>
<rect x="1826" y="1075" width="20" height="19" fill="#67119A"/>
<rect x="1846" y="1075" width="58" height="19" fill="#640E99"/>
<rect x="1904" y="1075" width="19" height="19" fill="#67119A"/>
<rect x="1923" y="1075" width="19" height="19" fill="#7B259F"/>
<rect x="1942" y="1075" width="19" height="19" fill="#8F399E"/>
<rect x="1961" y="1075" width="20" height="19" fill="#BC5A8B"/>
<rect x="1981" y="1075" width="19" height="19" fill="#C34A72"/>
<rect x="2000" y="1075" width="19" height="19" fill="#C1315A"/>
<rect x="2019" y="1075" width="20" height="19" fill="#BE1A49"/>
<rect x="2039" y="1075" width="19" height="19" fill="#BD1747"/>
<rect x="2058" y="1075" width="135" height="19" fill="#BD1646"/>
<rect x="2193" y="1075" width="116" height="19" fill="#BC1545"/>
<rect x="2309" y="1075" width="19" height="19" fill="#BC6699"/>
<rect x="1730" y="1094" width="19" height="20" fill="#A24B9F"/>
<rect x="1749" y="1094" width="20" height="20" fill="#AD569D"/>
<rect x="1769" y="1094" width="19" height="20" fill="#A34C9E"/>
<rect x="1788" y="1094" width="19" height="20" fill="#AC569D"/>
<rect x="1807" y="1094" width="19" height="20" fill="#9A439E"/>
<rect x="1826" y="1094" width="20" height="20" fill="#6A149A"/>
<rect x="1846" y="1094" width="58" height="20" fill="#640E99"/>
<rect x="1904" y="1094" width="19" height="20" fill="#67119A"/>
<rect x="1923" y="1094" width="19" height="20" fill="#7B259F"/>
<rect x="1942" y="1094" width="19" height="20" fill="#8F399E"/>
<rect x="1961" y="1094" width="20" height="20" fill="#BC5A8B"/>
<rect x="1981" y="1094" width="19" height="20" fill="#C34A72"/>
<rect x="2000" y="1094" width="19" height="20" fill="#C1315B"/>
<rect x="2019" y="1094" width="20" height="20" fill="#C02A55"/>
<rect x="2039" y="1094" width="19" height="20" fill="#BD1747"/>
<rect x="2058" y="1094" width="19" height="20" fill="#BD1546"/>
<rect x="2077" y="1094" width="232" height="20" fill="#BD1646"/>
<rect x="2309" y="1094" width="19" height="20" fill="#BC6699"/>
<rect x="1730" y="1114" width="19" height="19" fill="#B45A99"/>
<rect x="1749" y="1114" width="20" height="19" fill="#BE5D8C"/>
<rect x="1769" y="1114" width="19" height="19" fill="#BF5F8D"/>
<rect x="1788" y="1114" width="19" height="19" fill="#BE608F"/>
<rect x="1807" y="1114" width="19" height="19" fill="#AA539B"/>
<rect x="1826" y="1114" width="20" height="19" fill="#6D1699"/>
<rect x="1846" y="1114" width="58" height="19" fill="#640E99"/>
<rect x="1904" y="1114" width="19" height="19" fill="#67119A"/>
<rect x="1923" y="1114" width="19" height="19" fill="#7C279F"/>
<rect x="1942" y="1114" width="19" height="19" fill="#903B9E"/>
<rect x="1961" y="1114" width="20" height="19" fill="#BD5B8B"/>
<rect x="1981" y="1114" width="19" height="19" fill="#C34A72"/>
<rect x="2000" y="1114" width="19" height="19" fill="#C1315A"/>
<rect x="2019" y="1114" width="20" height="19" fill="#BD1A49"/>
<rect x="2039" y="1114" width="19" height="19" fill="#BC1545"/>
<rect x="2058" y="1114" width="19" height="19" fill="#B80F40"/>
<rect x="2077" y="1114" width="19" height="19" fill="#BC1545"/>
<rect x="2096" y="1114" width="213" height="19" fill="#BD1646"/>
<rect x="2309" y="1114" width="19" height="19" fill="#BC6699"/>
<rect x="1730" y="1133" width="19" height="19" fill="#C15985"/>
<rect x="1749" y="1133" width="20" height="19" fill="#C13B65"/>
<rect x="1769" y="1133" width="19" height="19" fill="#C25B85"/>
<rect x="1788" y="1133" width="19" height="19" fill="#C2608A"/>
<rect x="1807" y="1133" width="19" height="19" fill="#B7588E"/>
<rect x="1826" y="1133" width="20" height="19" fill="#6E1798"/>
<rect x="1846" y="1133" width="58" height="19" fill="#640E99"/>
<rect x="1904" y="1133" width="19" height="19" fill="#68129A"/>
<rect x="1923" y="1133" width="19" height="19" fill="#87329F"/>
<rect x="1942" y="1133" width="19" height="19" fill="#A0499E"/>
<rect x="1961" y="1133" width="20" height="19" fill="#BE5C8B"/>
<rect x="1981" y="1133" width="19" height="19" fill="#C34A72"/>
<rect x="2000" y="1133" width="19" height="19" fill="#C1305A"/>
<rect x="2019" y="1133" width="20" height="19" fill="#BD1848"/>
<rect x="2039" y="1133" width="19" height="19" fill="#B80F40"/>
<rect x="2058" y="1133" width="19" height="19" fill="#B80E40"/>
<rect x="2077" y="1133" width="19" height="19" fill="#BC1545"/>
<rect x="2096" y="1133" width="213" height="19" fill="#BD1646"/>
<rect x="2309" y="1133" width="19" height="19" fill="#BC6699"/>
<rect x="1730" y="1152" width="19" height="20" fill="#C3456E"/>
<rect x="1749" y="1152" width="20" height="20" fill="#BF2452"/>
<rect x="1769" y="1152" width="19" height="20" fill="#C3456E"/>
<rect x="1788" y="1152" width="19" height="20" fill="#C34B74"/>
<rect x="1807" y="1152" width="19" height="20" fill="#BA5588"/>
<rect x="1826" y="1152" width="20" height="20" fill="#751C97"/>
<rect x="1846" y="1152" width="19" height="20" fill="#6A149A"/>
<rect x="1865" y="1152" width="19" height="20" fill="#661099"/>
<rect x="1884" y="1152" width="20" height="20" fill="#640E99"/>
<rect x="1904" y="1152" width="19" height="20" fill="#68129A"/>
<rect x="1923" y="1152" width="19" height="20" fill="#88349F"/>
<rect x="1942" y="1152" width="19" height="20" fill="#A14A9E"/>
<rect x="1961" y="1152" width="20" height="20" fill="#BE5D8B"/>
<rect x="1981" y="1152" width="19" height="20" fill="#C34972"/>
<rect x="2000" y="1152" width="19" height="20" fill="#C12F59"/>
<rect x="2019" y="1152" width="20" height="20" fill="#BD1847"/>
<rect x="2039" y="1152" width="38" height="20" fill="#BC1545"/>
<rect x="2077" y="1152" width="232" height="20" fill="#BD1646"/>
<rect x="2309" y="1152" width="19" height="20" fill="#BC6699"/>
<rect x="1730" y="1172" width="19" height="19" fill="#C3426B"/>
<rect x="1749" y="1172" width="20" height="19" fill="#BE1F4D"/>
<rect x="1769" y="1172" width="19" height="19" fill="#C02D57"/>
<rect x="1788" y="1172" width="19" height="19" fill="#C1315B"/>
<rect x="1807" y="1172" width="19" height="19" fill="#BE3663"/>
<rect x="1826" y="1172" width="20" height="19" fill="#AD5196"/>
<rect x="1846" y="1172" width="19" height="19" fill="#98419E"/>
<rect x="1865" y="1172" width="19" height="19" fill="#6A149A"/>
<rect x="1884" y="1172" width="20" height="19" fill="#640E99"/>
<rect x="1904" y="1172" width="19" height="19" fill="#67129A"/>
<rect x="1923" y="1172" width="19" height="19" fill="#88349F"/>
<rect x="1942" y="1172" width="19" height="19" fill="#A24B9E"/>
<rect x="1961" y="1172" width="20" height="19" fill="#BF5C8B"/>
<rect x="1981" y="1172" width="19" height="19" fill="#C34770"/>
<rect x="2000" y="1172" width="19" height="19" fill="#BE1E4C"/>
<rect x="2019" y="1172" width="20" height="19" fill="#BD1747"/>
<rect x="2039" y="1172" width="270" height="19" fill="#BD1646"/>
<rect x="2309" y="1172" width="19" height="19" fill="#BC6699"/>
<rect x="1730" y="1191" width="19" height="19" fill="#C3436C"/>
<rect x="1749" y="1191" width="20" height="19" fill="#BE1E4D"/>
<rect x="1769" y="1191" width="19" height="19" fill="#BE1A49"/>
<rect x="1788" y="1191" width="19" height="19" fill="#BE1D4B"/>
<rect x="1807" y="1191" width="19" height="19" fill="#C0335D"/>
<rect x="1826" y="1191" width="20" height="19" fill="#BF5987"/>
<rect x="1846" y="1191" width="19" height="19" fill="#AE5499"/>
<rect x="1865" y="1191" width="19" height="19" fill="#7B2499"/>
<rect x="1884" y="1191" width="20" height="19" fill="#68129A"/>
<rect x="1904" y="1191" width="19" height="19" fill="#5D0E9F"/>
<rect x="1923" y="1191" width="19" height="19" fill="#8936A0"/>
<rect x="1942" y="1191" width="19" height="19" fill="#AF589C"/>
<rect x="1961" y="1191" width="20" height="19" fill="#C05D8A"/>
<rect x="1981" y="1191" width="19" height="19" fill="#C13861"/>
<rect x="2000" y="1191" width="19" height="19" fill="#C12E58"/>
<rect x="2019" y="1191" width="20" height="19" fill="#BE1A49"/>
<rect x="2039" y="1191" width="19" height="19" fill="#BD1848"/>
<rect x="2058" y="1191" width="19" height="19" fill="#BD1747"/>
<rect x="2077" y="1191" width="232" height="19" fill="#BD1646"/>
<rect x="2309" y="1191" width="19" height="19" fill="#BC6699"/>
<rect x="1730" y="1210" width="19" height="19" fill="#C3456E"/>
<rect x="1749" y="1210" width="20" height="19" fill="#C02E58"/>
<rect x="1769" y="1210" width="19" height="19" fill="#BD1948"/>
<rect x="1788" y="1210" width="19" height="19" fill="#BF2954"/>
<rect x="1807" y="1210" width="19" height="19" fill="#C02F59"/>
<rect x="1826" y="1210" width="20" height="19" fill="#C3456F"/>
<rect x="1846" y="1210" width="19" height="19" fill="#BF4B78"/>
<rect x="1865" y="1210" width="19" height="19" fill="#AC5299"/>
<rect x="1884" y="1210" width="20" height="19" fill="#86329F"/>
<rect x="1904" y="1210" width="19" height="19" fill="#6112A0"/>
<rect x="1923" y="1210" width="19" height="19" fill="#99449F"/>
<rect x="1942" y="1210" width="19" height="19" fill="#B35A9A"/>
<rect x="1961" y="1210" width="20" height="19" fill="#C15B87"/>
<rect x="1981" y="1210" width="19" height="19" fill="#C3446D"/>
<rect x="2000" y="1210" width="19" height="19" fill="#C12E58"/>
<rect x="2019" y="1210" width="20" height="19" fill="#C02B55"/>
<rect x="2039" y="1210" width="19" height="19" fill="#C02954"/>
<rect x="2058" y="1210" width="19" height="19" fill="#BD1747"/>
<rect x="2077" y="1210" width="232" height="19" fill="#BD1646"/>
<rect x="2309" y="1210" width="19" height="19" fill="#BC6699"/>
<rect x="1730" y="1229" width="19" height="20" fill="#C4466E"/>
<rect x="1749" y="1229" width="20" height="20" fill="#C02F59"/>
<rect x="1769" y="1229" width="19" height="20" fill="#B81243"/>
<rect x="1788" y="1229" width="19" height="20" fill="#B81142"/>
<rect x="1807" y="1229" width="19" height="20" fill="#BD1A49"/>
<rect x="1826" y="1229" width="20" height="20" fill="#BE214F"/>
<rect x="1846" y="1229" width="19" height="20" fill="#C34972"/>
<rect x="1865" y="1229" width="19" height="20" fill="#BC5B8D"/>
<rect x="1884" y="1229" width="20" height="20" fill="#99439E"/>
<rect x="1904" y="1229" width="19" height="20" fill="#6416A0"/>
<rect x="1923" y="1229" width="19" height="20" fill="#A7519D"/>
<rect x="1942" y="1229" width="19" height="20" fill="#BE5E8E"/>
<rect x="1961" y="1229" width="20" height="20" fill="#C24A74"/>
<rect x="1981" y="1229" width="19" height="20" fill="#BE2250"/>
<rect x="2000" y="1229" width="19" height="20" fill="#BE1B4A"/>
<rect x="2019" y="1229" width="20" height="20" fill="#BE1A49"/>
<rect x="2039" y="1229" width="19" height="20" fill="#BD1948"/>
<rect x="2058" y="1229" width="19" height="20" fill="#BD1747"/>
<rect x="2077" y="1229" width="232" height="20" fill="#BD1646"/>
<rect x="2309" y="1229" width="19" height="20" fill="#BC6699"/>
<rect x="1730" y="1249" width="598" height="19" fill="#BC6699"/>
</g>
<g fill="#0a0a14">
<circle cx="494.0" cy="63.1" r="1.55"/>
<circle cx="506.6" cy="81.5" r="1.55"/>
<circle cx="507.6" cy="82.6" r="1.55"/>
<circle cx="487.3" cy="96.4" r="1.55"/>
<circle cx="484.1" cy="101.2" r="1.55"/>
<circle cx="474.3" cy="121.4" r="1.55"/>
<circle cx="469.4" cy="140.2" r="1.55"/>
<circle cx="468.2" cy="143.3" r="1.55"/>
<circle cx="456.2" cy="159.2" r="1.55"/>
<circle cx="449.2" cy="171.3" r="1.55"/>
<circle cx="447.3" cy="178.3" r="1.55"/>
<circle cx="443.2" cy="198.3" r="1.55"/>
<circle cx="441.3" cy="217.3" r="1.55"/>
<circle cx="437.2" cy="236.3" r="1.55"/>
<circle cx="443.2" cy="256.6" r="1.55"/>
<circle cx="449.2" cy="271.3" r="1.55"/>
<circle cx="451.6" cy="275.4" r="1.55"/>
<circle cx="449.2" cy="279.5" r="1.55"/>
<circle cx="441.3" cy="294.4" r="1.55"/>
<circle cx="431.4" cy="313.4" r="1.55"/>
<circle cx="429.0" cy="315.1" r="1.55"/>
<circle cx="410.2" cy="325.5" r="1.55"/>
<circle cx="405.1" cy="333.4" r="1.55"/>
<circle cx="397.2" cy="352.4" r="1.55"/>
<circle cx="391.1" cy="357.5" r="1.55"/>
<circle cx="371.5" cy="361.4" r="1.55"/>
<circle cx="352.5" cy="368.5" r="1.55"/>
<circle cx="343.3" cy="371.6" r="1.55"/>
<circle cx="333.5" cy="381.3" r="1.55"/>
<circle cx="327.4" cy="391.4" r="1.55"/>
<circle cx="325.3" cy="410.4" r="1.55"/>
<circle cx="323.3" cy="429.4" r="1.55"/>
<circle cx="326.2" cy="448.4" r="1.55"/>
<circle cx="330.3" cy="468.2" r="1.55"/>
<circle cx="331.3" cy="487.2" r="1.55"/>
<circle cx="331.3" cy="506.5" r="1.55"/>
<circle cx="324.3" cy="526.5" r="1.55"/>
<circle cx="317.3" cy="545.5" r="1.55"/>
<circle cx="314.4" cy="548.1" r="1.55"/>
<circle cx="294.4" cy="564.3" r="1.55"/>
<circle cx="286.3" cy="583.3" r="1.55"/>
<circle cx="279.3" cy="603.3" r="1.55"/>
<circle cx="276.1" cy="622.3" r="1.55"/>
<circle cx="275.2" cy="626.1" r="1.55"/>
<circle cx="269.2" cy="641.6" r="1.55"/>
<circle cx="259.3" cy="661.5" r="1.55"/>
<circle cx="275.9" cy="679.9" r="1.55"/>
<circle cx="286.3" cy="699.4" r="1.55"/>
<circle cx="290.4" cy="718.2" r="1.55"/>
<circle cx="293.2" cy="738.4" r="1.55"/>
<circle cx="285.3" cy="757.2" r="1.55"/>
<circle cx="277.4" cy="776.2" r="1.55"/>
<circle cx="275.2" cy="778.4" r="1.55"/>
<circle cx="261.7" cy="776.2" r="1.55"/>
<circle cx="256.4" cy="775.2" r="1.55"/>
<circle cx="251.6" cy="776.2" r="1.55"/>
<circle cx="236.2" cy="784.1" r="1.55"/>
<circle cx="229.2" cy="796.2" r="1.55"/>
<circle cx="217.2" cy="808.2" r="1.55"/>
<circle cx="215.2" cy="815.2" r="1.55"/>
<circle cx="214.3" cy="834.2" r="1.55"/>
<circle cx="215.2" cy="853.2" r="1.55"/>
<circle cx="217.2" cy="863.4" r="1.55"/>
<circle cx="228.2" cy="873.5" r="1.55"/>
<circle cx="236.2" cy="878.3" r="1.55"/>
<circle cx="256.4" cy="886.2" r="1.55"/>
<circle cx="265.3" cy="892.3" r="1.55"/>
<circle cx="256.6" cy="909.8" r="1.55"/>
<circle cx="255.8" cy="911.0" r="1.55"/>
<circle cx="256.4" cy="917.3" r="1.55"/>
<circle cx="257.4" cy="930.9" r="1.55"/>
<circle cx="256.2" cy="932.0" r="1.55"/>
<circle cx="246.3" cy="950.3" r="1.55"/>
<circle cx="236.2" cy="969.5" r="1.55"/>
<circle cx="241.4" cy="988.4" r="1.55"/>
<circle cx="242.4" cy="1008.4" r="1.55"/>
<circle cx="244.5" cy="1027.2" r="1.55"/>
<circle cx="252.4" cy="1046.4" r="1.55"/>
<circle cx="252.4" cy="1066.3" r="1.55"/>
<circle cx="250.3" cy="1085.2" r="1.55"/>
<circle cx="250.3" cy="1104.3" r="1.55"/>
<circle cx="250.3" cy="1123.5" r="1.55"/>
<circle cx="250.3" cy="1143.4" r="1.55"/>
<circle cx="251.3" cy="1162.3" r="1.55"/>
<circle cx="249.3" cy="1181.4" r="1.55"/>
<circle cx="246.5" cy="1201.3" r="1.55"/>
<circle cx="242.4" cy="1220.2" r="1.55"/>
<circle cx="1352.0" cy="63.1" r="1.55"/>
<circle cx="1364.6" cy="81.5" r="1.55"/>
<circle cx="1365.6" cy="82.6" r="1.55"/>
<circle cx="1345.3" cy="96.4" r="1.55"/>
<circle cx="1342.1" cy="101.2" r="1.55"/>
<circle cx="1332.3" cy="121.4" r="1.55"/>
<circle cx="1327.4" cy="140.2" r="1.55"/>
<circle cx="1326.2" cy="143.3" r="1.55"/>
<circle cx="1314.2" cy="159.2" r="1.55"/>
<circle cx="1307.2" cy="171.3" r="1.55"/>
<circle cx="1305.3" cy="178.3" r="1.55"/>
<circle cx="1301.2" cy="198.3" r="1.55"/>
<circle cx="1299.3" cy="217.3" r="1.55"/>
<circle cx="1295.2" cy="236.3" r="1.55"/>
<circle cx="1301.2" cy="256.6" r="1.55"/>
<circle cx="1307.2" cy="271.3" r="1.55"/>
<circle cx="1309.6" cy="275.4" r="1.55"/>
<circle cx="1307.2" cy="279.5" r="1.55"/>
<circle cx="1299.3" cy="294.4" r="1.55"/>
<circle cx="1289.4" cy="313.4" r="1.55"/>
<circle cx="1287.0" cy="315.1" r="1.55"/>
<circle cx="1268.2" cy="325.5" r="1.55"/>
<circle cx="1263.1" cy="333.4" r="1.55"/>
<circle cx="1255.2" cy="352.4" r="1.55"/>
<circle cx="1249.1" cy="357.5" r="1.55"/>
<circle cx="1229.5" cy="361.4" r="1.55"/>
<circle cx="1210.5" cy="368.5" r="1.55"/>
<circle cx="1201.3" cy="371.6" r="1.55"/>
<circle cx="1191.5" cy="381.3" r="1.55"/>
<circle cx="1185.4" cy="391.4" r="1.55"/>
<circle cx="1183.3" cy="410.4" r="1.55"/>
<circle cx="1181.3" cy="429.4" r="1.55"/>
<circle cx="1184.2" cy="448.4" r="1.55"/>
<circle cx="1188.3" cy="468.2" r="1.55"/>
<circle cx="1189.3" cy="487.2" r="1.55"/>
<circle cx="1189.3" cy="506.5" r="1.55"/>
<circle cx="1182.3" cy="526.5" r="1.55"/>
<circle cx="1175.3" cy="545.5" r="1.55"/>
<circle cx="1172.4" cy="548.1" r="1.55"/>
<circle cx="1152.4" cy="564.3" r="1.55"/>
<circle cx="1144.3" cy="583.3" r="1.55"/>
<circle cx="1137.3" cy="603.3" r="1.55"/>
<circle cx="1134.1" cy="622.3" r="1.55"/>
<circle cx="1133.2" cy="626.1" r="1.55"/>
<circle cx="1127.2" cy="641.6" r="1.55"/>
<circle cx="1117.3" cy="661.5" r="1.55"/>
<circle cx="1133.9" cy="679.9" r="1.55"/>
<circle cx="1144.3" cy="699.4" r="1.55"/>
<circle cx="1148.4" cy="718.2" r="1.55"/>
<circle cx="1151.2" cy="738.4" r="1.55"/>
<circle cx="1143.3" cy="757.2" r="1.55"/>
<circle cx="1135.4" cy="776.2" r="1.55"/>
<circle cx="1133.2" cy="778.4" r="1.55"/>
<circle cx="1119.7" cy="776.2" r="1.55"/>
<circle cx="1114.4" cy="775.2" r="1.55"/>
<circle cx="1109.6" cy="776.2" r="1.55"/>
<circle cx="1094.2" cy="784.1" r="1.55"/>
<circle cx="1087.2" cy="796.2" r="1.55"/>
<circle cx="1075.2" cy="808.2" r="1.55"/>
<circle cx="1073.2" cy="815.2" r="1.55"/>
<circle cx="1072.3" cy="834.2" r="1.55"/>
<circle cx="1073.2" cy="853.2" r="1.55"/>
<circle cx="1075.2" cy="863.4" r="1.55"/>
<circle cx="1086.2" cy="873.5" r="1.55"/>
<circle cx="1094.2" cy="878.3" r="1.55"/>
<circle cx="1114.4" cy="886.2" r="1.55"/>
<circle cx="1123.3" cy="892.3" r="1.55"/>
<circle cx="1114.6" cy="909.8" r="1.55"/>
<circle cx="1113.8" cy="911.0" r="1.55"/>
<circle cx="1114.4" cy="917.3" r="1.55"/>
<circle cx="1115.4" cy="930.9" r="1.55"/>
<circle cx="1114.2" cy="932.0" r="1.55"/>
<circle cx="1104.3" cy="950.3" r="1.55"/>
<circle cx="1094.2" cy="969.5" r="1.55"/>
<circle cx="1099.4" cy="988.4" r="1.55"/>
<circle cx="1100.4" cy="1008.4" r="1.55"/>
<circle cx="1102.5" cy="1027.2" r="1.55"/>
<circle cx="1110.4" cy="1046.4" r="1.55"/>
<circle cx="1110.4" cy="1066.3" r="1.55"/>
<circle cx="1108.3" cy="1085.2" r="1.55"/>
<circle cx="1108.3" cy="1104.3" r="1.55"/>
<circle cx="1108.3" cy="1123.5" r="1.55"/>
<circle cx="1108.3" cy="1143.4" r="1.55"/>
<circle cx="1109.3" cy="1162.3" r="1.55"/>
<circle cx="1107.3" cy="1181.4" r="1.55"/>
<circle cx="1104.5" cy="1201.3" r="1.55"/>
<circle cx="1100.4" cy="1220.2" r="1.55"/>
<circle cx="2209.0" cy="63.1" r="1.55"/>
<circle cx="2221.6" cy="81.5" r="1.55"/>
<circle cx="2222.6" cy="82.6" r="1.55"/>
<circle cx="2202.3" cy="96.4" r="1.55"/>
<circle cx="2199.1" cy="101.2" r="1.55"/>
<circle cx="2189.3" cy="121.4" r="1.55"/>
<circle cx="2184.4" cy="140.2" r="1.55"/>
<circle cx="2183.2" cy="143.3" r="1.55"/>
<circle cx="2171.2" cy="159.2" r="1.55"/>
<circle cx="2164.2" cy="171.3" r="1.55"/>
<circle cx="2162.3" cy="178.3" r="1.55"/>
<circle cx="2158.2" cy="198.3" r="1.55"/>
<circle cx="2156.3" cy="217.3" r="1.55"/>
<circle cx="2152.2" cy="236.3" r="1.55"/>
<circle cx="2158.2" cy="256.6" r="1.55"/>
<circle cx="2164.2" cy="271.3" r="1.55"/>
<circle cx="2166.6" cy="275.4" r="1.55"/>
<circle cx="2164.2" cy="279.5" r="1.55"/>
<circle cx="2156.3" cy="294.4" r="1.55"/>
<circle cx="2146.4" cy="313.4" r="1.55"/>
<circle cx="2144.0" cy="315.1" r="1.55"/>
<circle cx="2125.2" cy="325.5" r="1.55"/>
<circle cx="2120.1" cy="333.4" r="1.55"/>
<circle cx="2112.2" cy="352.4" r="1.55"/>
<circle cx="2106.1" cy="357.5" r="1.55"/>
<circle cx="2086.5" cy="361.4" r="1.55"/>
<circle cx="2067.5" cy="368.5" r="1.55"/>
<circle cx="2058.3" cy="371.6" r="1.55"/>
<circle cx="2048.5" cy="381.3" r="1.55"/>
<circle cx="2042.4" cy="391.4" r="1.55"/>
<circle cx="2040.3" cy="410.4" r="1.55"/>
<circle cx="2038.3" cy="429.4" r="1.55"/>
<circle cx="2041.2" cy="448.4" r="1.55"/>
<circle cx="2045.3" cy="468.2" r="1.55"/>
<circle cx="2046.3" cy="487.2" r="1.55"/>
<circle cx="2046.3" cy="506.5" r="1.55"/>
<circle cx="2039.3" cy="526.5" r="1.55"/>
<circle cx="2032.3" cy="545.5" r="1.55"/>
<circle cx="2029.4" cy="548.1" r="1.55"/>
<circle cx="2009.4" cy="564.3" r="1.55"/>
<circle cx="2001.3" cy="583.3" r="1.55"/>
<circle cx="1994.3" cy="603.3" r="1.55"/>
<circle cx="1991.1" cy="622.3" r="1.55"/>
<circle cx="1990.2" cy="626.1" r="1.55"/>
<circle cx="1984.2" cy="641.6" r="1.55"/>
<circle cx="1974.3" cy="661.5" r="1.55"/>
<circle cx="1990.9" cy="679.9" r="1.55"/>
<circle cx="2001.3" cy="699.4" r="1.55"/>
<circle cx="2005.4" cy="718.2" r="1.55"/>
<circle cx="2008.2" cy="738.4" r="1.55"/>
<circle cx="2000.3" cy="757.2" r="1.55"/>
<circle cx="1992.4" cy="776.2" r="1.55"/>
<circle cx="1990.2" cy="778.4" r="1.55"/>
<circle cx="1976.7" cy="776.2" r="1.55"/>
<circle cx="1971.4" cy="775.2" r="1.55"/>
<circle cx="1966.6" cy="776.2" r="1.55"/>
<circle cx="1951.2" cy="784.1" r="1.55"/>
<circle cx="1944.2" cy="796.2" r="1.55"/>
<circle cx="1932.2" cy="808.2" r="1.55"/>
<circle cx="1930.2" cy="815.2" r="1.55"/>
<circle cx="1929.3" cy="834.2" r="1.55"/>
<circle cx="1930.2" cy="853.2" r="1.55"/>
<circle cx="1932.2" cy="863.4" r="1.55"/>
<circle cx="1943.2" cy="873.5" r="1.55"/>
<circle cx="1951.2" cy="878.3" r="1.55"/>
<circle cx="1971.4" cy="886.2" r="1.55"/>
<circle cx="1980.3" cy="892.3" r="1.55"/>
<circle cx="1971.6" cy="909.8" r="1.55"/>
<circle cx="1970.8" cy="911.0" r="1.55"/>
<circle cx="1971.4" cy="917.3" r="1.55"/>
<circle cx="1972.4" cy="930.9" r="1.55"/>
<circle cx="1971.2" cy="932.0" r="1.55"/>
<circle cx="1961.3" cy="950.3" r="1.55"/>
<circle cx="1951.2" cy="969.5" r="1.55"/>
<circle cx="1956.4" cy="988.4" r="1.55"/>
<circle cx="1957.4" cy="1008.4" r="1.55"/>
<circle cx="1959.5" cy="1027.2" r="1.55"/>
<circle cx="1967.4" cy="1046.4" r="1.55"/>
<circle cx="1967.4" cy="1066.3" r="1.55"/>
<circle cx="1965.3" cy="1085.2" r="1.55"/>
<circle cx="1965.3" cy="1104.3" r="1.55"/>
<circle cx="1965.3" cy="1123.5" r="1.55"/>
<circle cx="1965.3" cy="1143.4" r="1.55"/>
<circle cx="1966.3" cy="1162.3" r="1.55"/>
<circle cx="1964.3" cy="1181.4" r="1.55"/>
<circle cx="1961.5" cy="1201.3" r="1.55"/>
<circle cx="1957.4" cy="1220.2" r="1.55"/>
</g>
<g font-family="'Liberation Sans', sans-serif" font-weight="bold" font-size="35.6px" fill="#000" text-anchor="middle">
<text x="313.4" y="41" textLength="150" lengthAdjust="spacingAndGlyphs">sar2424</text>
<text x="1171" y="41" textLength="391" lengthAdjust="spacingAndGlyphs">2021-06-22-09-59-25</text>
<text x="2029.1" y="41" textLength="42" lengthAdjust="spacingAndGlyphs">L8</text>
</g>
</svg>
</body></html>
